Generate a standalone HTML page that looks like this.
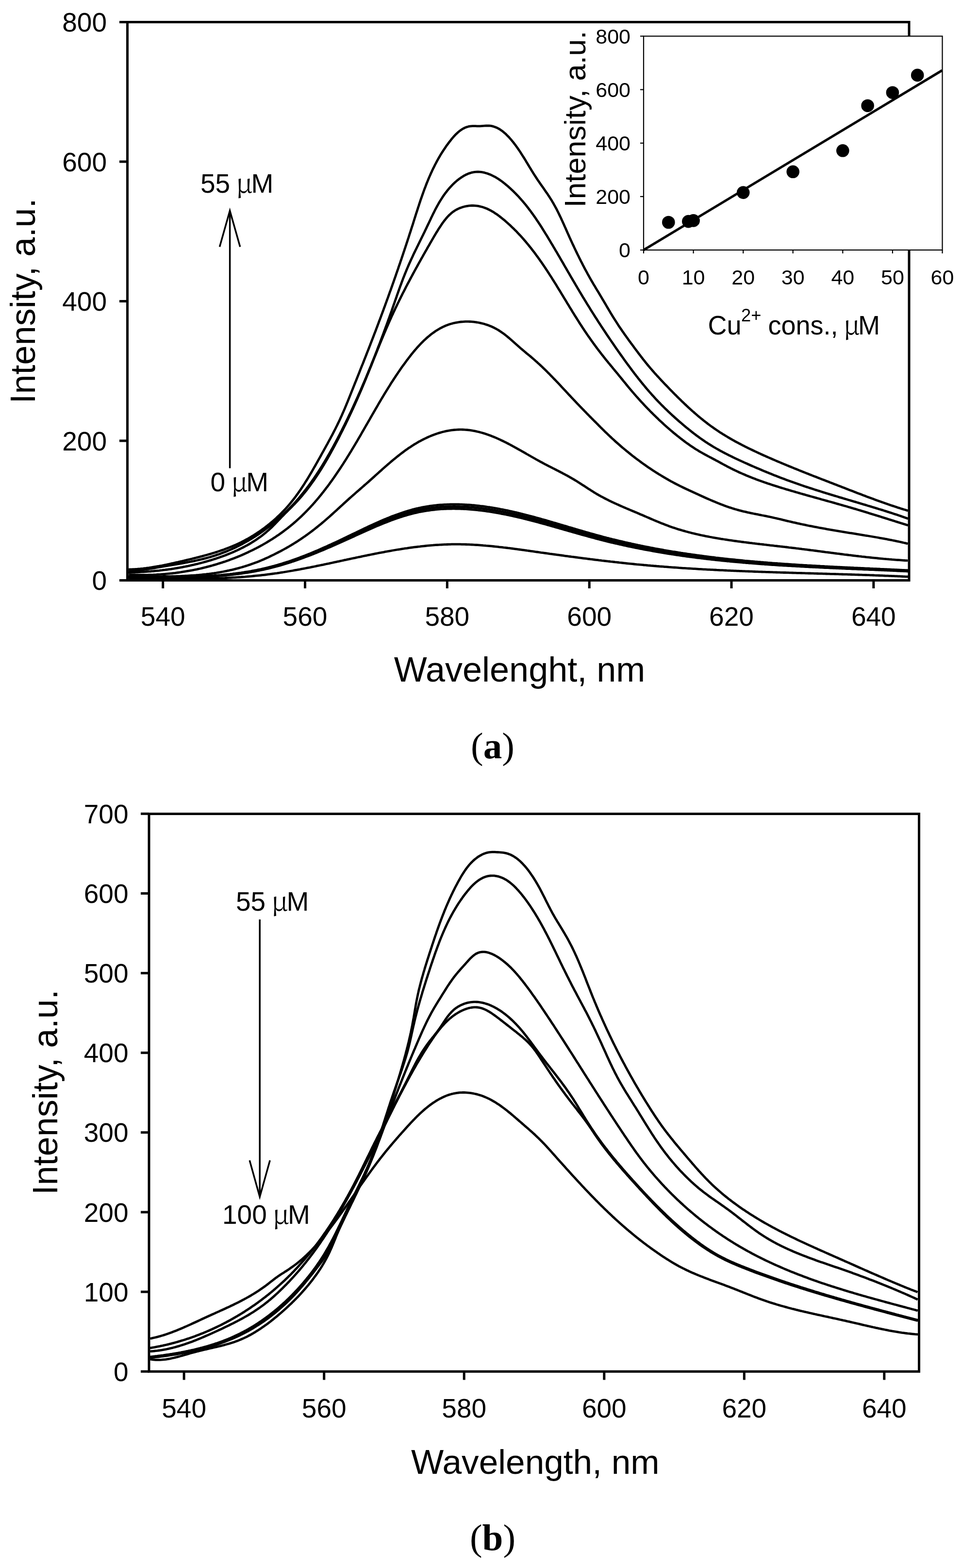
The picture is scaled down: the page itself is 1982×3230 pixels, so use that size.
<!DOCTYPE html>
<html><head><meta charset="utf-8"><title>Fluorescence spectra</title>
<style>html,body{margin:0;padding:0;background:#fff;}svg{display:block;}</style>
</head><body>
<svg width="1982" height="3230" viewBox="0 0 1982 3230">
<rect width="1982" height="3230" fill="#fff"/>
<g fill="none" stroke="#000" stroke-width="4.8" stroke-linejoin="round" stroke-linecap="butt">
<path d="M265.9 1192.0 L268.9 1192.0 L271.9 1192.0 L274.9 1192.0 L277.9 1192.0 L280.9 1192.0 L283.9 1192.1 L286.8 1192.1 L289.8 1192.1 L292.8 1192.1 L295.8 1192.1 L298.8 1192.2 L301.8 1192.2 L304.8 1192.2 L307.8 1192.2 L310.8 1192.3 L313.7 1192.3 L316.7 1192.3 L319.7 1192.3 L322.7 1192.4 L325.7 1192.4 L328.7 1192.4 L331.7 1192.4 L334.7 1192.4 L337.7 1192.5 L340.6 1192.5 L343.6 1192.5 L346.6 1192.5 L349.6 1192.5 L352.6 1192.5 L355.6 1192.5 L358.6 1192.6 L361.6 1192.6 L364.5 1192.6 L367.5 1192.6 L370.5 1192.6 L373.5 1192.6 L376.5 1192.6 L379.5 1192.5 L382.5 1192.5 L385.4 1192.5 L388.4 1192.5 L391.4 1192.5 L394.4 1192.4 L397.4 1192.4 L400.4 1192.4 L403.4 1192.4 L406.3 1192.3 L409.3 1192.3 L412.3 1192.2 L415.3 1192.2 L418.3 1192.1 L421.3 1192.1 L424.2 1192.0 L427.2 1191.9 L430.2 1191.8 L433.2 1191.8 L436.2 1191.7 L439.2 1191.6 L442.1 1191.5 L445.1 1191.4 L448.1 1191.3 L451.1 1191.2 L454.1 1191.1 L457.1 1190.9 L460.0 1190.8 L463.0 1190.7 L466.0 1190.5 L469.0 1190.4 L472.0 1190.2 L474.9 1190.1 L477.9 1189.9 L480.9 1189.7 L483.9 1189.6 L486.9 1189.4 L489.9 1189.2 L492.8 1189.0 L495.8 1188.8 L498.8 1188.5 L501.8 1188.3 L504.8 1188.1 L507.7 1187.8 L510.7 1187.6 L513.7 1187.3 L516.7 1187.1 L519.7 1186.8 L522.6 1186.5 L525.6 1186.2 L528.6 1185.9 L531.6 1185.6 L534.6 1185.3 L537.5 1185.0 L540.5 1184.6 L543.5 1184.3 L546.5 1184.0 L549.5 1183.6 L552.4 1183.2 L555.4 1182.8 L558.4 1182.4 L561.4 1182.0 L564.3 1181.6 L567.3 1181.2 L570.3 1180.8 L573.3 1180.3 L576.3 1179.9 L579.2 1179.4 L582.2 1179.0 L585.2 1178.5 L588.2 1178.0 L591.2 1177.5 L594.1 1177.0 L597.1 1176.5 L600.1 1176.0 L603.1 1175.5 L606.0 1174.9 L609.0 1174.4 L612.0 1173.9 L615.0 1173.3 L618.0 1172.8 L620.9 1172.2 L623.9 1171.7 L626.9 1171.1 L629.9 1170.5 L632.8 1169.9 L635.8 1169.3 L638.8 1168.8 L641.8 1168.2 L644.7 1167.6 L647.7 1167.0 L650.7 1166.4 L653.7 1165.7 L656.7 1165.1 L659.6 1164.5 L662.6 1163.9 L665.6 1163.3 L668.6 1162.6 L671.5 1162.0 L674.5 1161.4 L677.5 1160.8 L680.5 1160.1 L683.4 1159.5 L686.4 1158.8 L689.4 1158.2 L692.4 1157.6 L695.3 1156.9 L698.3 1156.3 L701.3 1155.6 L704.3 1155.0 L707.2 1154.4 L710.2 1153.7 L713.2 1153.1 L716.2 1152.4 L719.1 1151.8 L722.1 1151.2 L725.1 1150.5 L728.1 1149.9 L731.1 1149.3 L734.0 1148.6 L737.0 1148.0 L740.0 1147.4 L743.0 1146.8 L745.9 1146.1 L748.9 1145.5 L751.9 1144.9 L754.9 1144.3 L757.8 1143.7 L760.8 1143.1 L763.8 1142.5 L766.8 1141.9 L769.7 1141.3 L772.7 1140.7 L775.7 1140.1 L778.7 1139.5 L781.6 1138.9 L784.6 1138.4 L787.6 1137.8 L790.6 1137.3 L793.5 1136.7 L796.5 1136.2 L799.5 1135.6 L802.5 1135.1 L805.4 1134.6 L808.4 1134.0 L811.4 1133.5 L814.4 1133.0 L817.3 1132.5 L820.3 1132.0 L823.3 1131.6 L826.3 1131.1 L829.2 1130.6 L832.2 1130.2 L835.2 1129.7 L838.2 1129.3 L841.1 1128.8 L844.1 1128.4 L847.1 1128.0 L850.1 1127.6 L853.0 1127.2 L856.0 1126.8 L859.0 1126.5 L862.0 1126.1 L864.9 1125.8 L867.9 1125.4 L870.9 1125.1 L873.9 1124.8 L876.8 1124.5 L879.8 1124.2 L882.8 1123.9 L885.8 1123.6 L888.7 1123.4 L891.7 1123.2 L894.7 1122.9 L897.7 1122.7 L900.6 1122.5 L903.6 1122.3 L906.6 1122.1 L909.6 1122.0 L912.5 1121.8 L915.5 1121.7 L918.5 1121.6 L921.5 1121.5 L924.5 1121.4 L927.4 1121.3 L930.4 1121.2 L933.4 1121.2 L936.4 1121.2 L939.3 1121.2 L942.3 1121.2 L945.3 1121.2 L948.3 1121.2 L951.2 1121.3 L954.2 1121.3 L957.2 1121.4 L960.2 1121.5 L963.1 1121.6 L966.1 1121.7 L969.1 1121.9 L972.1 1122.0 L975.0 1122.1 L978.0 1122.3 L981.0 1122.5 L984.0 1122.7 L987.0 1122.9 L989.9 1123.1 L992.9 1123.3 L995.9 1123.6 L998.9 1123.8 L1001.8 1124.1 L1004.8 1124.3 L1007.8 1124.6 L1010.8 1124.9 L1013.7 1125.2 L1016.7 1125.5 L1019.7 1125.8 L1022.7 1126.1 L1025.7 1126.4 L1028.6 1126.8 L1031.6 1127.1 L1034.6 1127.4 L1037.6 1127.8 L1040.5 1128.1 L1043.5 1128.5 L1046.5 1128.9 L1049.5 1129.2 L1052.5 1129.6 L1055.4 1130.0 L1058.4 1130.4 L1061.4 1130.8 L1064.4 1131.2 L1067.4 1131.6 L1070.3 1132.0 L1073.3 1132.4 L1076.3 1132.8 L1079.3 1133.2 L1082.2 1133.6 L1085.2 1134.0 L1088.2 1134.5 L1091.2 1134.9 L1094.2 1135.3 L1097.1 1135.7 L1100.1 1136.1 L1103.1 1136.6 L1106.1 1137.0 L1109.1 1137.4 L1112.0 1137.8 L1115.0 1138.3 L1118.0 1138.7 L1121.0 1139.1 L1124.0 1139.5 L1126.9 1139.9 L1129.9 1140.3 L1132.9 1140.8 L1135.9 1141.2 L1138.9 1141.6 L1141.9 1142.0 L1144.8 1142.4 L1147.8 1142.8 L1150.8 1143.2 L1153.8 1143.6 L1156.8 1144.0 L1159.7 1144.4 L1162.7 1144.9 L1165.7 1145.3 L1168.7 1145.7 L1171.7 1146.1 L1174.7 1146.5 L1177.6 1146.9 L1180.6 1147.2 L1183.6 1147.6 L1186.6 1148.0 L1189.6 1148.4 L1192.5 1148.8 L1195.5 1149.2 L1198.5 1149.6 L1201.5 1150.0 L1204.5 1150.3 L1207.5 1150.7 L1210.4 1151.1 L1213.4 1151.5 L1216.4 1151.9 L1219.4 1152.2 L1222.4 1152.6 L1225.4 1153.0 L1228.4 1153.3 L1231.3 1153.7 L1234.3 1154.1 L1237.3 1154.4 L1240.3 1154.8 L1243.3 1155.1 L1246.3 1155.5 L1249.3 1155.8 L1252.2 1156.2 L1255.2 1156.5 L1258.2 1156.9 L1261.2 1157.2 L1264.2 1157.5 L1267.2 1157.9 L1270.2 1158.2 L1273.1 1158.5 L1276.1 1158.9 L1279.1 1159.2 L1282.1 1159.5 L1285.1 1159.8 L1288.1 1160.1 L1291.1 1160.5 L1294.1 1160.8 L1297.0 1161.1 L1300.0 1161.4 L1303.0 1161.7 L1306.0 1162.0 L1309.0 1162.3 L1312.0 1162.6 L1315.0 1162.8 L1318.0 1163.1 L1321.0 1163.4 L1323.9 1163.7 L1326.9 1164.0 L1329.9 1164.2 L1332.9 1164.5 L1335.9 1164.8 L1338.9 1165.0 L1341.9 1165.3 L1344.9 1165.5 L1347.9 1165.8 L1350.9 1166.0 L1353.8 1166.3 L1356.8 1166.5 L1359.8 1166.8 L1362.8 1167.0 L1365.8 1167.2 L1368.8 1167.5 L1371.8 1167.7 L1374.8 1167.9 L1377.8 1168.2 L1380.8 1168.4 L1383.8 1168.6 L1386.8 1168.8 L1389.8 1169.0 L1392.7 1169.2 L1395.7 1169.4 L1398.7 1169.7 L1401.7 1169.9 L1404.7 1170.1 L1407.7 1170.3 L1410.7 1170.4 L1413.7 1170.6 L1416.7 1170.8 L1419.7 1171.0 L1422.7 1171.2 L1425.7 1171.4 L1428.7 1171.6 L1431.7 1171.7 L1434.7 1171.9 L1437.7 1172.1 L1440.7 1172.3 L1443.7 1172.4 L1446.7 1172.6 L1449.7 1172.8 L1452.7 1172.9 L1455.7 1173.1 L1458.7 1173.3 L1461.7 1173.4 L1464.7 1173.6 L1467.7 1173.7 L1470.7 1173.9 L1473.7 1174.0 L1476.6 1174.2 L1479.6 1174.3 L1482.6 1174.5 L1485.6 1174.6 L1488.6 1174.7 L1491.6 1174.9 L1494.7 1175.0 L1497.7 1175.2 L1500.7 1175.3 L1503.7 1175.4 L1506.7 1175.6 L1509.7 1175.7 L1512.7 1175.8 L1515.7 1175.9 L1518.7 1176.1 L1521.7 1176.2 L1524.7 1176.3 L1527.7 1176.4 L1530.7 1176.6 L1533.7 1176.7 L1536.7 1176.8 L1539.7 1176.9 L1542.7 1177.0 L1545.7 1177.1 L1548.7 1177.2 L1551.7 1177.4 L1554.7 1177.5 L1557.7 1177.6 L1560.7 1177.7 L1563.7 1177.8 L1566.7 1177.9 L1569.7 1178.0 L1572.7 1178.1 L1575.8 1178.2 L1578.8 1178.3 L1581.8 1178.4 L1584.8 1178.5 L1587.8 1178.6 L1590.8 1178.7 L1593.8 1178.8 L1596.8 1178.9 L1599.8 1179.0 L1602.8 1179.1 L1605.8 1179.2 L1608.9 1179.3 L1611.9 1179.4 L1614.9 1179.5 L1617.9 1179.5 L1620.9 1179.6 L1623.9 1179.7 L1626.9 1179.8 L1629.9 1179.9 L1632.9 1180.0 L1636.0 1180.1 L1639.0 1180.2 L1642.0 1180.3 L1645.0 1180.3 L1648.0 1180.4 L1651.0 1180.5 L1654.0 1180.6 L1657.0 1180.7 L1660.1 1180.8 L1663.1 1180.9 L1666.1 1181.0 L1669.1 1181.0 L1672.1 1181.1 L1675.1 1181.2 L1678.2 1181.3 L1681.2 1181.4 L1684.2 1181.5 L1687.2 1181.6 L1690.2 1181.6 L1693.2 1181.7 L1696.3 1181.8 L1699.3 1181.9 L1702.3 1182.0 L1705.3 1182.1 L1708.3 1182.2 L1711.4 1182.3 L1714.4 1182.3 L1717.4 1182.4 L1720.4 1182.5 L1723.4 1182.6 L1726.5 1182.7 L1729.5 1182.8 L1732.5 1182.9 L1735.5 1183.0 L1738.5 1183.1 L1741.6 1183.2 L1744.6 1183.2 L1747.6 1183.3 L1750.6 1183.4 L1753.7 1183.5 L1756.7 1183.6 L1759.7 1183.7 L1762.7 1183.8 L1765.8 1183.9 L1768.8 1184.0 L1771.8 1184.1 L1774.8 1184.2 L1777.9 1184.3 L1780.9 1184.4 L1783.9 1184.5 L1786.9 1184.6 L1790.0 1184.7 L1793.0 1184.8 L1796.0 1184.9 L1799.0 1185.0 L1802.1 1185.2 L1805.1 1185.3 L1808.1 1185.4 L1811.2 1185.5 L1814.2 1185.6 L1817.2 1185.7 L1820.3 1185.8 L1823.3 1186.0 L1826.3 1186.1 L1829.3 1186.2 L1832.4 1186.3 L1835.4 1186.4 L1838.4 1186.6 L1841.5 1186.7 L1844.5 1186.8 L1847.5 1186.9 L1850.6 1187.1 L1853.6 1187.2 L1856.6 1187.3 L1859.7 1187.5 L1862.7 1187.6 L1865.8 1187.8 L1868.8 1187.9 L1871.0 1188.0"/>
<path d="M265.0 1190.3 L267.5 1190.3 L270.5 1190.3 L273.5 1190.3 L276.6 1190.3 L279.6 1190.3 L282.7 1190.3 L285.7 1190.3 L288.8 1190.3 L291.8 1190.3 L294.8 1190.3 L297.9 1190.4 L300.9 1190.4 L304.0 1190.4 L307.0 1190.4 L310.0 1190.4 L313.1 1190.4 L316.1 1190.4 L319.2 1190.4 L322.2 1190.4 L325.2 1190.4 L328.3 1190.4 L331.3 1190.4 L334.4 1190.4 L337.4 1190.4 L340.4 1190.4 L343.5 1190.3 L346.5 1190.3 L349.5 1190.3 L352.6 1190.3 L355.6 1190.3 L358.6 1190.2 L361.7 1190.2 L364.7 1190.1 L367.7 1190.1 L370.7 1190.1 L373.8 1190.0 L376.8 1189.9 L379.8 1189.9 L382.8 1189.8 L385.9 1189.7 L388.9 1189.7 L391.9 1189.6 L394.9 1189.5 L397.9 1189.4 L400.9 1189.3 L404.0 1189.2 L407.0 1189.1 L410.0 1188.9 L413.0 1188.8 L416.0 1188.7 L419.0 1188.5 L422.0 1188.4 L425.0 1188.2 L428.0 1188.0 L431.0 1187.9 L434.0 1187.7 L437.0 1187.5 L440.0 1187.3 L443.0 1187.1 L446.0 1186.8 L448.9 1186.6 L451.9 1186.4 L454.9 1186.1 L457.9 1185.9 L460.9 1185.6 L463.8 1185.3 L466.8 1185.0 L469.8 1184.7 L472.8 1184.4 L475.7 1184.1 L478.7 1183.8 L481.6 1183.4 L484.6 1183.1 L487.6 1182.7 L490.5 1182.3 L493.5 1181.9 L496.4 1181.5 L499.4 1181.1 L502.3 1180.7 L505.2 1180.2 L508.2 1179.8 L511.1 1179.3 L514.0 1178.8 L517.0 1178.3 L519.9 1177.8 L522.8 1177.3 L525.7 1176.8 L528.7 1176.2 L531.6 1175.7 L534.5 1175.1 L537.4 1174.5 L540.3 1173.9 L543.2 1173.3 L546.1 1172.6 L549.0 1172.0 L551.9 1171.3 L554.8 1170.6 L557.6 1169.9 L560.5 1169.2 L563.4 1168.5 L566.3 1167.7 L569.1 1166.9 L572.0 1166.2 L574.9 1165.4 L577.7 1164.6 L580.6 1163.7 L583.4 1162.9 L586.3 1162.0 L589.1 1161.2 L592.0 1160.3 L594.8 1159.4 L597.7 1158.5 L600.5 1157.6 L603.3 1156.6 L606.2 1155.7 L609.0 1154.7 L611.8 1153.7 L614.6 1152.7 L617.5 1151.7 L620.3 1150.7 L623.1 1149.7 L625.9 1148.7 L628.7 1147.6 L631.6 1146.6 L634.4 1145.5 L637.2 1144.4 L640.0 1143.4 L642.8 1142.3 L645.6 1141.2 L648.4 1140.0 L651.2 1138.9 L654.0 1137.8 L656.8 1136.6 L659.6 1135.5 L662.4 1134.3 L665.2 1133.2 L668.0 1132.0 L670.8 1130.8 L673.6 1129.6 L676.4 1128.4 L679.2 1127.2 L682.0 1126.0 L684.8 1124.8 L687.6 1123.6 L690.4 1122.4 L693.2 1121.1 L696.0 1119.9 L698.8 1118.6 L701.6 1117.4 L704.4 1116.1 L707.1 1114.9 L709.9 1113.6 L712.7 1112.3 L715.5 1111.1 L718.3 1109.8 L721.1 1108.5 L723.9 1107.2 L726.7 1106.0 L729.5 1104.7 L732.3 1103.4 L735.1 1102.1 L737.9 1100.8 L740.7 1099.6 L743.5 1098.3 L746.3 1097.0 L749.1 1095.8 L751.9 1094.5 L754.7 1093.2 L757.5 1092.0 L760.4 1090.7 L763.2 1089.5 L766.0 1088.3 L768.8 1087.0 L771.6 1085.8 L774.4 1084.6 L777.2 1083.4 L780.1 1082.2 L782.9 1081.0 L785.7 1079.9 L788.5 1078.7 L791.4 1077.6 L794.2 1076.5 L797.0 1075.4 L799.8 1074.3 L802.7 1073.2 L805.5 1072.1 L808.4 1071.1 L811.2 1070.0 L814.0 1069.0 L816.9 1068.0 L819.7 1067.0 L822.6 1066.1 L825.4 1065.1 L828.3 1064.2 L831.2 1063.3 L834.0 1062.4 L836.9 1061.6 L839.7 1060.8 L842.6 1060.0 L845.5 1059.2 L848.4 1058.4 L851.2 1057.7 L854.1 1057.0 L857.0 1056.3 L859.9 1055.7 L862.8 1055.0 L865.7 1054.5 L868.6 1053.9 L871.5 1053.3 L874.4 1052.8 L877.3 1052.4 L880.2 1051.9 L883.1 1051.5 L886.0 1051.1 L888.9 1050.7 L891.9 1050.3 L894.8 1050.0 L897.7 1049.7 L900.6 1049.4 L903.6 1049.2 L906.5 1048.9 L909.4 1048.7 L912.4 1048.6 L915.3 1048.4 L918.2 1048.3 L921.2 1048.2 L924.1 1048.1 L927.1 1048.0 L930.0 1048.0 L932.9 1047.9 L935.9 1047.9 L938.8 1048.0 L941.8 1048.0 L944.7 1048.1 L947.7 1048.2 L950.6 1048.3 L953.6 1048.4 L956.6 1048.5 L959.5 1048.7 L962.5 1048.9 L965.4 1049.1 L968.4 1049.3 L971.3 1049.5 L974.3 1049.8 L977.3 1050.1 L980.2 1050.3 L983.2 1050.7 L986.1 1051.0 L989.1 1051.3 L992.1 1051.7 L995.0 1052.0 L998.0 1052.4 L1000.9 1052.8 L1003.9 1053.3 L1006.9 1053.7 L1009.8 1054.2 L1012.8 1054.6 L1015.7 1055.1 L1018.7 1055.6 L1021.6 1056.1 L1024.6 1056.6 L1027.5 1057.1 L1030.5 1057.7 L1033.4 1058.3 L1036.4 1058.8 L1039.3 1059.4 L1042.3 1060.0 L1045.2 1060.6 L1048.2 1061.2 L1051.1 1061.8 L1054.1 1062.5 L1057.0 1063.1 L1060.0 1063.8 L1062.9 1064.5 L1065.8 1065.1 L1068.8 1065.8 L1071.7 1066.5 L1074.6 1067.2 L1077.6 1067.9 L1080.5 1068.7 L1083.4 1069.4 L1086.4 1070.1 L1089.3 1070.9 L1092.2 1071.6 L1095.2 1072.4 L1098.1 1073.2 L1101.0 1073.9 L1104.0 1074.7 L1106.9 1075.5 L1109.8 1076.3 L1112.7 1077.1 L1115.7 1077.9 L1118.6 1078.7 L1121.5 1079.5 L1124.5 1080.3 L1127.4 1081.1 L1130.3 1081.9 L1133.2 1082.7 L1136.2 1083.6 L1139.1 1084.4 L1142.0 1085.2 L1144.9 1086.1 L1147.9 1086.9 L1150.8 1087.7 L1153.7 1088.6 L1156.6 1089.4 L1159.5 1090.2 L1162.5 1091.1 L1165.4 1091.9 L1168.3 1092.8 L1171.2 1093.6 L1174.2 1094.4 L1177.1 1095.3 L1180.0 1096.1 L1182.9 1096.9 L1185.9 1097.8 L1188.8 1098.6 L1191.7 1099.4 L1194.6 1100.3 L1197.6 1101.1 L1200.5 1101.9 L1203.4 1102.7 L1206.3 1103.5 L1209.3 1104.3 L1212.2 1105.2 L1215.1 1106.0 L1218.0 1106.8 L1221.0 1107.5 L1223.9 1108.3 L1226.8 1109.1 L1229.7 1109.9 L1232.7 1110.7 L1235.6 1111.4 L1238.5 1112.2 L1241.5 1112.9 L1244.4 1113.7 L1247.3 1114.4 L1250.3 1115.1 L1253.2 1115.9 L1256.1 1116.6 L1259.1 1117.3 L1262.0 1118.0 L1264.9 1118.7 L1267.9 1119.4 L1270.8 1120.0 L1273.8 1120.7 L1276.7 1121.4 L1279.6 1122.0 L1282.6 1122.7 L1285.5 1123.4 L1288.5 1124.0 L1291.4 1124.6 L1294.4 1125.3 L1297.3 1125.9 L1300.2 1126.5 L1303.2 1127.1 L1306.1 1127.7 L1309.1 1128.3 L1312.0 1128.9 L1315.0 1129.5 L1317.9 1130.1 L1320.9 1130.7 L1323.8 1131.2 L1326.8 1131.8 L1329.7 1132.4 L1332.7 1132.9 L1335.6 1133.5 L1338.6 1134.0 L1341.5 1134.5 L1344.5 1135.1 L1347.4 1135.6 L1350.4 1136.1 L1353.3 1136.6 L1356.3 1137.1 L1359.3 1137.7 L1362.2 1138.2 L1365.2 1138.6 L1368.1 1139.1 L1371.1 1139.6 L1374.0 1140.1 L1377.0 1140.6 L1380.0 1141.0 L1382.9 1141.5 L1385.9 1141.9 L1388.9 1142.4 L1391.8 1142.8 L1394.8 1143.3 L1397.7 1143.7 L1400.7 1144.2 L1403.7 1144.6 L1406.6 1145.0 L1409.6 1145.4 L1412.6 1145.8 L1415.5 1146.3 L1418.5 1146.7 L1421.5 1147.1 L1424.4 1147.4 L1427.4 1147.8 L1430.4 1148.2 L1433.3 1148.6 L1436.3 1149.0 L1439.3 1149.4 L1442.3 1149.7 L1445.2 1150.1 L1448.2 1150.4 L1451.2 1150.8 L1454.1 1151.2 L1457.1 1151.5 L1460.1 1151.8 L1463.1 1152.2 L1466.0 1152.5 L1469.0 1152.9 L1472.0 1153.2 L1475.0 1153.5 L1478.0 1153.8 L1480.9 1154.1 L1483.9 1154.4 L1486.9 1154.8 L1489.9 1155.1 L1492.8 1155.4 L1495.8 1155.7 L1498.8 1156.0 L1501.8 1156.2 L1504.8 1156.5 L1507.8 1156.8 L1510.7 1157.1 L1513.7 1157.4 L1516.7 1157.6 L1519.7 1157.9 L1522.7 1158.2 L1525.7 1158.4 L1528.6 1158.7 L1531.6 1159.0 L1534.6 1159.2 L1537.6 1159.5 L1540.6 1159.7 L1543.6 1160.0 L1546.6 1160.2 L1549.6 1160.4 L1552.5 1160.7 L1555.5 1160.9 L1558.5 1161.1 L1561.5 1161.4 L1564.5 1161.6 L1567.5 1161.8 L1570.5 1162.0 L1573.5 1162.2 L1576.5 1162.5 L1579.5 1162.7 L1582.4 1162.9 L1585.4 1163.1 L1588.4 1163.3 L1591.4 1163.5 L1594.4 1163.7 L1597.4 1163.9 L1600.4 1164.1 L1603.4 1164.3 L1606.4 1164.5 L1609.4 1164.6 L1612.4 1164.8 L1615.4 1165.0 L1618.4 1165.2 L1621.4 1165.4 L1624.4 1165.6 L1627.4 1165.7 L1630.4 1165.9 L1633.4 1166.1 L1636.4 1166.2 L1639.4 1166.4 L1642.4 1166.6 L1645.4 1166.7 L1648.4 1166.9 L1651.4 1167.1 L1654.4 1167.2 L1657.4 1167.4 L1660.4 1167.5 L1663.4 1167.7 L1666.4 1167.8 L1669.4 1168.0 L1672.4 1168.1 L1675.4 1168.3 L1678.4 1168.4 L1681.4 1168.6 L1684.4 1168.7 L1687.4 1168.9 L1690.4 1169.0 L1693.4 1169.2 L1696.5 1169.3 L1699.5 1169.5 L1702.5 1169.6 L1705.5 1169.7 L1708.5 1169.9 L1711.5 1170.0 L1714.5 1170.1 L1717.5 1170.3 L1720.5 1170.4 L1723.5 1170.5 L1726.5 1170.7 L1729.5 1170.8 L1732.6 1170.9 L1735.6 1171.1 L1738.6 1171.2 L1741.6 1171.3 L1744.6 1171.5 L1747.6 1171.6 L1750.6 1171.7 L1753.6 1171.8 L1756.6 1172.0 L1759.7 1172.1 L1762.7 1172.2 L1765.7 1172.4 L1768.7 1172.5 L1771.7 1172.6 L1774.7 1172.7 L1777.7 1172.9 L1780.7 1173.0 L1783.8 1173.1 L1786.8 1173.2 L1789.8 1173.4 L1792.8 1173.5 L1795.8 1173.6 L1798.8 1173.7 L1801.9 1173.9 L1804.9 1174.0 L1807.9 1174.1 L1810.9 1174.3 L1813.9 1174.4 L1816.9 1174.5 L1820.0 1174.7 L1823.0 1174.8 L1826.0 1174.9 L1829.0 1175.0 L1832.0 1175.2 L1835.0 1175.3 L1838.1 1175.4 L1841.1 1175.6 L1844.1 1175.7 L1847.1 1175.9 L1850.1 1176.0 L1853.2 1176.1 L1856.2 1176.3 L1859.2 1176.4 L1862.2 1176.6 L1865.2 1176.7 L1868.3 1176.8 L1871.0 1177.0"/>
<path d="M265.0 1189.7 L267.5 1189.7 L270.5 1189.7 L273.5 1189.7 L276.6 1189.7 L279.6 1189.7 L282.7 1189.7 L285.7 1189.7 L288.7 1189.7 L291.8 1189.7 L294.8 1189.7 L297.8 1189.7 L300.9 1189.7 L303.9 1189.7 L307.0 1189.8 L310.0 1189.8 L313.0 1189.8 L316.1 1189.8 L319.1 1189.8 L322.1 1189.8 L325.2 1189.8 L328.2 1189.7 L331.3 1189.7 L334.3 1189.7 L337.3 1189.7 L340.4 1189.7 L343.4 1189.7 L346.4 1189.7 L349.5 1189.6 L352.5 1189.6 L355.5 1189.6 L358.5 1189.6 L361.6 1189.5 L364.6 1189.5 L367.6 1189.4 L370.7 1189.4 L373.7 1189.3 L376.7 1189.3 L379.7 1189.2 L382.7 1189.1 L385.8 1189.1 L388.8 1189.0 L391.8 1188.9 L394.8 1188.8 L397.8 1188.7 L400.8 1188.6 L403.9 1188.5 L406.9 1188.4 L409.9 1188.2 L412.9 1188.1 L415.9 1188.0 L418.9 1187.8 L421.9 1187.7 L424.9 1187.5 L427.9 1187.3 L430.9 1187.2 L433.9 1187.0 L436.9 1186.8 L439.9 1186.6 L442.9 1186.4 L445.8 1186.1 L448.8 1185.9 L451.8 1185.7 L454.8 1185.4 L457.8 1185.1 L460.7 1184.9 L463.7 1184.6 L466.7 1184.3 L469.6 1184.0 L472.6 1183.7 L475.6 1183.3 L478.5 1183.0 L481.5 1182.7 L484.5 1182.3 L487.4 1181.9 L490.4 1181.5 L493.3 1181.1 L496.2 1180.7 L499.2 1180.3 L502.1 1179.9 L505.1 1179.4 L508.0 1179.0 L510.9 1178.5 L513.9 1178.0 L516.8 1177.5 L519.7 1177.0 L522.6 1176.4 L525.5 1175.9 L528.4 1175.3 L531.4 1174.8 L534.3 1174.2 L537.2 1173.6 L540.1 1172.9 L542.9 1172.3 L545.8 1171.7 L548.7 1171.0 L551.6 1170.3 L554.5 1169.6 L557.4 1168.9 L560.2 1168.1 L563.1 1167.4 L566.0 1166.6 L568.8 1165.8 L571.7 1165.0 L574.5 1164.2 L577.4 1163.4 L580.2 1162.6 L583.1 1161.7 L585.9 1160.8 L588.8 1159.9 L591.6 1159.0 L594.4 1158.1 L597.3 1157.2 L600.1 1156.2 L602.9 1155.3 L605.8 1154.3 L608.6 1153.3 L611.4 1152.3 L614.2 1151.3 L617.0 1150.3 L619.8 1149.2 L622.6 1148.2 L625.4 1147.1 L628.2 1146.1 L631.1 1145.0 L633.9 1143.9 L636.7 1142.8 L639.4 1141.7 L642.2 1140.6 L645.0 1139.4 L647.8 1138.3 L650.6 1137.1 L653.4 1136.0 L656.2 1134.8 L659.0 1133.6 L661.8 1132.4 L664.6 1131.2 L667.4 1130.0 L670.1 1128.8 L672.9 1127.6 L675.7 1126.4 L678.5 1125.2 L681.3 1123.9 L684.0 1122.7 L686.8 1121.4 L689.6 1120.2 L692.4 1118.9 L695.2 1117.6 L698.0 1116.4 L700.7 1115.1 L703.5 1113.8 L706.3 1112.5 L709.1 1111.2 L711.9 1109.9 L714.6 1108.6 L717.4 1107.3 L720.2 1106.0 L723.0 1104.7 L725.8 1103.4 L728.6 1102.1 L731.3 1100.8 L734.1 1099.5 L736.9 1098.2 L739.7 1096.9 L742.5 1095.6 L745.3 1094.3 L748.1 1093.0 L750.9 1091.7 L753.6 1090.4 L756.4 1089.1 L759.2 1087.9 L762.0 1086.6 L764.8 1085.3 L767.6 1084.1 L770.4 1082.9 L773.2 1081.6 L776.0 1080.4 L778.8 1079.2 L781.7 1078.0 L784.5 1076.8 L787.3 1075.6 L790.1 1074.4 L792.9 1073.3 L795.7 1072.2 L798.5 1071.0 L801.4 1069.9 L804.2 1068.8 L807.0 1067.7 L809.8 1066.7 L812.7 1065.6 L815.5 1064.6 L818.3 1063.6 L821.2 1062.6 L824.0 1061.7 L826.9 1060.7 L829.7 1059.8 L832.6 1058.9 L835.4 1058.0 L838.3 1057.2 L841.1 1056.3 L844.0 1055.5 L846.8 1054.7 L849.7 1054.0 L852.6 1053.2 L855.5 1052.5 L858.3 1051.9 L861.2 1051.2 L864.1 1050.6 L867.0 1050.0 L869.9 1049.4 L872.8 1048.9 L875.7 1048.4 L878.6 1047.9 L881.5 1047.4 L884.4 1047.0 L887.3 1046.6 L890.2 1046.2 L893.1 1045.9 L896.0 1045.6 L898.9 1045.3 L901.9 1045.0 L904.8 1044.7 L907.7 1044.5 L910.6 1044.3 L913.6 1044.1 L916.5 1044.0 L919.4 1043.8 L922.4 1043.7 L925.3 1043.7 L928.3 1043.6 L931.2 1043.6 L934.1 1043.5 L937.1 1043.5 L940.0 1043.6 L943.0 1043.6 L945.9 1043.7 L948.9 1043.8 L951.8 1043.9 L954.8 1044.0 L957.7 1044.1 L960.7 1044.3 L963.6 1044.5 L966.6 1044.7 L969.5 1044.9 L972.5 1045.2 L975.4 1045.4 L978.4 1045.7 L981.4 1046.0 L984.3 1046.3 L987.3 1046.6 L990.2 1047.0 L993.2 1047.4 L996.1 1047.7 L999.1 1048.1 L1002.1 1048.5 L1005.0 1049.0 L1008.0 1049.4 L1010.9 1049.9 L1013.9 1050.3 L1016.8 1050.8 L1019.8 1051.3 L1022.7 1051.8 L1025.7 1052.4 L1028.6 1052.9 L1031.6 1053.5 L1034.5 1054.0 L1037.5 1054.6 L1040.4 1055.2 L1043.4 1055.8 L1046.3 1056.4 L1049.2 1057.0 L1052.2 1057.7 L1055.1 1058.3 L1058.1 1059.0 L1061.0 1059.6 L1063.9 1060.3 L1066.9 1061.0 L1069.8 1061.7 L1072.7 1062.4 L1075.7 1063.1 L1078.6 1063.8 L1081.5 1064.6 L1084.5 1065.3 L1087.4 1066.0 L1090.3 1066.8 L1093.2 1067.6 L1096.2 1068.3 L1099.1 1069.1 L1102.0 1069.9 L1104.9 1070.7 L1107.9 1071.5 L1110.8 1072.2 L1113.7 1073.1 L1116.6 1073.9 L1119.6 1074.7 L1122.5 1075.5 L1125.4 1076.3 L1128.3 1077.1 L1131.2 1078.0 L1134.2 1078.8 L1137.1 1079.6 L1140.0 1080.5 L1142.9 1081.3 L1145.8 1082.1 L1148.8 1083.0 L1151.7 1083.8 L1154.6 1084.7 L1157.5 1085.5 L1160.4 1086.4 L1163.4 1087.2 L1166.3 1088.1 L1169.2 1088.9 L1172.1 1089.8 L1175.0 1090.6 L1177.9 1091.5 L1180.9 1092.3 L1183.8 1093.2 L1186.7 1094.0 L1189.6 1094.9 L1192.5 1095.7 L1195.5 1096.5 L1198.4 1097.4 L1201.3 1098.2 L1204.2 1099.0 L1207.1 1099.8 L1210.1 1100.7 L1213.0 1101.5 L1215.9 1102.3 L1218.8 1103.1 L1221.8 1103.9 L1224.7 1104.7 L1227.6 1105.5 L1230.5 1106.3 L1233.5 1107.1 L1236.4 1107.8 L1239.3 1108.6 L1242.2 1109.4 L1245.2 1110.1 L1248.1 1110.9 L1251.0 1111.6 L1253.9 1112.3 L1256.9 1113.1 L1259.8 1113.8 L1262.7 1114.5 L1265.7 1115.2 L1268.6 1115.9 L1271.5 1116.6 L1274.5 1117.3 L1277.4 1118.0 L1280.3 1118.7 L1283.3 1119.3 L1286.2 1120.0 L1289.2 1120.6 L1292.1 1121.3 L1295.0 1121.9 L1298.0 1122.6 L1300.9 1123.2 L1303.8 1123.8 L1306.8 1124.5 L1309.7 1125.1 L1312.7 1125.7 L1315.6 1126.3 L1318.6 1126.9 L1321.5 1127.5 L1324.4 1128.1 L1327.4 1128.6 L1330.3 1129.2 L1333.3 1129.8 L1336.2 1130.4 L1339.2 1130.9 L1342.1 1131.5 L1345.1 1132.0 L1348.0 1132.5 L1351.0 1133.1 L1353.9 1133.6 L1356.9 1134.1 L1359.8 1134.7 L1362.8 1135.2 L1365.7 1135.7 L1368.7 1136.2 L1371.6 1136.7 L1374.6 1137.2 L1377.6 1137.7 L1380.5 1138.1 L1383.5 1138.6 L1386.4 1139.1 L1389.4 1139.6 L1392.3 1140.0 L1395.3 1140.5 L1398.3 1140.9 L1401.2 1141.4 L1404.2 1141.8 L1407.1 1142.3 L1410.1 1142.7 L1413.1 1143.1 L1416.0 1143.6 L1419.0 1144.0 L1421.9 1144.4 L1424.9 1144.8 L1427.9 1145.2 L1430.8 1145.6 L1433.8 1146.0 L1436.8 1146.4 L1439.7 1146.8 L1442.7 1147.2 L1445.7 1147.6 L1448.6 1147.9 L1451.6 1148.3 L1454.6 1148.7 L1457.6 1149.0 L1460.5 1149.4 L1463.5 1149.8 L1466.5 1150.1 L1469.4 1150.5 L1472.4 1150.8 L1475.4 1151.1 L1478.4 1151.5 L1481.3 1151.8 L1484.3 1152.1 L1487.3 1152.5 L1490.3 1152.8 L1493.2 1153.1 L1496.2 1153.4 L1499.2 1153.7 L1502.2 1154.0 L1505.1 1154.3 L1508.1 1154.6 L1511.1 1154.9 L1514.1 1155.2 L1517.0 1155.5 L1520.0 1155.8 L1523.0 1156.1 L1526.0 1156.4 L1529.0 1156.6 L1532.0 1156.9 L1534.9 1157.2 L1537.9 1157.4 L1540.9 1157.7 L1543.9 1158.0 L1546.9 1158.2 L1549.9 1158.5 L1552.8 1158.7 L1555.8 1159.0 L1558.8 1159.2 L1561.8 1159.5 L1564.8 1159.7 L1567.8 1159.9 L1570.8 1160.2 L1573.7 1160.4 L1576.7 1160.6 L1579.7 1160.8 L1582.7 1161.1 L1585.7 1161.3 L1588.7 1161.5 L1591.7 1161.7 L1594.7 1161.9 L1597.7 1162.1 L1600.7 1162.4 L1603.6 1162.6 L1606.6 1162.8 L1609.6 1163.0 L1612.6 1163.2 L1615.6 1163.4 L1618.6 1163.6 L1621.6 1163.7 L1624.6 1163.9 L1627.6 1164.1 L1630.6 1164.3 L1633.6 1164.5 L1636.6 1164.7 L1639.6 1164.9 L1642.6 1165.0 L1645.6 1165.2 L1648.6 1165.4 L1651.6 1165.6 L1654.6 1165.7 L1657.6 1165.9 L1660.6 1166.1 L1663.6 1166.2 L1666.6 1166.4 L1669.6 1166.6 L1672.6 1166.7 L1675.6 1166.9 L1678.6 1167.0 L1681.6 1167.2 L1684.6 1167.4 L1687.6 1167.5 L1690.6 1167.7 L1693.6 1167.8 L1696.6 1168.0 L1699.6 1168.1 L1702.6 1168.3 L1705.6 1168.4 L1708.6 1168.6 L1711.6 1168.7 L1714.6 1168.9 L1717.6 1169.0 L1720.6 1169.1 L1723.6 1169.3 L1726.6 1169.4 L1729.6 1169.6 L1732.7 1169.7 L1735.7 1169.8 L1738.7 1170.0 L1741.7 1170.1 L1744.7 1170.2 L1747.7 1170.4 L1750.7 1170.5 L1753.7 1170.7 L1756.7 1170.8 L1759.7 1170.9 L1762.7 1171.1 L1765.8 1171.2 L1768.8 1171.3 L1771.8 1171.4 L1774.8 1171.6 L1777.8 1171.7 L1780.8 1171.8 L1783.8 1172.0 L1786.8 1172.1 L1789.8 1172.2 L1792.9 1172.4 L1795.9 1172.5 L1798.9 1172.6 L1801.9 1172.8 L1804.9 1172.9 L1807.9 1173.0 L1810.9 1173.1 L1814.0 1173.3 L1817.0 1173.4 L1820.0 1173.5 L1823.0 1173.7 L1826.0 1173.8 L1829.0 1173.9 L1832.1 1174.1 L1835.1 1174.2 L1838.1 1174.3 L1841.1 1174.5 L1844.1 1174.6 L1847.1 1174.7 L1850.2 1174.9 L1853.2 1175.0 L1856.2 1175.2 L1859.2 1175.3 L1862.2 1175.4 L1865.3 1175.6 L1868.3 1175.7 L1871.0 1175.9"/>
<path d="M265.0 1189.3 L267.5 1189.3 L270.5 1189.2 L273.6 1189.2 L276.6 1189.2 L279.6 1189.2 L282.7 1189.2 L285.7 1189.2 L288.7 1189.2 L291.8 1189.2 L294.8 1189.2 L297.9 1189.2 L300.9 1189.2 L303.9 1189.2 L307.0 1189.2 L310.0 1189.2 L313.1 1189.2 L316.1 1189.2 L319.2 1189.2 L322.2 1189.1 L325.2 1189.1 L328.3 1189.1 L331.3 1189.1 L334.3 1189.1 L337.4 1189.1 L340.4 1189.1 L343.5 1189.0 L346.5 1189.0 L349.5 1189.0 L352.6 1189.0 L355.6 1188.9 L358.6 1188.9 L361.7 1188.8 L364.7 1188.8 L367.7 1188.7 L370.8 1188.7 L373.8 1188.6 L376.8 1188.6 L379.8 1188.5 L382.9 1188.4 L385.9 1188.3 L388.9 1188.3 L391.9 1188.2 L395.0 1188.1 L398.0 1188.0 L401.0 1187.9 L404.0 1187.7 L407.0 1187.6 L410.0 1187.5 L413.0 1187.3 L416.1 1187.2 L419.1 1187.0 L422.1 1186.9 L425.1 1186.7 L428.1 1186.5 L431.1 1186.4 L434.1 1186.2 L437.1 1186.0 L440.1 1185.8 L443.1 1185.5 L446.0 1185.3 L449.0 1185.1 L452.0 1184.8 L455.0 1184.6 L458.0 1184.3 L461.0 1184.0 L463.9 1183.7 L466.9 1183.4 L469.9 1183.1 L472.9 1182.8 L475.8 1182.4 L478.8 1182.1 L481.7 1181.7 L484.7 1181.4 L487.7 1181.0 L490.6 1180.6 L493.6 1180.2 L496.5 1179.8 L499.4 1179.3 L502.4 1178.9 L505.3 1178.4 L508.3 1178.0 L511.2 1177.5 L514.1 1177.0 L517.0 1176.5 L520.0 1175.9 L522.9 1175.4 L525.8 1174.8 L528.7 1174.3 L531.6 1173.7 L534.5 1173.1 L537.4 1172.5 L540.3 1171.8 L543.2 1171.2 L546.1 1170.5 L549.0 1169.8 L551.9 1169.1 L554.7 1168.4 L557.6 1167.7 L560.5 1166.9 L563.4 1166.2 L566.2 1165.4 L569.1 1164.6 L571.9 1163.8 L574.8 1162.9 L577.6 1162.1 L580.5 1161.2 L583.3 1160.3 L586.2 1159.4 L589.0 1158.5 L591.8 1157.6 L594.7 1156.7 L597.5 1155.7 L600.3 1154.8 L603.1 1153.8 L605.9 1152.8 L608.8 1151.8 L611.6 1150.8 L614.4 1149.7 L617.2 1148.7 L620.0 1147.6 L622.8 1146.6 L625.6 1145.5 L628.4 1144.4 L631.2 1143.3 L634.0 1142.2 L636.8 1141.1 L639.6 1139.9 L642.4 1138.8 L645.1 1137.6 L647.9 1136.5 L650.7 1135.3 L653.5 1134.1 L656.3 1132.9 L659.1 1131.7 L661.8 1130.5 L664.6 1129.3 L667.4 1128.0 L670.2 1126.8 L672.9 1125.6 L675.7 1124.3 L678.5 1123.0 L681.3 1121.8 L684.0 1120.5 L686.8 1119.2 L689.6 1117.9 L692.4 1116.7 L695.1 1115.4 L697.9 1114.1 L700.7 1112.8 L703.4 1111.4 L706.2 1110.1 L709.0 1108.8 L711.8 1107.5 L714.5 1106.1 L717.3 1104.8 L720.1 1103.5 L722.8 1102.1 L725.6 1100.8 L728.4 1099.5 L731.2 1098.1 L733.9 1096.8 L736.7 1095.4 L739.5 1094.1 L742.3 1092.8 L745.1 1091.4 L747.8 1090.1 L750.6 1088.8 L753.4 1087.5 L756.2 1086.1 L759.0 1084.8 L761.8 1083.5 L764.6 1082.2 L767.4 1081.0 L770.1 1079.7 L772.9 1078.4 L775.7 1077.1 L778.5 1075.9 L781.3 1074.7 L784.1 1073.4 L786.9 1072.2 L789.7 1071.0 L792.6 1069.8 L795.4 1068.7 L798.2 1067.5 L801.0 1066.4 L803.8 1065.2 L806.6 1064.1 L809.4 1063.0 L812.3 1062.0 L815.1 1060.9 L817.9 1059.9 L820.8 1058.9 L823.6 1057.9 L826.4 1056.9 L829.3 1055.9 L832.1 1055.0 L835.0 1054.1 L837.8 1053.2 L840.7 1052.3 L843.5 1051.5 L846.4 1050.7 L849.2 1049.9 L852.1 1049.1 L855.0 1048.4 L857.9 1047.7 L860.7 1047.0 L863.6 1046.4 L866.5 1045.8 L869.4 1045.2 L872.3 1044.6 L875.2 1044.1 L878.1 1043.6 L881.0 1043.1 L883.9 1042.7 L886.8 1042.2 L889.7 1041.8 L892.6 1041.5 L895.5 1041.1 L898.4 1040.8 L901.3 1040.5 L904.3 1040.2 L907.2 1040.0 L910.1 1039.8 L913.1 1039.6 L916.0 1039.4 L918.9 1039.3 L921.9 1039.2 L924.8 1039.1 L927.7 1039.0 L930.7 1038.9 L933.6 1038.9 L936.6 1038.9 L939.5 1038.9 L942.5 1039.0 L945.4 1039.0 L948.4 1039.1 L951.3 1039.2 L954.3 1039.3 L957.2 1039.5 L960.2 1039.6 L963.1 1039.8 L966.1 1040.0 L969.0 1040.2 L972.0 1040.5 L974.9 1040.7 L977.9 1041.0 L980.9 1041.3 L983.8 1041.6 L986.8 1041.9 L989.7 1042.3 L992.7 1042.6 L995.7 1043.0 L998.6 1043.4 L1001.6 1043.8 L1004.5 1044.3 L1007.5 1044.7 L1010.4 1045.2 L1013.4 1045.6 L1016.4 1046.1 L1019.3 1046.6 L1022.3 1047.1 L1025.2 1047.7 L1028.2 1048.2 L1031.1 1048.8 L1034.1 1049.3 L1037.0 1049.9 L1040.0 1050.5 L1042.9 1051.1 L1045.8 1051.7 L1048.8 1052.4 L1051.7 1053.0 L1054.7 1053.7 L1057.6 1054.3 L1060.6 1055.0 L1063.5 1055.7 L1066.4 1056.4 L1069.4 1057.1 L1072.3 1057.8 L1075.2 1058.5 L1078.2 1059.3 L1081.1 1060.0 L1084.0 1060.8 L1087.0 1061.5 L1089.9 1062.3 L1092.8 1063.0 L1095.7 1063.8 L1098.7 1064.6 L1101.6 1065.4 L1104.5 1066.2 L1107.5 1067.0 L1110.4 1067.8 L1113.3 1068.6 L1116.2 1069.5 L1119.1 1070.3 L1122.1 1071.1 L1125.0 1071.9 L1127.9 1072.8 L1130.8 1073.6 L1133.8 1074.5 L1136.7 1075.3 L1139.6 1076.2 L1142.5 1077.0 L1145.4 1077.9 L1148.4 1078.8 L1151.3 1079.6 L1154.2 1080.5 L1157.1 1081.3 L1160.0 1082.2 L1163.0 1083.1 L1165.9 1083.9 L1168.8 1084.8 L1171.7 1085.7 L1174.6 1086.5 L1177.6 1087.4 L1180.5 1088.3 L1183.4 1089.1 L1186.3 1090.0 L1189.2 1090.8 L1192.2 1091.7 L1195.1 1092.6 L1198.0 1093.4 L1200.9 1094.3 L1203.8 1095.1 L1206.8 1096.0 L1209.7 1096.8 L1212.6 1097.6 L1215.5 1098.5 L1218.4 1099.3 L1221.4 1100.1 L1224.3 1100.9 L1227.2 1101.7 L1230.1 1102.5 L1233.1 1103.3 L1236.0 1104.1 L1238.9 1104.9 L1241.9 1105.7 L1244.8 1106.5 L1247.7 1107.2 L1250.6 1108.0 L1253.6 1108.7 L1256.5 1109.5 L1259.4 1110.2 L1262.4 1111.0 L1265.3 1111.7 L1268.2 1112.4 L1271.2 1113.1 L1274.1 1113.8 L1277.0 1114.5 L1280.0 1115.2 L1282.9 1115.9 L1285.8 1116.6 L1288.8 1117.3 L1291.7 1117.9 L1294.7 1118.6 L1297.6 1119.2 L1300.5 1119.9 L1303.5 1120.5 L1306.4 1121.2 L1309.4 1121.8 L1312.3 1122.4 L1315.2 1123.1 L1318.2 1123.7 L1321.1 1124.3 L1324.1 1124.9 L1327.0 1125.5 L1330.0 1126.1 L1332.9 1126.7 L1335.9 1127.2 L1338.8 1127.8 L1341.8 1128.4 L1344.7 1128.9 L1347.7 1129.5 L1350.6 1130.1 L1353.6 1130.6 L1356.5 1131.1 L1359.5 1131.7 L1362.4 1132.2 L1365.4 1132.7 L1368.3 1133.3 L1371.3 1133.8 L1374.2 1134.3 L1377.2 1134.8 L1380.2 1135.3 L1383.1 1135.8 L1386.1 1136.3 L1389.0 1136.7 L1392.0 1137.2 L1394.9 1137.7 L1397.9 1138.2 L1400.9 1138.6 L1403.8 1139.1 L1406.8 1139.5 L1409.8 1140.0 L1412.7 1140.4 L1415.7 1140.9 L1418.6 1141.3 L1421.6 1141.7 L1424.6 1142.2 L1427.5 1142.6 L1430.5 1143.0 L1433.5 1143.4 L1436.4 1143.8 L1439.4 1144.2 L1442.4 1144.6 L1445.3 1145.0 L1448.3 1145.4 L1451.3 1145.8 L1454.3 1146.2 L1457.2 1146.6 L1460.2 1147.0 L1463.2 1147.3 L1466.1 1147.7 L1469.1 1148.0 L1472.1 1148.4 L1475.1 1148.8 L1478.0 1149.1 L1481.0 1149.5 L1484.0 1149.8 L1487.0 1150.1 L1489.9 1150.5 L1492.9 1150.8 L1495.9 1151.1 L1498.9 1151.5 L1501.8 1151.8 L1504.8 1152.1 L1507.8 1152.4 L1510.8 1152.7 L1513.8 1153.0 L1516.7 1153.3 L1519.7 1153.6 L1522.7 1153.9 L1525.7 1154.2 L1528.7 1154.5 L1531.7 1154.8 L1534.6 1155.1 L1537.6 1155.3 L1540.6 1155.6 L1543.6 1155.9 L1546.6 1156.2 L1549.6 1156.4 L1552.5 1156.7 L1555.5 1157.0 L1558.5 1157.2 L1561.5 1157.5 L1564.5 1157.7 L1567.5 1158.0 L1570.5 1158.2 L1573.5 1158.5 L1576.5 1158.7 L1579.4 1158.9 L1582.4 1159.2 L1585.4 1159.4 L1588.4 1159.6 L1591.4 1159.9 L1594.4 1160.1 L1597.4 1160.3 L1600.4 1160.5 L1603.4 1160.8 L1606.4 1161.0 L1609.4 1161.2 L1612.4 1161.4 L1615.4 1161.6 L1618.4 1161.8 L1621.4 1162.0 L1624.4 1162.2 L1627.3 1162.4 L1630.3 1162.6 L1633.3 1162.8 L1636.3 1163.0 L1639.3 1163.2 L1642.3 1163.4 L1645.3 1163.6 L1648.3 1163.8 L1651.3 1163.9 L1654.3 1164.1 L1657.3 1164.3 L1660.3 1164.5 L1663.3 1164.7 L1666.3 1164.8 L1669.4 1165.0 L1672.4 1165.2 L1675.4 1165.4 L1678.4 1165.5 L1681.4 1165.7 L1684.4 1165.9 L1687.4 1166.0 L1690.4 1166.2 L1693.4 1166.3 L1696.4 1166.5 L1699.4 1166.7 L1702.4 1166.8 L1705.4 1167.0 L1708.4 1167.1 L1711.4 1167.3 L1714.4 1167.4 L1717.4 1167.6 L1720.5 1167.8 L1723.5 1167.9 L1726.5 1168.1 L1729.5 1168.2 L1732.5 1168.3 L1735.5 1168.5 L1738.5 1168.6 L1741.5 1168.8 L1744.5 1168.9 L1747.6 1169.1 L1750.6 1169.2 L1753.6 1169.4 L1756.6 1169.5 L1759.6 1169.7 L1762.6 1169.8 L1765.6 1169.9 L1768.6 1170.1 L1771.7 1170.2 L1774.7 1170.4 L1777.7 1170.5 L1780.7 1170.6 L1783.7 1170.8 L1786.7 1170.9 L1789.8 1171.0 L1792.8 1171.2 L1795.8 1171.3 L1798.8 1171.5 L1801.8 1171.6 L1804.8 1171.7 L1807.9 1171.9 L1810.9 1172.0 L1813.9 1172.2 L1816.9 1172.3 L1819.9 1172.4 L1823.0 1172.6 L1826.0 1172.7 L1829.0 1172.9 L1832.0 1173.0 L1835.0 1173.1 L1838.1 1173.3 L1841.1 1173.4 L1844.1 1173.6 L1847.1 1173.7 L1850.1 1173.8 L1853.2 1174.0 L1856.2 1174.1 L1859.2 1174.3 L1862.2 1174.4 L1865.3 1174.6 L1868.3 1174.7 L1871.0 1174.9"/>
<path d="M265.1 1188.1 L268.0 1188.0 L271.0 1188.0 L273.9 1188.0 L276.9 1187.9 L279.9 1187.9 L282.8 1187.9 L285.8 1187.9 L288.8 1187.8 L291.8 1187.8 L294.8 1187.8 L297.8 1187.8 L300.7 1187.8 L303.7 1187.8 L306.7 1187.8 L309.7 1187.7 L312.8 1187.7 L315.8 1187.7 L318.8 1187.7 L321.8 1187.7 L324.8 1187.7 L327.8 1187.6 L330.8 1187.6 L333.9 1187.6 L336.9 1187.5 L339.9 1187.5 L342.9 1187.5 L345.9 1187.4 L349.0 1187.3 L352.0 1187.3 L355.0 1187.2 L358.1 1187.1 L361.1 1187.1 L364.1 1187.0 L367.1 1186.9 L370.2 1186.8 L373.2 1186.6 L376.2 1186.5 L379.2 1186.4 L382.3 1186.2 L385.3 1186.1 L388.3 1185.9 L391.3 1185.7 L394.4 1185.5 L397.4 1185.3 L400.4 1185.1 L403.4 1184.9 L406.4 1184.6 L409.4 1184.4 L412.4 1184.1 L415.4 1183.8 L418.5 1183.5 L421.5 1183.2 L424.5 1182.9 L427.5 1182.5 L430.4 1182.2 L433.4 1181.8 L436.4 1181.4 L439.4 1181.0 L442.4 1180.5 L445.4 1180.1 L448.3 1179.6 L451.3 1179.1 L454.3 1178.6 L457.2 1178.0 L460.2 1177.5 L463.1 1176.9 L466.1 1176.3 L469.0 1175.7 L471.9 1175.1 L474.9 1174.4 L477.8 1173.8 L480.7 1173.1 L483.6 1172.4 L486.5 1171.6 L489.4 1170.9 L492.3 1170.1 L495.2 1169.3 L498.1 1168.5 L501.0 1167.6 L503.8 1166.8 L506.7 1165.9 L509.5 1165.0 L512.4 1164.0 L515.2 1163.1 L518.1 1162.1 L520.9 1161.1 L523.7 1160.1 L526.5 1159.0 L529.3 1158.0 L532.1 1156.9 L534.9 1155.8 L537.7 1154.6 L540.4 1153.4 L543.2 1152.3 L545.9 1151.0 L548.7 1149.8 L551.4 1148.6 L554.1 1147.3 L556.8 1146.0 L559.5 1144.7 L562.2 1143.4 L564.9 1142.1 L567.6 1140.7 L570.2 1139.4 L572.9 1138.0 L575.5 1136.7 L578.2 1135.3 L580.8 1133.9 L583.4 1132.5 L586.0 1131.0 L588.6 1129.6 L591.2 1128.1 L593.8 1126.7 L596.3 1125.2 L598.9 1123.7 L601.4 1122.1 L604.0 1120.6 L606.5 1119.0 L609.0 1117.4 L611.5 1115.9 L614.1 1114.2 L616.5 1112.6 L619.0 1111.0 L621.5 1109.3 L624.0 1107.6 L626.4 1105.9 L628.9 1104.2 L631.3 1102.4 L633.8 1100.7 L636.2 1098.9 L638.6 1097.1 L641.0 1095.3 L643.4 1093.5 L645.8 1091.6 L648.2 1089.8 L650.6 1087.9 L653.0 1086.0 L655.3 1084.1 L657.7 1082.2 L660.0 1080.3 L662.4 1078.4 L664.7 1076.4 L667.0 1074.5 L669.3 1072.5 L671.6 1070.5 L673.9 1068.5 L676.2 1066.5 L678.5 1064.5 L680.8 1062.4 L683.1 1060.4 L685.3 1058.4 L687.6 1056.3 L689.8 1054.3 L692.1 1052.2 L694.3 1050.2 L696.6 1048.1 L698.8 1046.1 L701.0 1044.0 L703.2 1042.0 L705.5 1039.9 L707.7 1037.9 L709.9 1035.9 L712.1 1033.9 L714.3 1031.9 L716.5 1029.9 L718.7 1027.9 L720.9 1025.9 L723.1 1024.0 L725.3 1022.0 L727.5 1020.1 L729.7 1018.2 L731.9 1016.2 L734.1 1014.3 L736.3 1012.4 L738.5 1010.5 L740.7 1008.6 L742.9 1006.6 L745.1 1004.7 L747.3 1002.8 L749.5 1000.9 L751.7 998.9 L754.0 997.0 L756.2 995.0 L758.4 993.1 L760.6 991.1 L762.8 989.1 L765.1 987.1 L767.3 985.1 L769.5 983.1 L771.8 981.1 L774.0 979.0 L776.3 977.0 L778.5 975.0 L780.8 972.9 L783.1 970.9 L785.4 968.9 L787.6 966.8 L789.9 964.8 L792.2 962.8 L794.5 960.7 L796.8 958.7 L799.2 956.7 L801.5 954.7 L803.8 952.7 L806.2 950.7 L808.6 948.7 L810.9 946.7 L813.3 944.8 L815.7 942.8 L818.1 940.9 L820.5 939.0 L822.9 937.1 L825.4 935.2 L827.8 933.3 L830.3 931.5 L832.7 929.6 L835.2 927.8 L837.7 926.1 L840.2 924.3 L842.7 922.6 L845.3 920.9 L847.8 919.2 L850.4 917.5 L853.0 915.9 L855.5 914.3 L858.2 912.8 L860.8 911.2 L863.4 909.7 L866.1 908.3 L868.7 906.8 L871.4 905.5 L874.1 904.1 L876.8 902.8 L879.6 901.5 L882.3 900.3 L885.0 899.1 L887.8 897.9 L890.6 896.8 L893.4 895.7 L896.1 894.7 L898.9 893.7 L901.8 892.8 L904.6 891.9 L907.4 891.1 L910.2 890.3 L913.1 889.5 L915.9 888.9 L918.8 888.2 L921.7 887.6 L924.5 887.1 L927.4 886.6 L930.3 886.2 L933.2 885.8 L936.1 885.5 L938.9 885.3 L941.8 885.1 L944.7 885.0 L947.6 884.9 L950.5 884.9 L953.4 885.0 L956.3 885.1 L959.2 885.3 L962.1 885.5 L965.1 885.8 L968.0 886.2 L970.9 886.6 L973.8 887.1 L976.6 887.6 L979.5 888.2 L982.4 888.8 L985.3 889.5 L988.2 890.2 L991.1 891.0 L993.9 891.8 L996.8 892.6 L999.7 893.5 L1002.5 894.5 L1005.4 895.5 L1008.2 896.5 L1011.0 897.6 L1013.9 898.7 L1016.7 899.8 L1019.5 900.9 L1022.3 902.1 L1025.1 903.4 L1027.9 904.6 L1030.6 905.9 L1033.4 907.2 L1036.2 908.5 L1038.9 909.9 L1041.7 911.2 L1044.4 912.6 L1047.1 914.0 L1049.9 915.5 L1052.6 916.9 L1055.3 918.4 L1058.0 919.8 L1060.7 921.3 L1063.4 922.8 L1066.1 924.3 L1068.8 925.8 L1071.5 927.3 L1074.2 928.9 L1076.8 930.4 L1079.5 931.9 L1082.2 933.4 L1084.8 935.0 L1087.5 936.5 L1090.1 938.0 L1092.8 939.5 L1095.4 941.0 L1098.0 942.5 L1100.7 944.0 L1103.3 945.5 L1105.9 947.0 L1108.5 948.4 L1111.2 949.9 L1113.8 951.3 L1116.4 952.7 L1119.0 954.1 L1121.6 955.5 L1124.2 956.9 L1126.8 958.2 L1129.4 959.6 L1132.0 960.9 L1134.6 962.2 L1137.2 963.5 L1139.8 964.9 L1142.4 966.2 L1145.0 967.5 L1147.6 968.8 L1150.2 970.2 L1152.8 971.5 L1155.4 972.8 L1158.0 974.2 L1160.5 975.6 L1163.1 976.9 L1165.7 978.3 L1168.3 979.7 L1170.9 981.2 L1173.5 982.6 L1176.1 984.1 L1178.7 985.6 L1181.3 987.1 L1183.9 988.6 L1186.5 990.2 L1189.1 991.8 L1191.6 993.4 L1194.2 995.1 L1196.8 996.7 L1199.4 998.4 L1202.1 1000.1 L1204.7 1001.8 L1207.3 1003.5 L1209.9 1005.2 L1212.5 1006.9 L1215.1 1008.6 L1217.7 1010.3 L1220.4 1011.9 L1223.0 1013.6 L1225.6 1015.2 L1228.2 1016.8 L1230.9 1018.3 L1233.5 1019.8 L1236.2 1021.3 L1238.8 1022.8 L1241.5 1024.2 L1244.1 1025.6 L1246.8 1027.0 L1249.4 1028.4 L1252.1 1029.7 L1254.8 1031.1 L1257.5 1032.4 L1260.1 1033.7 L1262.8 1034.9 L1265.5 1036.2 L1268.2 1037.4 L1270.9 1038.6 L1273.6 1039.8 L1276.3 1041.0 L1279.0 1042.2 L1281.7 1043.4 L1284.4 1044.6 L1287.1 1045.8 L1289.8 1046.9 L1292.5 1048.1 L1295.3 1049.2 L1298.0 1050.4 L1300.7 1051.5 L1303.5 1052.7 L1306.2 1053.8 L1308.9 1055.0 L1311.7 1056.1 L1314.4 1057.3 L1317.2 1058.5 L1319.9 1059.7 L1322.7 1060.8 L1325.5 1062.0 L1328.2 1063.2 L1331.0 1064.4 L1333.8 1065.6 L1336.6 1066.8 L1339.3 1068.0 L1342.1 1069.2 L1344.9 1070.4 L1347.7 1071.6 L1350.5 1072.8 L1353.3 1073.9 L1356.1 1075.1 L1358.9 1076.2 L1361.7 1077.4 L1364.5 1078.5 L1367.4 1079.6 L1370.2 1080.7 L1373.0 1081.8 L1375.8 1082.8 L1378.7 1083.9 L1381.5 1084.9 L1384.4 1085.9 L1387.2 1086.9 L1390.0 1087.8 L1392.9 1088.8 L1395.7 1089.7 L1398.6 1090.6 L1401.5 1091.4 L1404.3 1092.3 L1407.2 1093.1 L1410.1 1093.9 L1412.9 1094.7 L1415.8 1095.5 L1418.7 1096.3 L1421.6 1097.0 L1424.5 1097.8 L1427.4 1098.5 L1430.2 1099.2 L1433.1 1099.9 L1436.0 1100.5 L1438.9 1101.2 L1441.8 1101.8 L1444.8 1102.5 L1447.7 1103.1 L1450.6 1103.7 L1453.5 1104.3 L1456.4 1104.8 L1459.3 1105.4 L1462.3 1106.0 L1465.2 1106.5 L1468.1 1107.1 L1471.0 1107.6 L1474.0 1108.1 L1476.9 1108.6 L1479.8 1109.1 L1482.8 1109.6 L1485.7 1110.1 L1488.7 1110.5 L1491.6 1111.0 L1494.6 1111.5 L1497.5 1111.9 L1500.5 1112.4 L1503.4 1112.8 L1506.4 1113.2 L1509.3 1113.7 L1512.3 1114.1 L1515.3 1114.5 L1518.2 1114.9 L1521.2 1115.3 L1524.2 1115.7 L1527.1 1116.1 L1530.1 1116.5 L1533.1 1116.9 L1536.0 1117.2 L1539.0 1117.6 L1542.0 1118.0 L1545.0 1118.4 L1548.0 1118.7 L1550.9 1119.1 L1553.9 1119.4 L1556.9 1119.8 L1559.9 1120.2 L1562.9 1120.5 L1565.9 1120.9 L1568.9 1121.2 L1571.8 1121.5 L1574.8 1121.9 L1577.8 1122.2 L1580.8 1122.6 L1583.8 1122.9 L1586.8 1123.3 L1589.8 1123.6 L1592.8 1123.9 L1595.8 1124.3 L1598.8 1124.6 L1601.8 1125.0 L1604.8 1125.3 L1607.8 1125.7 L1610.8 1126.0 L1613.8 1126.3 L1616.8 1126.7 L1619.8 1127.0 L1622.8 1127.4 L1625.8 1127.8 L1628.8 1128.1 L1631.8 1128.5 L1634.9 1128.8 L1637.9 1129.2 L1640.9 1129.6 L1643.9 1129.9 L1646.9 1130.3 L1649.9 1130.7 L1652.9 1131.1 L1655.9 1131.4 L1658.9 1131.8 L1661.9 1132.2 L1664.9 1132.6 L1667.9 1133.0 L1670.9 1133.4 L1674.0 1133.7 L1677.0 1134.1 L1680.0 1134.5 L1683.0 1134.9 L1686.0 1135.3 L1689.0 1135.7 L1692.0 1136.1 L1695.0 1136.5 L1698.0 1136.9 L1701.0 1137.3 L1704.0 1137.6 L1707.0 1138.0 L1710.0 1138.4 L1713.0 1138.8 L1716.0 1139.2 L1719.0 1139.6 L1722.0 1140.0 L1725.0 1140.4 L1728.0 1140.7 L1731.0 1141.1 L1734.0 1141.5 L1737.0 1141.9 L1740.0 1142.3 L1743.0 1142.6 L1746.0 1143.0 L1749.0 1143.4 L1752.0 1143.7 L1755.0 1144.1 L1758.0 1144.5 L1761.0 1144.8 L1763.9 1145.2 L1766.9 1145.5 L1769.9 1145.9 L1772.9 1146.2 L1775.9 1146.6 L1778.9 1146.9 L1781.8 1147.2 L1784.8 1147.6 L1787.8 1147.9 L1790.8 1148.2 L1793.7 1148.5 L1796.7 1148.8 L1799.7 1149.1 L1802.6 1149.4 L1805.6 1149.7 L1808.6 1150.0 L1811.5 1150.3 L1814.5 1150.6 L1817.4 1150.9 L1820.4 1151.2 L1823.4 1151.4 L1826.3 1151.7 L1829.3 1151.9 L1832.2 1152.2 L1835.1 1152.4 L1838.1 1152.7 L1841.0 1152.9 L1844.0 1153.1 L1846.9 1153.3 L1849.8 1153.5 L1852.8 1153.7 L1855.7 1153.9 L1858.6 1154.1 L1861.5 1154.3 L1864.5 1154.5 L1867.4 1154.6 L1870.3 1154.8"/>
<path d="M265.3 1183.5 L268.3 1183.6 L271.2 1183.8 L274.2 1183.9 L277.1 1184.0 L280.1 1184.1 L283.0 1184.2 L286.0 1184.3 L289.0 1184.3 L291.9 1184.3 L294.9 1184.4 L297.9 1184.3 L300.9 1184.3 L303.8 1184.3 L306.8 1184.2 L309.8 1184.2 L312.8 1184.1 L315.8 1184.0 L318.8 1183.8 L321.8 1183.7 L324.8 1183.5 L327.8 1183.4 L330.8 1183.2 L333.8 1182.9 L336.8 1182.7 L339.7 1182.5 L342.7 1182.2 L345.7 1181.9 L348.7 1181.6 L351.7 1181.3 L354.7 1181.0 L357.7 1180.6 L360.7 1180.3 L363.7 1179.9 L366.7 1179.5 L369.7 1179.1 L372.7 1178.7 L375.7 1178.2 L378.7 1177.7 L381.6 1177.2 L384.6 1176.7 L387.6 1176.2 L390.6 1175.7 L393.6 1175.1 L396.5 1174.6 L399.5 1174.0 L402.5 1173.4 L405.4 1172.8 L408.4 1172.1 L411.3 1171.5 L414.3 1170.8 L417.2 1170.1 L420.2 1169.4 L423.1 1168.7 L426.1 1167.9 L429.0 1167.1 L431.9 1166.4 L434.8 1165.6 L437.8 1164.8 L440.7 1163.9 L443.6 1163.1 L446.5 1162.2 L449.4 1161.3 L452.3 1160.4 L455.2 1159.5 L458.0 1158.6 L460.9 1157.6 L463.8 1156.7 L466.6 1155.7 L469.5 1154.7 L472.3 1153.7 L475.2 1152.6 L478.0 1151.6 L480.8 1150.5 L483.6 1149.4 L486.4 1148.3 L489.2 1147.2 L492.0 1146.0 L494.8 1144.9 L497.6 1143.7 L500.3 1142.5 L503.1 1141.3 L505.8 1140.0 L508.6 1138.8 L511.3 1137.5 L514.0 1136.2 L516.8 1134.9 L519.5 1133.6 L522.1 1132.3 L524.8 1130.9 L527.5 1129.6 L530.2 1128.2 L532.8 1126.8 L535.4 1125.4 L538.1 1123.9 L540.7 1122.5 L543.3 1121.0 L545.9 1119.5 L548.5 1118.0 L551.1 1116.4 L553.6 1114.9 L556.2 1113.3 L558.7 1111.8 L561.2 1110.2 L563.7 1108.5 L566.2 1106.9 L568.7 1105.3 L571.2 1103.6 L573.7 1101.9 L576.1 1100.2 L578.5 1098.5 L581.0 1096.7 L583.4 1095.0 L585.8 1093.2 L588.1 1091.4 L590.5 1089.6 L592.9 1087.8 L595.2 1085.9 L597.5 1084.1 L599.8 1082.2 L602.1 1080.3 L604.4 1078.4 L606.7 1076.4 L608.9 1074.5 L611.1 1072.5 L613.3 1070.5 L615.5 1068.5 L617.7 1066.5 L619.9 1064.4 L622.0 1062.4 L624.2 1060.3 L626.3 1058.2 L628.4 1056.1 L630.5 1054.0 L632.6 1051.9 L634.7 1049.7 L636.7 1047.6 L638.8 1045.4 L640.8 1043.2 L642.8 1041.0 L644.8 1038.8 L646.8 1036.5 L648.8 1034.3 L650.7 1032.0 L652.7 1029.7 L654.6 1027.5 L656.5 1025.2 L658.5 1022.8 L660.4 1020.5 L662.2 1018.2 L664.1 1015.8 L666.0 1013.5 L667.8 1011.1 L669.7 1008.7 L671.5 1006.3 L673.3 1003.9 L675.2 1001.5 L677.0 999.1 L678.8 996.7 L680.5 994.2 L682.3 991.8 L684.1 989.3 L685.8 986.9 L687.6 984.4 L689.3 981.9 L691.0 979.4 L692.7 976.9 L694.4 974.4 L696.1 971.9 L697.8 969.4 L699.5 966.9 L701.2 964.4 L702.9 961.8 L704.5 959.3 L706.2 956.7 L707.8 954.2 L709.4 951.6 L711.1 949.1 L712.7 946.5 L714.3 943.9 L715.9 941.3 L717.5 938.8 L719.1 936.2 L720.7 933.6 L722.3 931.0 L723.9 928.4 L725.4 925.8 L727.0 923.2 L728.6 920.6 L730.1 918.0 L731.7 915.4 L733.2 912.8 L734.8 910.2 L736.3 907.6 L737.8 905.0 L739.3 902.4 L740.9 899.8 L742.4 897.2 L743.9 894.6 L745.4 891.9 L746.9 889.3 L748.4 886.7 L749.9 884.1 L751.4 881.5 L752.9 878.9 L754.4 876.3 L755.9 873.7 L757.4 871.1 L758.9 868.5 L760.4 866.0 L761.9 863.4 L763.3 860.8 L764.8 858.2 L766.3 855.6 L767.8 853.1 L769.3 850.5 L770.7 847.9 L772.2 845.4 L773.7 842.8 L775.2 840.2 L776.7 837.7 L778.2 835.1 L779.6 832.6 L781.1 830.0 L782.6 827.5 L784.1 825.0 L785.6 822.4 L787.1 819.9 L788.7 817.4 L790.2 814.8 L791.7 812.3 L793.2 809.8 L794.8 807.2 L796.3 804.7 L797.9 802.2 L799.4 799.7 L801.0 797.2 L802.6 794.7 L804.1 792.2 L805.7 789.6 L807.3 787.1 L809.0 784.6 L810.6 782.1 L812.2 779.6 L813.9 777.1 L815.5 774.6 L817.2 772.1 L818.9 769.7 L820.5 767.2 L822.3 764.7 L824.0 762.2 L825.7 759.7 L827.4 757.2 L829.2 754.7 L831.0 752.3 L832.8 749.8 L834.6 747.3 L836.4 744.8 L838.2 742.3 L840.1 739.9 L842.0 737.4 L843.9 735.0 L845.8 732.5 L847.7 730.1 L849.6 727.7 L851.6 725.3 L853.6 722.9 L855.6 720.5 L857.6 718.2 L859.6 715.9 L861.7 713.6 L863.8 711.3 L865.9 709.1 L868.0 706.9 L870.2 704.7 L872.3 702.6 L874.5 700.5 L876.8 698.4 L879.0 696.4 L881.3 694.4 L883.6 692.5 L885.9 690.6 L888.2 688.7 L890.6 686.9 L893.0 685.2 L895.4 683.5 L897.9 681.8 L900.3 680.3 L902.9 678.7 L905.4 677.2 L907.9 675.8 L910.5 674.5 L913.2 673.2 L915.8 672.0 L918.5 670.8 L921.2 669.8 L923.9 668.8 L926.7 667.8 L929.5 667.0 L932.4 666.2 L935.2 665.5 L938.1 664.8 L941.0 664.3 L943.9 663.8 L946.9 663.4 L949.8 663.0 L952.8 662.8 L955.8 662.6 L958.8 662.4 L961.8 662.4 L964.8 662.4 L967.8 662.5 L970.8 662.7 L973.8 662.9 L976.8 663.2 L979.8 663.6 L982.7 664.0 L985.7 664.5 L988.7 665.1 L991.6 665.8 L994.6 666.5 L997.5 667.3 L1000.4 668.2 L1003.2 669.1 L1006.1 670.1 L1008.9 671.2 L1011.7 672.3 L1014.4 673.5 L1017.2 674.8 L1019.8 676.2 L1022.5 677.6 L1025.1 679.0 L1027.7 680.6 L1030.2 682.2 L1032.7 683.9 L1035.1 685.6 L1037.6 687.3 L1040.0 689.1 L1042.3 691.0 L1044.7 692.9 L1047.0 694.8 L1049.3 696.7 L1051.6 698.7 L1053.9 700.7 L1056.2 702.7 L1058.4 704.7 L1060.7 706.7 L1062.9 708.7 L1065.2 710.7 L1067.4 712.7 L1069.7 714.7 L1071.9 716.7 L1074.2 718.7 L1076.5 720.6 L1078.8 722.5 L1081.1 724.5 L1083.3 726.4 L1085.6 728.3 L1087.9 730.1 L1090.2 732.0 L1092.5 733.9 L1094.8 735.9 L1097.1 737.8 L1099.3 739.7 L1101.6 741.7 L1103.8 743.7 L1106.0 745.6 L1108.2 747.7 L1110.5 749.7 L1112.7 751.7 L1114.8 753.8 L1117.0 755.8 L1119.2 757.9 L1121.4 760.0 L1123.5 762.1 L1125.7 764.2 L1127.8 766.4 L1129.9 768.5 L1132.1 770.6 L1134.2 772.8 L1136.3 775.0 L1138.4 777.1 L1140.5 779.3 L1142.6 781.5 L1144.7 783.7 L1146.8 785.9 L1148.9 788.0 L1150.9 790.2 L1153.0 792.4 L1155.1 794.7 L1157.1 796.9 L1159.2 799.1 L1161.3 801.3 L1163.3 803.5 L1165.4 805.7 L1167.4 807.9 L1169.5 810.1 L1171.5 812.3 L1173.6 814.5 L1175.6 816.6 L1177.6 818.8 L1179.7 821.0 L1181.7 823.2 L1183.8 825.3 L1185.8 827.5 L1187.8 829.6 L1189.9 831.8 L1191.9 833.9 L1194.0 836.1 L1196.0 838.2 L1198.1 840.3 L1200.1 842.4 L1202.2 844.5 L1204.2 846.6 L1206.3 848.7 L1208.3 850.9 L1210.4 853.0 L1212.5 855.1 L1214.5 857.2 L1216.6 859.3 L1218.7 861.4 L1220.8 863.5 L1222.9 865.6 L1225.0 867.7 L1227.1 869.8 L1229.2 871.9 L1231.3 874.0 L1233.4 876.2 L1235.5 878.3 L1237.6 880.4 L1239.8 882.5 L1241.9 884.6 L1244.1 886.8 L1246.2 888.9 L1248.4 891.0 L1250.6 893.1 L1252.8 895.2 L1255.0 897.3 L1257.2 899.4 L1259.4 901.4 L1261.6 903.5 L1263.9 905.5 L1266.1 907.6 L1268.3 909.6 L1270.6 911.6 L1272.9 913.6 L1275.2 915.6 L1277.4 917.6 L1279.7 919.6 L1282.0 921.6 L1284.3 923.5 L1286.7 925.5 L1289.0 927.4 L1291.3 929.3 L1293.7 931.2 L1296.0 933.1 L1298.4 935.0 L1300.7 936.9 L1303.1 938.8 L1305.5 940.6 L1307.9 942.5 L1310.3 944.3 L1312.7 946.1 L1315.1 947.9 L1317.5 949.7 L1320.0 951.5 L1322.4 953.3 L1324.9 955.1 L1327.3 956.8 L1329.8 958.5 L1332.2 960.3 L1334.7 962.0 L1337.2 963.7 L1339.7 965.3 L1342.2 967.0 L1344.7 968.7 L1347.2 970.3 L1349.7 971.9 L1352.2 973.5 L1354.8 975.1 L1357.3 976.7 L1359.9 978.3 L1362.4 979.8 L1365.0 981.4 L1367.6 982.9 L1370.1 984.4 L1372.7 985.9 L1375.3 987.4 L1377.9 988.9 L1380.5 990.3 L1383.1 991.8 L1385.7 993.2 L1388.3 994.6 L1391.0 996.0 L1393.6 997.3 L1396.2 998.7 L1398.9 1000.0 L1401.5 1001.4 L1404.2 1002.7 L1406.9 1004.0 L1409.5 1005.2 L1412.2 1006.5 L1414.9 1007.8 L1417.6 1009.0 L1420.3 1010.3 L1423.0 1011.5 L1425.7 1012.7 L1428.4 1014.0 L1431.1 1015.2 L1433.8 1016.5 L1436.6 1017.7 L1439.3 1019.0 L1442.0 1020.2 L1444.8 1021.5 L1447.5 1022.7 L1450.3 1024.0 L1453.0 1025.2 L1455.8 1026.5 L1458.6 1027.7 L1461.3 1028.9 L1464.1 1030.1 L1466.9 1031.3 L1469.7 1032.5 L1472.5 1033.6 L1475.3 1034.8 L1478.1 1035.9 L1480.9 1037.1 L1483.7 1038.2 L1486.5 1039.3 L1489.3 1040.3 L1492.2 1041.4 L1495.0 1042.4 L1497.8 1043.4 L1500.7 1044.4 L1503.5 1045.4 L1506.3 1046.3 L1509.2 1047.2 L1512.0 1048.1 L1514.9 1049.0 L1517.8 1049.8 L1520.6 1050.6 L1523.5 1051.4 L1526.4 1052.1 L1529.2 1052.9 L1532.1 1053.6 L1535.0 1054.2 L1537.9 1054.9 L1540.8 1055.6 L1543.7 1056.2 L1546.5 1056.8 L1549.4 1057.4 L1552.3 1058.0 L1555.2 1058.6 L1558.2 1059.2 L1561.1 1059.7 L1564.0 1060.3 L1566.9 1060.9 L1569.8 1061.5 L1572.7 1062.0 L1575.6 1062.6 L1578.6 1063.2 L1581.5 1063.8 L1584.4 1064.4 L1587.4 1065.0 L1590.3 1065.7 L1593.2 1066.3 L1596.2 1067.0 L1599.1 1067.6 L1602.0 1068.3 L1605.0 1069.0 L1607.9 1069.7 L1610.9 1070.4 L1613.8 1071.2 L1616.8 1071.9 L1619.7 1072.6 L1622.7 1073.3 L1625.7 1074.0 L1628.6 1074.7 L1631.6 1075.4 L1634.5 1076.1 L1637.5 1076.7 L1640.5 1077.4 L1643.4 1078.1 L1646.4 1078.7 L1649.3 1079.4 L1652.3 1080.0 L1655.3 1080.6 L1658.3 1081.2 L1661.2 1081.8 L1664.2 1082.5 L1667.2 1083.1 L1670.1 1083.6 L1673.1 1084.2 L1676.1 1084.8 L1679.1 1085.4 L1682.0 1085.9 L1685.0 1086.5 L1688.0 1087.1 L1691.0 1087.6 L1693.9 1088.1 L1696.9 1088.7 L1699.9 1089.2 L1702.9 1089.8 L1705.8 1090.3 L1708.8 1090.8 L1711.8 1091.3 L1714.8 1091.8 L1717.7 1092.3 L1720.7 1092.8 L1723.7 1093.3 L1726.6 1093.8 L1729.6 1094.3 L1732.6 1094.8 L1735.6 1095.3 L1738.5 1095.8 L1741.5 1096.3 L1744.5 1096.8 L1747.4 1097.3 L1750.4 1097.8 L1753.4 1098.2 L1756.3 1098.7 L1759.3 1099.2 L1762.3 1099.7 L1765.2 1100.2 L1768.2 1100.6 L1771.1 1101.1 L1774.1 1101.6 L1777.1 1102.1 L1780.0 1102.6 L1783.0 1103.1 L1785.9 1103.5 L1788.9 1104.0 L1791.8 1104.5 L1794.8 1105.0 L1797.7 1105.5 L1800.6 1106.0 L1803.6 1106.5 L1806.5 1107.0 L1809.5 1107.5 L1812.4 1108.1 L1815.3 1108.6 L1818.3 1109.1 L1821.2 1109.6 L1824.1 1110.2 L1827.0 1110.7 L1829.9 1111.3 L1832.9 1111.9 L1835.8 1112.4 L1838.7 1113.0 L1841.6 1113.6 L1844.5 1114.2 L1847.4 1114.8 L1850.3 1115.4 L1853.2 1116.0 L1856.1 1116.7 L1859.0 1117.3 L1861.9 1118.0 L1864.8 1118.6 L1867.6 1119.3 L1870.5 1120.0"/>
<path d="M265.0 1179.1 L268.0 1179.0 L271.0 1179.0 L274.0 1178.9 L277.0 1178.8 L280.0 1178.7 L283.0 1178.6 L286.0 1178.5 L289.0 1178.3 L292.0 1178.2 L295.0 1178.0 L298.0 1177.8 L301.0 1177.6 L304.0 1177.4 L307.0 1177.2 L310.0 1177.0 L313.0 1176.7 L316.0 1176.5 L319.0 1176.2 L322.0 1175.9 L325.0 1175.6 L328.0 1175.3 L330.9 1174.9 L333.9 1174.6 L336.9 1174.2 L339.9 1173.9 L342.9 1173.5 L345.9 1173.1 L348.8 1172.7 L351.8 1172.3 L354.8 1171.8 L357.8 1171.4 L360.7 1170.9 L363.7 1170.4 L366.7 1169.9 L369.6 1169.4 L372.6 1168.8 L375.6 1168.3 L378.5 1167.7 L381.5 1167.2 L384.4 1166.6 L387.4 1166.0 L390.3 1165.3 L393.3 1164.7 L396.2 1164.0 L399.1 1163.4 L402.1 1162.7 L405.0 1162.0 L407.9 1161.3 L410.8 1160.5 L413.7 1159.8 L416.7 1159.0 L419.6 1158.2 L422.5 1157.4 L425.4 1156.6 L428.3 1155.8 L431.2 1154.9 L434.0 1154.1 L436.9 1153.2 L439.8 1152.3 L442.7 1151.4 L445.5 1150.4 L448.4 1149.5 L451.3 1148.5 L454.1 1147.5 L457.0 1146.5 L459.8 1145.5 L462.6 1144.5 L465.4 1143.4 L468.2 1142.3 L471.0 1141.2 L473.8 1140.1 L476.6 1138.9 L479.4 1137.7 L482.1 1136.6 L484.9 1135.3 L487.6 1134.1 L490.3 1132.8 L493.1 1131.5 L495.8 1130.2 L498.4 1128.9 L501.1 1127.5 L503.8 1126.1 L506.4 1124.7 L509.0 1123.3 L511.6 1121.8 L514.2 1120.3 L516.8 1118.8 L519.3 1117.2 L521.9 1115.7 L524.4 1114.1 L526.9 1112.4 L529.4 1110.7 L531.8 1109.0 L534.3 1107.3 L536.7 1105.6 L539.1 1103.8 L541.5 1102.0 L543.8 1100.1 L546.2 1098.2 L548.5 1096.3 L550.8 1094.3 L553.0 1092.4 L555.3 1090.3 L557.5 1088.3 L559.7 1086.2 L561.9 1084.1 L564.0 1081.9 L566.1 1079.8 L568.2 1077.6 L570.4 1075.4 L572.5 1073.2 L574.5 1071.0 L576.6 1068.8 L578.7 1066.6 L580.8 1064.4 L583.0 1062.2 L585.1 1060.1 L587.2 1057.9 L589.3 1055.8 L591.5 1053.7 L593.6 1051.5 L595.7 1049.4 L597.9 1047.3 L600.0 1045.2 L602.1 1043.1 L604.2 1040.9 L606.3 1038.8 L608.3 1036.6 L610.4 1034.5 L612.4 1032.3 L614.4 1030.1 L616.4 1027.9 L618.4 1025.6 L620.3 1023.4 L622.3 1021.1 L624.2 1018.8 L626.1 1016.5 L628.0 1014.2 L629.8 1011.9 L631.7 1009.6 L633.5 1007.2 L635.3 1004.8 L637.1 1002.5 L638.9 1000.1 L640.6 997.7 L642.4 995.2 L644.1 992.8 L645.9 990.4 L647.6 987.9 L649.2 985.5 L650.9 983.0 L652.6 980.5 L654.2 978.0 L655.9 975.5 L657.5 973.0 L659.1 970.5 L660.7 967.9 L662.3 965.4 L663.9 962.8 L665.4 960.3 L667.0 957.7 L668.5 955.1 L670.1 952.5 L671.6 949.9 L673.1 947.3 L674.6 944.7 L676.1 942.1 L677.6 939.5 L679.1 936.9 L680.5 934.2 L682.0 931.6 L683.4 928.9 L684.9 926.3 L686.3 923.6 L687.8 921.0 L689.2 918.3 L690.6 915.7 L692.0 913.0 L693.4 910.3 L694.8 907.6 L696.2 905.0 L697.6 902.3 L699.0 899.6 L700.3 896.9 L701.7 894.2 L703.1 891.5 L704.4 888.8 L705.8 886.1 L707.1 883.4 L708.5 880.7 L709.8 878.0 L711.2 875.3 L712.5 872.6 L713.8 869.8 L715.1 867.1 L716.4 864.4 L717.7 861.7 L719.0 859.0 L720.3 856.2 L721.6 853.5 L722.9 850.8 L724.2 848.0 L725.4 845.3 L726.7 842.6 L728.0 839.8 L729.2 837.1 L730.5 834.3 L731.7 831.6 L732.9 828.9 L734.2 826.1 L735.4 823.4 L736.6 820.6 L737.8 817.9 L739.0 815.1 L740.2 812.3 L741.4 809.6 L742.6 806.8 L743.8 804.1 L745.0 801.3 L746.1 798.5 L747.3 795.8 L748.4 793.0 L749.6 790.3 L750.7 787.5 L751.9 784.7 L753.0 782.0 L754.2 779.2 L755.3 776.4 L756.4 773.7 L757.6 770.9 L758.7 768.1 L759.8 765.4 L760.9 762.6 L762.0 759.8 L763.2 757.0 L764.3 754.3 L765.4 751.5 L766.5 748.7 L767.6 746.0 L768.7 743.2 L769.8 740.4 L770.9 737.6 L772.0 734.9 L773.2 732.1 L774.3 729.3 L775.4 726.6 L776.5 723.8 L777.6 721.0 L778.7 718.2 L779.9 715.5 L781.0 712.7 L782.1 709.9 L783.2 707.2 L784.4 704.4 L785.5 701.6 L786.6 698.9 L787.8 696.1 L788.9 693.3 L790.1 690.6 L791.2 687.8 L792.4 685.1 L793.6 682.3 L794.7 679.5 L795.9 676.8 L797.1 674.0 L798.3 671.3 L799.5 668.5 L800.7 665.8 L801.9 663.0 L803.1 660.3 L804.4 657.5 L805.6 654.8 L806.8 652.0 L808.1 649.3 L809.4 646.6 L810.6 643.8 L811.9 641.1 L813.2 638.4 L814.5 635.6 L815.8 632.9 L817.1 630.2 L818.4 627.4 L819.7 624.7 L821.1 622.0 L822.4 619.3 L823.7 616.6 L825.1 613.9 L826.4 611.1 L827.8 608.4 L829.1 605.7 L830.5 603.0 L831.9 600.3 L833.3 597.6 L834.7 594.9 L836.0 592.2 L837.4 589.5 L838.8 586.9 L840.2 584.2 L841.7 581.5 L843.1 578.8 L844.5 576.1 L845.9 573.5 L847.3 570.8 L848.8 568.1 L850.2 565.5 L851.6 562.8 L853.1 560.2 L854.5 557.5 L856.0 554.9 L857.4 552.2 L858.9 549.6 L860.3 547.0 L861.8 544.3 L863.2 541.7 L864.7 539.1 L866.2 536.5 L867.6 533.8 L869.1 531.2 L870.6 528.6 L872.0 526.0 L873.5 523.4 L875.0 520.8 L876.4 518.2 L877.9 515.7 L879.4 513.1 L880.8 510.5 L882.3 507.9 L883.8 505.4 L885.3 502.8 L886.7 500.2 L888.2 497.7 L889.7 495.1 L891.2 492.6 L892.6 490.1 L894.1 487.5 L895.6 485.0 L897.1 482.5 L898.6 479.9 L900.2 477.4 L901.7 474.9 L903.3 472.3 L904.9 469.8 L906.6 467.3 L908.3 464.7 L910.0 462.2 L911.7 459.7 L913.6 457.1 L915.4 454.6 L917.4 452.2 L919.3 449.8 L921.4 447.4 L923.5 445.2 L925.6 443.0 L927.9 440.9 L930.2 438.8 L932.6 436.9 L935.0 435.2 L937.6 433.5 L940.2 432.0 L942.9 430.6 L945.6 429.3 L948.4 428.2 L951.3 427.2 L954.2 426.3 L957.1 425.5 L960.0 424.8 L963.0 424.3 L965.9 423.9 L968.9 423.7 L971.9 423.5 L974.8 423.5 L977.8 423.6 L980.7 423.9 L983.6 424.2 L986.4 424.7 L989.3 425.3 L992.1 426.0 L994.9 426.8 L997.6 427.7 L1000.3 428.7 L1003.0 429.8 L1005.7 431.0 L1008.3 432.3 L1010.9 433.7 L1013.5 435.1 L1016.1 436.6 L1018.6 438.2 L1021.1 439.9 L1023.6 441.6 L1026.1 443.3 L1028.5 445.1 L1030.9 447.0 L1033.3 448.9 L1035.7 450.8 L1038.0 452.7 L1040.4 454.7 L1042.7 456.7 L1045.0 458.7 L1047.2 460.7 L1049.5 462.7 L1051.7 464.8 L1053.9 466.9 L1056.0 468.9 L1058.2 471.0 L1060.3 473.2 L1062.5 475.3 L1064.6 477.4 L1066.6 479.6 L1068.7 481.8 L1070.8 484.0 L1072.8 486.2 L1074.8 488.4 L1076.8 490.6 L1078.8 492.9 L1080.7 495.1 L1082.7 497.4 L1084.6 499.7 L1086.5 502.0 L1088.4 504.3 L1090.3 506.6 L1092.2 509.0 L1094.1 511.3 L1095.9 513.7 L1097.7 516.0 L1099.6 518.4 L1101.4 520.8 L1103.2 523.2 L1104.9 525.6 L1106.7 528.0 L1108.5 530.4 L1110.2 532.9 L1112.0 535.3 L1113.7 537.8 L1115.4 540.2 L1117.1 542.7 L1118.8 545.2 L1120.5 547.7 L1122.2 550.1 L1123.9 552.6 L1125.5 555.1 L1127.2 557.6 L1128.8 560.2 L1130.5 562.7 L1132.1 565.2 L1133.7 567.7 L1135.4 570.3 L1137.0 572.8 L1138.6 575.4 L1140.2 577.9 L1141.8 580.5 L1143.4 583.0 L1145.0 585.6 L1146.6 588.1 L1148.1 590.7 L1149.7 593.3 L1151.3 595.9 L1152.9 598.4 L1154.5 601.0 L1156.0 603.6 L1157.6 606.2 L1159.2 608.7 L1160.7 611.3 L1162.3 613.9 L1163.9 616.5 L1165.4 619.0 L1167.0 621.6 L1168.5 624.2 L1170.1 626.8 L1171.7 629.3 L1173.2 631.9 L1174.8 634.5 L1176.4 637.1 L1178.0 639.6 L1179.5 642.2 L1181.1 644.7 L1182.7 647.3 L1184.3 649.9 L1185.9 652.4 L1187.5 654.9 L1189.1 657.5 L1190.7 660.0 L1192.3 662.6 L1193.9 665.1 L1195.5 667.6 L1197.2 670.1 L1198.8 672.6 L1200.4 675.1 L1202.1 677.6 L1203.7 680.1 L1205.4 682.6 L1207.1 685.1 L1208.8 687.6 L1210.4 690.0 L1212.1 692.5 L1213.9 694.9 L1215.6 697.4 L1217.3 699.8 L1219.0 702.2 L1220.8 704.6 L1222.5 707.1 L1224.3 709.5 L1226.0 711.9 L1227.8 714.3 L1229.6 716.7 L1231.4 719.1 L1233.2 721.4 L1235.0 723.8 L1236.9 726.2 L1238.7 728.6 L1240.5 730.9 L1242.4 733.3 L1244.3 735.7 L1246.1 738.0 L1248.0 740.4 L1249.9 742.7 L1251.8 745.1 L1253.7 747.5 L1255.7 749.8 L1257.6 752.1 L1259.6 754.5 L1261.5 756.8 L1263.4 759.2 L1265.4 761.5 L1267.3 763.9 L1269.3 766.2 L1271.2 768.5 L1273.1 770.8 L1275.0 773.2 L1276.9 775.5 L1278.8 777.8 L1280.7 780.1 L1282.6 782.4 L1284.4 784.7 L1286.3 787.0 L1288.2 789.3 L1290.0 791.6 L1291.9 793.9 L1293.8 796.2 L1295.7 798.5 L1297.6 800.7 L1299.5 803.0 L1301.4 805.3 L1303.3 807.5 L1305.3 809.8 L1307.2 812.0 L1309.2 814.3 L1311.1 816.5 L1313.1 818.7 L1315.1 820.9 L1317.1 823.1 L1319.1 825.4 L1321.1 827.6 L1323.1 829.7 L1325.2 831.9 L1327.2 834.1 L1329.3 836.3 L1331.3 838.5 L1333.4 840.6 L1335.5 842.8 L1337.6 844.9 L1339.7 847.1 L1341.8 849.2 L1343.9 851.3 L1346.0 853.4 L1348.2 855.5 L1350.3 857.6 L1352.5 859.7 L1354.7 861.8 L1356.8 863.9 L1359.0 866.0 L1361.2 868.0 L1363.5 870.1 L1365.7 872.1 L1367.9 874.2 L1370.2 876.2 L1372.4 878.2 L1374.7 880.2 L1377.0 882.2 L1379.3 884.2 L1381.6 886.2 L1383.9 888.2 L1386.2 890.1 L1388.5 892.1 L1390.9 894.0 L1393.2 895.9 L1395.6 897.9 L1398.0 899.7 L1400.4 901.6 L1402.7 903.5 L1405.2 905.3 L1407.6 907.2 L1410.0 909.0 L1412.4 910.8 L1414.9 912.6 L1417.3 914.3 L1419.8 916.0 L1422.2 917.8 L1424.7 919.4 L1427.2 921.1 L1429.7 922.8 L1432.2 924.4 L1434.7 926.0 L1437.3 927.5 L1439.8 929.1 L1442.3 930.6 L1444.9 932.0 L1447.4 933.5 L1450.0 934.9 L1452.6 936.3 L1455.1 937.7 L1457.7 939.1 L1460.3 940.5 L1462.9 941.9 L1465.5 943.2 L1468.1 944.6 L1470.8 946.0 L1473.4 947.4 L1476.0 948.8 L1478.7 950.2 L1481.3 951.7 L1484.0 953.1 L1486.7 954.6 L1489.3 956.0 L1492.0 957.5 L1494.7 958.9 L1497.4 960.3 L1500.1 961.8 L1502.8 963.2 L1505.5 964.6 L1508.2 965.9 L1510.9 967.3 L1513.7 968.6 L1516.4 969.9 L1519.1 971.2 L1521.9 972.5 L1524.6 973.7 L1527.4 974.9 L1530.1 976.1 L1532.9 977.3 L1535.7 978.5 L1538.4 979.7 L1541.2 980.8 L1544.0 982.0 L1546.8 983.1 L1549.6 984.2 L1552.4 985.3 L1555.2 986.3 L1558.0 987.4 L1560.8 988.4 L1563.6 989.5 L1566.4 990.5 L1569.2 991.5 L1572.0 992.5 L1574.8 993.5 L1577.7 994.5 L1580.5 995.4 L1583.3 996.4 L1586.2 997.3 L1589.0 998.3 L1591.9 999.2 L1594.7 1000.1 L1597.6 1001.0 L1600.4 1001.9 L1603.3 1002.8 L1606.1 1003.7 L1609.0 1004.6 L1611.8 1005.5 L1614.7 1006.3 L1617.6 1007.2 L1620.4 1008.1 L1623.3 1008.9 L1626.2 1009.8 L1629.0 1010.6 L1631.9 1011.5 L1634.8 1012.3 L1637.7 1013.1 L1640.5 1014.0 L1643.4 1014.8 L1646.3 1015.6 L1649.2 1016.5 L1652.0 1017.3 L1654.9 1018.1 L1657.8 1018.9 L1660.7 1019.8 L1663.6 1020.6 L1666.5 1021.4 L1669.4 1022.2 L1672.3 1023.0 L1675.1 1023.8 L1678.0 1024.6 L1680.9 1025.4 L1683.8 1026.2 L1686.7 1027.0 L1689.6 1027.8 L1692.5 1028.7 L1695.4 1029.5 L1698.3 1030.3 L1701.2 1031.1 L1704.1 1031.9 L1707.0 1032.7 L1709.9 1033.5 L1712.8 1034.3 L1715.7 1035.1 L1718.6 1035.9 L1721.5 1036.7 L1724.3 1037.6 L1727.2 1038.4 L1730.1 1039.2 L1733.0 1040.0 L1735.9 1040.9 L1738.8 1041.7 L1741.7 1042.5 L1744.6 1043.3 L1747.5 1044.2 L1750.4 1045.0 L1753.3 1045.9 L1756.2 1046.7 L1759.1 1047.6 L1762.0 1048.4 L1764.9 1049.3 L1767.8 1050.2 L1770.6 1051.0 L1773.5 1051.9 L1776.4 1052.8 L1779.3 1053.6 L1782.2 1054.5 L1785.1 1055.4 L1788.0 1056.3 L1790.8 1057.2 L1793.7 1058.1 L1796.6 1059.0 L1799.5 1059.9 L1802.4 1060.7 L1805.2 1061.6 L1808.1 1062.5 L1811.0 1063.4 L1813.9 1064.3 L1816.7 1065.2 L1819.6 1066.1 L1822.5 1067.0 L1825.3 1067.9 L1828.2 1068.8 L1831.0 1069.7 L1833.9 1070.6 L1836.8 1071.5 L1839.6 1072.4 L1842.5 1073.3 L1845.3 1074.2 L1848.2 1075.1 L1851.0 1076.0 L1853.9 1076.9 L1856.7 1077.7 L1859.5 1078.6 L1862.4 1079.5 L1865.2 1080.4 L1868.0 1081.3 L1870.9 1082.1"/>
<path d="M265.2 1175.7 L268.2 1175.6 L271.1 1175.6 L274.0 1175.5 L277.0 1175.3 L279.9 1175.1 L282.8 1174.9 L285.8 1174.6 L288.7 1174.3 L291.7 1174.0 L294.7 1173.7 L297.6 1173.3 L300.6 1172.9 L303.6 1172.4 L306.6 1172.0 L309.5 1171.5 L312.5 1171.0 L315.5 1170.6 L318.5 1170.1 L321.5 1169.5 L324.5 1169.0 L327.5 1168.5 L330.5 1168.0 L333.4 1167.5 L336.4 1166.9 L339.4 1166.4 L342.4 1165.9 L345.4 1165.4 L348.4 1164.9 L351.4 1164.4 L354.4 1163.9 L357.4 1163.4 L360.4 1162.9 L363.4 1162.4 L366.4 1161.9 L369.3 1161.3 L372.3 1160.8 L375.3 1160.3 L378.3 1159.8 L381.3 1159.2 L384.2 1158.7 L387.2 1158.1 L390.2 1157.5 L393.1 1157.0 L396.1 1156.4 L399.0 1155.8 L402.0 1155.1 L404.9 1154.5 L407.8 1153.8 L410.8 1153.2 L413.7 1152.5 L416.6 1151.8 L419.5 1151.1 L422.4 1150.3 L425.3 1149.6 L428.2 1148.8 L431.1 1148.0 L434.0 1147.2 L436.8 1146.3 L439.7 1145.4 L442.6 1144.5 L445.4 1143.6 L448.2 1142.6 L451.1 1141.7 L453.9 1140.7 L456.7 1139.6 L459.5 1138.6 L462.3 1137.5 L465.1 1136.4 L467.8 1135.3 L470.6 1134.1 L473.3 1132.9 L476.1 1131.7 L478.8 1130.5 L481.5 1129.3 L484.2 1128.0 L487.0 1126.7 L489.6 1125.4 L492.3 1124.0 L495.0 1122.7 L497.7 1121.3 L500.3 1119.9 L502.9 1118.5 L505.6 1117.0 L508.2 1115.5 L510.8 1114.1 L513.4 1112.5 L516.0 1111.0 L518.5 1109.5 L521.1 1107.9 L523.6 1106.3 L526.2 1104.7 L528.7 1103.0 L531.2 1101.4 L533.7 1099.7 L536.2 1098.0 L538.6 1096.3 L541.1 1094.5 L543.5 1092.8 L546.0 1091.0 L548.4 1089.2 L550.8 1087.4 L553.2 1085.6 L555.6 1083.7 L557.9 1081.9 L560.3 1080.0 L562.6 1078.1 L564.9 1076.2 L567.3 1074.3 L569.5 1072.3 L571.8 1070.3 L574.1 1068.4 L576.3 1066.4 L578.6 1064.3 L580.8 1062.3 L583.0 1060.3 L585.2 1058.2 L587.4 1056.1 L589.5 1054.0 L591.7 1051.9 L593.8 1049.8 L595.9 1047.7 L598.0 1045.5 L600.1 1043.3 L602.2 1041.2 L604.2 1039.0 L606.2 1036.8 L608.3 1034.5 L610.3 1032.3 L612.2 1030.0 L614.2 1027.8 L616.2 1025.5 L618.1 1023.2 L620.0 1020.9 L621.9 1018.6 L623.8 1016.3 L625.7 1013.9 L627.5 1011.6 L629.4 1009.2 L631.2 1006.9 L633.0 1004.5 L634.8 1002.1 L636.6 999.7 L638.4 997.3 L640.1 994.9 L641.9 992.4 L643.6 990.0 L645.3 987.5 L647.0 985.1 L648.7 982.6 L650.4 980.1 L652.1 977.6 L653.7 975.1 L655.4 972.6 L657.0 970.1 L658.6 967.6 L660.2 965.0 L661.8 962.5 L663.4 959.9 L665.0 957.4 L666.5 954.8 L668.1 952.3 L669.6 949.7 L671.2 947.1 L672.7 944.5 L674.2 941.9 L675.7 939.3 L677.2 936.7 L678.7 934.1 L680.2 931.5 L681.7 928.9 L683.1 926.2 L684.6 923.6 L686.1 921.0 L687.5 918.3 L688.9 915.7 L690.4 913.0 L691.8 910.4 L693.2 907.7 L694.6 905.0 L696.0 902.4 L697.4 899.7 L698.8 897.0 L700.2 894.4 L701.5 891.7 L702.9 889.0 L704.3 886.3 L705.6 883.6 L707.0 880.9 L708.3 878.2 L709.7 875.6 L711.0 872.9 L712.3 870.2 L713.7 867.4 L715.0 864.7 L716.3 862.0 L717.6 859.3 L718.9 856.6 L720.2 853.9 L721.5 851.2 L722.8 848.4 L724.1 845.7 L725.3 843.0 L726.6 840.3 L727.9 837.5 L729.1 834.8 L730.4 832.0 L731.6 829.3 L732.9 826.6 L734.1 823.8 L735.3 821.1 L736.6 818.3 L737.8 815.6 L739.0 812.8 L740.2 810.1 L741.5 807.3 L742.7 804.6 L743.9 801.8 L745.1 799.0 L746.3 796.3 L747.4 793.5 L748.6 790.7 L749.8 788.0 L751.0 785.2 L752.2 782.4 L753.3 779.6 L754.5 776.9 L755.6 774.1 L756.8 771.3 L758.0 768.5 L759.1 765.7 L760.2 763.0 L761.4 760.2 L762.5 757.4 L763.7 754.6 L764.8 751.8 L765.9 749.0 L767.0 746.2 L768.2 743.4 L769.3 740.7 L770.4 737.9 L771.5 735.1 L772.6 732.3 L773.7 729.5 L774.8 726.7 L775.9 723.9 L777.0 721.1 L778.0 718.3 L779.1 715.5 L780.2 712.7 L781.3 709.9 L782.4 707.1 L783.4 704.3 L784.5 701.5 L785.5 698.7 L786.6 695.8 L787.7 693.0 L788.7 690.2 L789.8 687.4 L790.8 684.6 L791.8 681.8 L792.9 679.0 L793.9 676.2 L794.9 673.4 L796.0 670.6 L797.0 667.8 L798.0 665.0 L799.0 662.2 L800.0 659.3 L801.1 656.5 L802.1 653.7 L803.1 650.9 L804.1 648.1 L805.1 645.3 L806.1 642.5 L807.1 639.7 L808.0 636.9 L809.0 634.1 L810.0 631.3 L811.0 628.4 L812.0 625.6 L813.0 622.8 L813.9 620.0 L814.9 617.2 L815.9 614.4 L816.9 611.6 L817.8 608.8 L818.8 606.0 L819.8 603.2 L820.8 600.4 L821.8 597.6 L822.8 594.8 L823.8 592.0 L824.8 589.2 L825.9 586.4 L826.9 583.6 L827.9 580.8 L829.0 578.0 L830.0 575.2 L831.1 572.4 L832.2 569.6 L833.3 566.8 L834.4 564.0 L835.5 561.3 L836.7 558.5 L837.8 555.7 L839.0 552.9 L840.2 550.1 L841.4 547.3 L842.6 544.5 L843.8 541.8 L845.1 539.0 L846.3 536.2 L847.6 533.4 L848.9 530.7 L850.2 527.9 L851.5 525.1 L852.8 522.3 L854.1 519.6 L855.5 516.8 L856.8 514.0 L858.2 511.3 L859.5 508.5 L860.9 505.8 L862.2 503.0 L863.6 500.2 L864.9 497.5 L866.3 494.7 L867.6 492.0 L869.0 489.2 L870.3 486.5 L871.7 483.8 L873.0 481.0 L874.4 478.3 L875.7 475.5 L877.0 472.8 L878.3 470.1 L879.6 467.3 L880.9 464.6 L882.2 461.9 L883.5 459.2 L884.8 456.5 L886.1 453.7 L887.4 451.0 L888.6 448.3 L889.9 445.7 L891.2 443.0 L892.5 440.3 L893.9 437.6 L895.2 435.0 L896.5 432.3 L897.9 429.7 L899.3 427.1 L900.7 424.5 L902.2 421.9 L903.6 419.3 L905.1 416.7 L906.6 414.2 L908.2 411.7 L909.8 409.2 L911.4 406.7 L913.1 404.2 L914.8 401.7 L916.5 399.3 L918.3 396.9 L920.2 394.5 L922.1 392.1 L924.0 389.7 L926.0 387.4 L928.1 385.1 L930.2 382.8 L932.3 380.6 L934.5 378.4 L936.8 376.3 L939.1 374.2 L941.4 372.2 L943.8 370.3 L946.2 368.4 L948.7 366.7 L951.2 365.0 L953.7 363.4 L956.2 361.9 L958.8 360.5 L961.4 359.3 L964.1 358.1 L966.7 357.1 L969.4 356.2 L972.1 355.4 L974.9 354.8 L977.6 354.4 L980.4 354.1 L983.2 353.9 L985.9 354.0 L988.7 354.1 L991.5 354.4 L994.3 354.9 L997.1 355.4 L999.9 356.2 L1002.7 357.0 L1005.5 357.9 L1008.3 359.0 L1011.1 360.1 L1013.8 361.4 L1016.6 362.8 L1019.3 364.2 L1022.0 365.7 L1024.6 367.3 L1027.3 369.0 L1029.9 370.8 L1032.5 372.6 L1035.0 374.4 L1037.5 376.4 L1040.0 378.3 L1042.4 380.3 L1044.8 382.3 L1047.2 384.4 L1049.5 386.5 L1051.8 388.6 L1054.1 390.7 L1056.3 392.8 L1058.6 395.0 L1060.7 397.1 L1062.9 399.3 L1065.0 401.5 L1067.1 403.7 L1069.2 405.9 L1071.2 408.2 L1073.2 410.4 L1075.2 412.7 L1077.2 414.9 L1079.1 417.2 L1081.0 419.5 L1082.9 421.8 L1084.8 424.1 L1086.6 426.5 L1088.4 428.8 L1090.2 431.2 L1092.0 433.5 L1093.8 435.9 L1095.5 438.3 L1097.3 440.7 L1099.0 443.1 L1100.7 445.5 L1102.4 447.9 L1104.1 450.4 L1105.7 452.8 L1107.4 455.3 L1109.0 457.7 L1110.6 460.2 L1112.3 462.7 L1113.9 465.1 L1115.5 467.6 L1117.0 470.1 L1118.6 472.6 L1120.2 475.2 L1121.8 477.7 L1123.3 480.2 L1124.9 482.7 L1126.5 485.3 L1128.0 487.8 L1129.6 490.4 L1131.1 493.0 L1132.7 495.5 L1134.2 498.1 L1135.7 500.7 L1137.3 503.2 L1138.8 505.8 L1140.3 508.4 L1141.9 511.0 L1143.4 513.6 L1144.9 516.2 L1146.5 518.8 L1148.0 521.4 L1149.5 524.0 L1151.0 526.6 L1152.6 529.2 L1154.1 531.9 L1155.6 534.5 L1157.1 537.1 L1158.7 539.7 L1160.2 542.3 L1161.7 545.0 L1163.2 547.6 L1164.7 550.2 L1166.3 552.8 L1167.8 555.5 L1169.3 558.1 L1170.8 560.7 L1172.4 563.3 L1173.9 566.0 L1175.4 568.6 L1176.9 571.2 L1178.5 573.8 L1180.0 576.5 L1181.5 579.1 L1183.1 581.7 L1184.6 584.3 L1186.1 586.9 L1187.7 589.5 L1189.2 592.1 L1190.7 594.7 L1192.3 597.3 L1193.8 599.9 L1195.4 602.5 L1196.9 605.1 L1198.5 607.7 L1200.0 610.3 L1201.6 612.9 L1203.2 615.4 L1204.7 618.0 L1206.3 620.6 L1207.9 623.1 L1209.4 625.7 L1211.0 628.2 L1212.6 630.8 L1214.2 633.3 L1215.8 635.9 L1217.3 638.4 L1218.9 641.0 L1220.5 643.5 L1222.1 646.0 L1223.7 648.6 L1225.3 651.1 L1226.9 653.6 L1228.6 656.1 L1230.2 658.6 L1231.8 661.2 L1233.4 663.7 L1235.0 666.2 L1236.7 668.7 L1238.3 671.2 L1239.9 673.7 L1241.6 676.2 L1243.2 678.7 L1244.9 681.2 L1246.5 683.6 L1248.2 686.1 L1249.8 688.6 L1251.5 691.1 L1253.2 693.6 L1254.9 696.1 L1256.5 698.5 L1258.2 701.0 L1259.9 703.5 L1261.6 705.9 L1263.3 708.4 L1265.0 710.9 L1266.7 713.3 L1268.4 715.8 L1270.1 718.3 L1271.8 720.7 L1273.5 723.2 L1275.3 725.6 L1277.0 728.1 L1278.7 730.5 L1280.5 733.0 L1282.2 735.4 L1284.0 737.9 L1285.7 740.3 L1287.5 742.8 L1289.2 745.2 L1291.0 747.6 L1292.8 750.1 L1294.6 752.5 L1296.4 754.9 L1298.2 757.4 L1300.0 759.8 L1301.8 762.2 L1303.6 764.6 L1305.4 767.0 L1307.2 769.4 L1309.1 771.8 L1310.9 774.2 L1312.8 776.5 L1314.6 778.9 L1316.5 781.3 L1318.4 783.6 L1320.3 786.0 L1322.1 788.3 L1324.0 790.6 L1326.0 793.0 L1327.9 795.3 L1329.8 797.6 L1331.7 799.9 L1333.7 802.2 L1335.6 804.4 L1337.6 806.7 L1339.6 809.0 L1341.6 811.2 L1343.5 813.5 L1345.6 815.7 L1347.6 817.9 L1349.6 820.1 L1351.6 822.3 L1353.7 824.5 L1355.7 826.6 L1357.8 828.8 L1359.9 830.9 L1362.0 833.1 L1364.1 835.2 L1366.2 837.3 L1368.3 839.4 L1370.4 841.5 L1372.6 843.6 L1374.7 845.6 L1376.9 847.7 L1379.1 849.8 L1381.2 851.8 L1383.4 853.8 L1385.6 855.9 L1387.9 857.9 L1390.1 859.9 L1392.3 861.9 L1394.6 863.9 L1396.8 865.9 L1399.1 867.9 L1401.4 869.8 L1403.7 871.8 L1406.0 873.8 L1408.3 875.7 L1410.6 877.7 L1412.9 879.6 L1415.2 881.5 L1417.6 883.4 L1420.0 885.3 L1422.3 887.2 L1424.7 889.1 L1427.1 891.0 L1429.5 892.8 L1431.9 894.6 L1434.3 896.5 L1436.7 898.3 L1439.2 900.0 L1441.6 901.8 L1444.1 903.6 L1446.5 905.3 L1449.0 907.0 L1451.5 908.7 L1454.0 910.4 L1456.5 912.0 L1459.0 913.7 L1461.5 915.3 L1464.1 916.9 L1466.6 918.4 L1469.1 920.0 L1471.7 921.5 L1474.3 923.0 L1476.8 924.5 L1479.4 925.9 L1482.0 927.4 L1484.6 928.8 L1487.2 930.2 L1489.8 931.6 L1492.5 933.0 L1495.1 934.4 L1497.7 935.7 L1500.4 937.1 L1503.0 938.4 L1505.7 939.7 L1508.4 941.0 L1511.1 942.3 L1513.7 943.6 L1516.4 944.9 L1519.1 946.1 L1521.8 947.4 L1524.5 948.6 L1527.2 949.9 L1530.0 951.1 L1532.7 952.4 L1535.4 953.6 L1538.2 954.8 L1540.9 956.0 L1543.6 957.2 L1546.4 958.5 L1549.1 959.7 L1551.9 960.9 L1554.7 962.1 L1557.4 963.3 L1560.2 964.5 L1563.0 965.6 L1565.8 966.8 L1568.6 968.0 L1571.4 969.2 L1574.2 970.4 L1577.0 971.5 L1579.8 972.7 L1582.6 973.8 L1585.4 975.0 L1588.2 976.1 L1591.0 977.2 L1593.8 978.4 L1596.6 979.5 L1599.5 980.6 L1602.3 981.7 L1605.1 982.8 L1607.9 983.9 L1610.8 985.0 L1613.6 986.0 L1616.4 987.1 L1619.3 988.2 L1622.1 989.2 L1624.9 990.3 L1627.8 991.3 L1630.6 992.3 L1633.5 993.3 L1636.3 994.3 L1639.1 995.3 L1642.0 996.3 L1644.8 997.3 L1647.7 998.3 L1650.5 999.3 L1653.4 1000.2 L1656.2 1001.2 L1659.1 1002.2 L1661.9 1003.1 L1664.8 1004.1 L1667.6 1005.0 L1670.5 1005.9 L1673.3 1006.8 L1676.2 1007.8 L1679.1 1008.7 L1681.9 1009.6 L1684.8 1010.5 L1687.6 1011.4 L1690.5 1012.3 L1693.4 1013.2 L1696.2 1014.1 L1699.1 1015.0 L1701.9 1015.9 L1704.8 1016.7 L1707.7 1017.6 L1710.5 1018.5 L1713.4 1019.4 L1716.3 1020.2 L1719.1 1021.1 L1722.0 1022.0 L1724.9 1022.8 L1727.7 1023.7 L1730.6 1024.6 L1733.5 1025.4 L1736.3 1026.3 L1739.2 1027.1 L1742.1 1028.0 L1744.9 1028.8 L1747.8 1029.7 L1750.7 1030.5 L1753.6 1031.4 L1756.4 1032.2 L1759.3 1033.1 L1762.2 1033.9 L1765.0 1034.8 L1767.9 1035.6 L1770.8 1036.5 L1773.7 1037.4 L1776.5 1038.2 L1779.4 1039.1 L1782.3 1039.9 L1785.1 1040.8 L1788.0 1041.7 L1790.9 1042.5 L1793.8 1043.4 L1796.6 1044.3 L1799.5 1045.1 L1802.4 1046.0 L1805.2 1046.9 L1808.1 1047.8 L1811.0 1048.7 L1813.9 1049.5 L1816.7 1050.4 L1819.6 1051.3 L1822.5 1052.2 L1825.3 1053.1 L1828.2 1054.1 L1831.1 1055.0 L1833.9 1055.9 L1836.8 1056.8 L1839.7 1057.7 L1842.5 1058.7 L1845.4 1059.6 L1848.3 1060.6 L1851.1 1061.5 L1854.0 1062.5 L1856.9 1063.4 L1859.7 1064.4 L1862.6 1065.4 L1865.4 1066.4 L1868.3 1067.4 L1871.0 1068.4"/>
<path d="M265.2 1173.0 L268.2 1172.9 L271.1 1172.8 L274.0 1172.7 L277.0 1172.6 L279.9 1172.4 L282.9 1172.2 L285.8 1171.9 L288.8 1171.7 L291.8 1171.4 L294.7 1171.1 L297.7 1170.7 L300.7 1170.4 L303.6 1170.0 L306.6 1169.6 L309.6 1169.1 L312.5 1168.7 L315.5 1168.2 L318.5 1167.7 L321.5 1167.2 L324.4 1166.7 L327.4 1166.2 L330.4 1165.6 L333.4 1165.1 L336.3 1164.5 L339.3 1163.9 L342.3 1163.3 L345.3 1162.7 L348.2 1162.0 L351.2 1161.4 L354.2 1160.7 L357.2 1160.1 L360.1 1159.4 L363.1 1158.7 L366.1 1158.1 L369.0 1157.4 L372.0 1156.7 L374.9 1156.0 L377.9 1155.3 L380.8 1154.6 L383.8 1153.9 L386.7 1153.2 L389.7 1152.5 L392.6 1151.8 L395.6 1151.1 L398.5 1150.3 L401.4 1149.6 L404.3 1148.9 L407.2 1148.1 L410.2 1147.4 L413.1 1146.6 L416.0 1145.9 L418.9 1145.1 L421.8 1144.3 L424.7 1143.5 L427.5 1142.7 L430.4 1141.9 L433.3 1141.1 L436.1 1140.2 L439.0 1139.3 L441.9 1138.5 L444.7 1137.6 L447.5 1136.7 L450.4 1135.7 L453.2 1134.8 L456.0 1133.8 L458.8 1132.9 L461.6 1131.9 L464.4 1130.8 L467.2 1129.8 L470.0 1128.7 L472.7 1127.6 L475.5 1126.5 L478.3 1125.4 L481.0 1124.3 L483.7 1123.1 L486.5 1121.9 L489.2 1120.6 L491.9 1119.4 L494.6 1118.1 L497.3 1116.8 L499.9 1115.4 L502.6 1114.1 L505.2 1112.7 L507.9 1111.2 L510.5 1109.8 L513.1 1108.3 L515.7 1106.8 L518.3 1105.2 L520.9 1103.7 L523.5 1102.1 L526.0 1100.4 L528.6 1098.8 L531.1 1097.1 L533.6 1095.4 L536.1 1093.7 L538.6 1092.0 L541.0 1090.2 L543.5 1088.4 L545.9 1086.6 L548.3 1084.7 L550.7 1082.9 L553.1 1081.0 L555.5 1079.1 L557.8 1077.1 L560.1 1075.2 L562.4 1073.2 L564.7 1071.2 L567.0 1069.2 L569.2 1067.2 L571.4 1065.1 L573.6 1063.0 L575.8 1060.9 L578.0 1058.8 L580.1 1056.7 L582.2 1054.5 L584.3 1052.3 L586.4 1050.2 L588.4 1048.0 L590.4 1045.7 L592.4 1043.5 L594.4 1041.2 L596.3 1039.0 L598.2 1036.7 L600.1 1034.4 L602.0 1032.0 L603.8 1029.7 L605.7 1027.4 L607.5 1025.0 L609.3 1022.6 L611.0 1020.2 L612.8 1017.8 L614.5 1015.4 L616.2 1013.0 L617.9 1010.5 L619.6 1008.1 L621.2 1005.6 L622.9 1003.1 L624.5 1000.7 L626.1 998.2 L627.7 995.7 L629.3 993.1 L630.9 990.6 L632.5 988.1 L634.1 985.5 L635.6 983.0 L637.1 980.4 L638.7 977.8 L640.2 975.3 L641.7 972.7 L643.2 970.1 L644.7 967.5 L646.2 964.9 L647.7 962.3 L649.2 959.7 L650.7 957.0 L652.2 954.4 L653.7 951.8 L655.1 949.1 L656.6 946.5 L658.1 943.8 L659.6 941.2 L661.1 938.5 L662.5 935.9 L664.0 933.2 L665.5 930.6 L667.0 927.9 L668.5 925.2 L669.9 922.6 L671.4 919.9 L672.9 917.2 L674.4 914.6 L675.8 911.9 L677.3 909.2 L678.7 906.5 L680.2 903.8 L681.6 901.1 L683.1 898.4 L684.5 895.8 L685.9 893.1 L687.3 890.4 L688.7 887.7 L690.1 885.0 L691.5 882.2 L692.8 879.5 L694.2 876.8 L695.5 874.1 L696.8 871.4 L698.1 868.7 L699.4 866.0 L700.7 863.2 L701.9 860.5 L703.2 857.8 L704.4 855.1 L705.6 852.3 L706.8 849.6 L708.0 846.9 L709.2 844.1 L710.4 841.4 L711.5 838.7 L712.7 835.9 L713.8 833.2 L714.9 830.4 L716.1 827.7 L717.2 824.9 L718.3 822.2 L719.4 819.4 L720.5 816.7 L721.6 813.9 L722.7 811.2 L723.8 808.4 L724.9 805.6 L726.0 802.9 L727.1 800.1 L728.2 797.3 L729.3 794.6 L730.4 791.8 L731.5 789.0 L732.6 786.3 L733.8 783.5 L734.9 780.7 L736.0 777.9 L737.1 775.1 L738.2 772.4 L739.3 769.6 L740.4 766.8 L741.5 764.0 L742.6 761.2 L743.7 758.4 L744.8 755.7 L745.9 752.9 L747.1 750.1 L748.2 747.3 L749.3 744.5 L750.4 741.7 L751.5 738.9 L752.6 736.1 L753.7 733.3 L754.8 730.5 L755.9 727.7 L757.0 724.9 L758.1 722.1 L759.2 719.3 L760.3 716.5 L761.4 713.7 L762.5 710.9 L763.5 708.1 L764.6 705.3 L765.7 702.5 L766.8 699.6 L767.9 696.8 L769.0 694.0 L770.1 691.2 L771.1 688.4 L772.2 685.6 L773.3 682.8 L774.4 680.0 L775.4 677.1 L776.5 674.3 L777.6 671.5 L778.6 668.7 L779.7 665.9 L780.7 663.0 L781.8 660.2 L782.9 657.4 L783.9 654.6 L785.0 651.8 L786.0 648.9 L787.1 646.1 L788.1 643.3 L789.2 640.5 L790.2 637.7 L791.2 634.8 L792.3 632.0 L793.3 629.2 L794.3 626.4 L795.4 623.5 L796.4 620.7 L797.4 617.9 L798.5 615.0 L799.5 612.2 L800.5 609.4 L801.5 606.6 L802.5 603.7 L803.5 600.9 L804.6 598.1 L805.6 595.2 L806.6 592.4 L807.6 589.6 L808.6 586.7 L809.6 583.9 L810.6 581.1 L811.6 578.2 L812.6 575.4 L813.6 572.5 L814.6 569.7 L815.6 566.9 L816.5 564.0 L817.5 561.2 L818.5 558.4 L819.5 555.5 L820.5 552.7 L821.4 549.8 L822.4 547.0 L823.4 544.1 L824.4 541.3 L825.3 538.4 L826.3 535.6 L827.3 532.8 L828.2 529.9 L829.2 527.1 L830.1 524.2 L831.1 521.4 L832.0 518.5 L833.0 515.7 L833.9 512.8 L834.9 510.0 L835.8 507.1 L836.8 504.3 L837.7 501.4 L838.7 498.5 L839.6 495.7 L840.5 492.8 L841.5 490.0 L842.4 487.1 L843.3 484.3 L844.2 481.4 L845.2 478.5 L846.1 475.7 L847.0 472.8 L847.9 470.0 L848.8 467.1 L849.8 464.2 L850.7 461.4 L851.6 458.5 L852.5 455.6 L853.4 452.8 L854.3 449.9 L855.2 447.0 L856.1 444.2 L857.0 441.3 L857.9 438.5 L858.9 435.6 L859.8 432.7 L860.7 429.9 L861.6 427.0 L862.6 424.2 L863.5 421.3 L864.4 418.5 L865.4 415.6 L866.3 412.8 L867.3 409.9 L868.3 407.1 L869.3 404.3 L870.3 401.4 L871.3 398.6 L872.3 395.8 L873.3 393.0 L874.3 390.2 L875.4 387.4 L876.5 384.6 L877.5 381.8 L878.6 379.0 L879.7 376.2 L880.9 373.4 L882.0 370.7 L883.1 367.9 L884.3 365.1 L885.5 362.4 L886.7 359.7 L887.9 356.9 L889.2 354.2 L890.4 351.5 L891.7 348.8 L893.0 346.1 L894.4 343.4 L895.7 340.7 L897.1 338.0 L898.5 335.4 L899.9 332.7 L901.3 330.1 L902.8 327.4 L904.3 324.8 L905.8 322.2 L907.3 319.6 L908.9 317.0 L910.5 314.4 L912.2 311.9 L913.8 309.3 L915.5 306.8 L917.2 304.3 L919.0 301.7 L920.7 299.2 L922.6 296.7 L924.4 294.3 L926.3 291.8 L928.2 289.4 L930.1 286.9 L932.1 284.5 L934.1 282.2 L936.2 279.9 L938.3 277.6 L940.5 275.5 L942.7 273.4 L944.9 271.5 L947.2 269.6 L949.6 267.9 L952.0 266.3 L954.5 264.8 L957.0 263.5 L959.6 262.4 L962.3 261.5 L965.0 260.7 L967.8 260.1 L970.7 259.8 L973.6 259.6 L976.6 259.6 L979.7 259.7 L982.8 259.8 L985.9 259.8 L989.0 259.8 L992.1 259.6 L995.2 259.4 L998.4 259.2 L1001.4 259.0 L1004.5 258.9 L1007.4 259.0 L1010.4 259.2 L1013.2 259.7 L1016.0 260.4 L1018.7 261.2 L1021.4 262.2 L1024.0 263.3 L1026.6 264.6 L1029.1 266.1 L1031.6 267.7 L1034.0 269.4 L1036.3 271.2 L1038.6 273.1 L1040.9 275.0 L1043.1 277.1 L1045.2 279.3 L1047.4 281.4 L1049.5 283.7 L1051.5 286.0 L1053.5 288.3 L1055.5 290.7 L1057.4 293.0 L1059.3 295.5 L1061.2 297.9 L1063.0 300.4 L1064.8 302.9 L1066.6 305.4 L1068.3 307.9 L1070.1 310.5 L1071.8 313.0 L1073.4 315.6 L1075.1 318.2 L1076.7 320.8 L1078.4 323.4 L1080.0 325.9 L1081.6 328.5 L1083.2 331.1 L1084.7 333.7 L1086.3 336.3 L1087.8 338.9 L1089.4 341.4 L1090.9 344.0 L1092.5 346.5 L1094.0 349.0 L1095.5 351.5 L1097.1 354.0 L1098.6 356.5 L1100.2 359.0 L1101.8 361.5 L1103.4 363.9 L1105.0 366.4 L1106.6 368.8 L1108.2 371.3 L1109.9 373.7 L1111.6 376.2 L1113.3 378.6 L1115.0 381.0 L1116.7 383.5 L1118.5 385.9 L1120.2 388.4 L1121.9 390.8 L1123.6 393.3 L1125.3 395.8 L1127.0 398.2 L1128.7 400.7 L1130.3 403.2 L1132.0 405.7 L1133.6 408.2 L1135.2 410.8 L1136.8 413.3 L1138.3 415.9 L1139.9 418.5 L1141.3 421.1 L1142.8 423.7 L1144.2 426.3 L1145.7 429.0 L1147.1 431.6 L1148.4 434.3 L1149.8 437.0 L1151.1 439.7 L1152.4 442.4 L1153.7 445.1 L1155.0 447.8 L1156.3 450.5 L1157.5 453.3 L1158.8 456.0 L1160.0 458.7 L1161.3 461.5 L1162.5 464.2 L1163.7 467.0 L1165.0 469.7 L1166.2 472.5 L1167.4 475.3 L1168.6 478.0 L1169.8 480.8 L1171.1 483.5 L1172.3 486.3 L1173.5 489.0 L1174.8 491.7 L1176.0 494.5 L1177.3 497.2 L1178.5 499.9 L1179.8 502.7 L1181.1 505.4 L1182.4 508.1 L1183.6 510.8 L1184.9 513.5 L1186.2 516.2 L1187.5 518.9 L1188.8 521.6 L1190.1 524.3 L1191.5 527.0 L1192.8 529.7 L1194.1 532.4 L1195.5 535.1 L1196.8 537.8 L1198.2 540.4 L1199.6 543.1 L1200.9 545.8 L1202.3 548.4 L1203.7 551.1 L1205.1 553.8 L1206.5 556.4 L1208.0 559.1 L1209.4 561.7 L1210.8 564.4 L1212.3 567.0 L1213.8 569.7 L1215.2 572.3 L1216.7 574.9 L1218.2 577.5 L1219.8 580.2 L1221.3 582.8 L1222.8 585.4 L1224.4 588.0 L1226.0 590.6 L1227.5 593.2 L1229.1 595.9 L1230.7 598.5 L1232.3 601.1 L1233.8 603.6 L1235.4 606.2 L1236.9 608.8 L1238.5 611.4 L1240.0 614.0 L1241.5 616.6 L1243.1 619.1 L1244.6 621.7 L1246.1 624.3 L1247.6 626.8 L1249.1 629.4 L1250.6 631.9 L1252.1 634.5 L1253.6 637.0 L1255.1 639.6 L1256.6 642.1 L1258.1 644.7 L1259.7 647.2 L1261.2 649.7 L1262.7 652.2 L1264.3 654.8 L1265.9 657.3 L1267.5 659.8 L1269.1 662.3 L1270.7 664.8 L1272.3 667.3 L1273.9 669.8 L1275.6 672.3 L1277.3 674.8 L1278.9 677.2 L1280.6 679.7 L1282.3 682.2 L1284.1 684.6 L1285.8 687.1 L1287.5 689.6 L1289.3 692.0 L1291.0 694.5 L1292.8 696.9 L1294.5 699.3 L1296.3 701.8 L1298.1 704.2 L1299.8 706.6 L1301.6 709.0 L1303.4 711.4 L1305.2 713.8 L1306.9 716.2 L1308.7 718.6 L1310.5 721.0 L1312.3 723.4 L1314.1 725.8 L1315.9 728.2 L1317.7 730.5 L1319.5 732.9 L1321.3 735.3 L1323.1 737.6 L1324.9 740.0 L1326.8 742.3 L1328.6 744.6 L1330.5 747.0 L1332.4 749.3 L1334.3 751.6 L1336.2 753.9 L1338.2 756.2 L1340.1 758.5 L1342.1 760.8 L1344.1 763.1 L1346.1 765.4 L1348.1 767.7 L1350.1 770.0 L1352.2 772.2 L1354.2 774.5 L1356.3 776.7 L1358.4 779.0 L1360.4 781.2 L1362.5 783.5 L1364.6 785.7 L1366.7 787.9 L1368.8 790.1 L1370.9 792.3 L1373.1 794.5 L1375.2 796.7 L1377.3 798.9 L1379.4 801.1 L1381.5 803.3 L1383.7 805.4 L1385.8 807.6 L1387.9 809.8 L1390.0 811.9 L1392.2 814.0 L1394.3 816.2 L1396.4 818.3 L1398.6 820.4 L1400.7 822.5 L1402.9 824.6 L1405.0 826.7 L1407.2 828.8 L1409.3 830.8 L1411.5 832.9 L1413.7 834.9 L1415.9 837.0 L1418.0 839.0 L1420.2 841.0 L1422.4 843.0 L1424.6 845.0 L1426.8 847.0 L1429.1 848.9 L1431.3 850.9 L1433.5 852.8 L1435.8 854.8 L1438.0 856.7 L1440.3 858.6 L1442.6 860.5 L1444.9 862.4 L1447.2 864.2 L1449.5 866.1 L1451.8 867.9 L1454.1 869.7 L1456.5 871.5 L1458.8 873.3 L1461.2 875.1 L1463.6 876.9 L1466.0 878.6 L1468.4 880.3 L1470.8 882.0 L1473.3 883.7 L1475.7 885.4 L1478.2 887.1 L1480.7 888.7 L1483.2 890.4 L1485.7 892.0 L1488.2 893.6 L1490.7 895.2 L1493.3 896.7 L1495.9 898.3 L1498.4 899.8 L1501.0 901.4 L1503.6 902.9 L1506.2 904.4 L1508.8 905.9 L1511.5 907.3 L1514.1 908.8 L1516.8 910.3 L1519.4 911.7 L1522.1 913.1 L1524.8 914.5 L1527.4 915.9 L1530.1 917.3 L1532.8 918.7 L1535.5 920.1 L1538.2 921.4 L1541.0 922.8 L1543.7 924.1 L1546.4 925.4 L1549.2 926.7 L1551.9 928.0 L1554.6 929.3 L1557.4 930.6 L1560.1 931.9 L1562.9 933.2 L1565.6 934.4 L1568.4 935.7 L1571.2 937.0 L1573.9 938.2 L1576.7 939.4 L1579.5 940.7 L1582.2 941.9 L1585.0 943.1 L1587.8 944.3 L1590.5 945.5 L1593.3 946.7 L1596.1 947.9 L1598.8 949.1 L1601.6 950.3 L1604.4 951.4 L1607.2 952.6 L1609.9 953.8 L1612.7 954.9 L1615.5 956.1 L1618.2 957.2 L1621.0 958.4 L1623.8 959.5 L1626.6 960.7 L1629.3 961.8 L1632.1 962.9 L1634.9 964.1 L1637.6 965.2 L1640.4 966.3 L1643.2 967.4 L1646.0 968.6 L1648.7 969.7 L1651.5 970.8 L1654.3 971.9 L1657.1 973.0 L1659.8 974.1 L1662.6 975.2 L1665.4 976.3 L1668.2 977.4 L1671.0 978.5 L1673.7 979.6 L1676.5 980.7 L1679.3 981.7 L1682.1 982.8 L1684.9 983.9 L1687.7 985.0 L1690.4 986.1 L1693.2 987.2 L1696.0 988.2 L1698.8 989.3 L1701.6 990.4 L1704.4 991.5 L1707.2 992.6 L1709.9 993.7 L1712.7 994.7 L1715.5 995.8 L1718.3 996.9 L1721.1 998.0 L1723.9 999.1 L1726.7 1000.2 L1729.5 1001.2 L1732.3 1002.3 L1735.1 1003.4 L1737.9 1004.5 L1740.7 1005.6 L1743.5 1006.7 L1746.3 1007.8 L1749.1 1008.9 L1751.9 1009.9 L1754.7 1011.0 L1757.5 1012.1 L1760.3 1013.2 L1763.1 1014.3 L1765.9 1015.4 L1768.7 1016.4 L1771.6 1017.5 L1774.4 1018.6 L1777.2 1019.7 L1780.0 1020.7 L1782.8 1021.8 L1785.6 1022.9 L1788.5 1023.9 L1791.3 1025.0 L1794.1 1026.0 L1796.9 1027.1 L1799.7 1028.1 L1802.6 1029.2 L1805.4 1030.2 L1808.2 1031.2 L1811.1 1032.3 L1813.9 1033.3 L1816.7 1034.3 L1819.6 1035.3 L1822.4 1036.3 L1825.2 1037.3 L1828.1 1038.3 L1830.9 1039.2 L1833.7 1040.2 L1836.6 1041.2 L1839.4 1042.1 L1842.3 1043.1 L1845.1 1044.0 L1848.0 1044.9 L1850.8 1045.9 L1853.7 1046.8 L1856.5 1047.7 L1859.4 1048.6 L1862.3 1049.5 L1865.1 1050.3 L1868.0 1051.2 L1870.8 1052.1"/>
</g>
<g stroke="#000" fill="none">
<path d="M262.5 45.5 H1873 V1195.5 H262.5 Z" stroke-width="5" stroke-linejoin="miter"/>
<line x1="246" y1="1195.5" x2="262.5" y2="1195.5" stroke-width="5"/>
<line x1="246" y1="908.0" x2="262.5" y2="908.0" stroke-width="5"/>
<line x1="246" y1="620.5" x2="262.5" y2="620.5" stroke-width="5"/>
<line x1="246" y1="333.0" x2="262.5" y2="333.0" stroke-width="5"/>
<line x1="246" y1="45.5" x2="262.5" y2="45.5" stroke-width="5"/>
<line x1="335.7" y1="1195.5" x2="335.7" y2="1212" stroke-width="5"/>
<line x1="628.5" y1="1195.5" x2="628.5" y2="1212" stroke-width="5"/>
<line x1="921.3" y1="1195.5" x2="921.3" y2="1212" stroke-width="5"/>
<line x1="1214.2" y1="1195.5" x2="1214.2" y2="1212" stroke-width="5"/>
<line x1="1507.0" y1="1195.5" x2="1507.0" y2="1212" stroke-width="5"/>
<line x1="1799.8" y1="1195.5" x2="1799.8" y2="1212" stroke-width="5"/>
</g>
<g font-family="'Liberation Sans', Arial, sans-serif" font-size="55" fill="#000" text-anchor="end">
<text x="220" y="1215.0">0</text>
<text x="220" y="927.5">200</text>
<text x="220" y="640.0">400</text>
<text x="220" y="352.5">600</text>
<text x="220" y="65.0">800</text>
</g>
<g font-family="'Liberation Sans', Arial, sans-serif" font-size="55" fill="#000" text-anchor="middle">
<text x="335.7" y="1288.5">540</text>
<text x="628.5" y="1288.5">560</text>
<text x="921.3" y="1288.5">580</text>
<text x="1214.2" y="1288.5">600</text>
<text x="1507.0" y="1288.5">620</text>
<text x="1799.8" y="1288.5">640</text>
</g>
<text x="1070.5" y="1404" font-family="'Liberation Sans', Arial, sans-serif" font-size="72" text-anchor="middle">Wavelenght, nm</text>
<text transform="translate(72 620) rotate(-90)" font-family="'Liberation Sans', Arial, sans-serif" font-size="72" text-anchor="middle">Intensity, a.u.</text>
<g stroke="#000" fill="none" stroke-width="3.5">
<line x1="473.6" y1="435" x2="473.6" y2="964.5"/>
<polyline points="452.5,508.5 473.6,434 494.7,508.5" stroke-linejoin="miter" stroke-miterlimit="10"/>
</g>
<text x="413" y="397" font-family="'Liberation Sans', Arial, sans-serif" font-size="55">55 <tspan dx="-3.5" font-family="'Noto Serif CJK SC', 'Liberation Serif', serif">μ</tspan><tspan dx="-3">M</tspan></text>
<text x="433.5" y="1012" font-family="'Liberation Sans', Arial, sans-serif" font-size="55">0 <tspan dx="-3.5" font-family="'Noto Serif CJK SC', 'Liberation Serif', serif">μ</tspan><tspan dx="-3">M</tspan></text>
<rect x="1326" y="74.5" width="615.5" height="440.5" fill="#fff" stroke="#000" stroke-width="2.2"/>
<g stroke="#000" stroke-width="2.2">
<line x1="1319" y1="515.0" x2="1326" y2="515.0"/>
<line x1="1319" y1="404.9" x2="1326" y2="404.9"/>
<line x1="1319" y1="294.8" x2="1326" y2="294.8"/>
<line x1="1319" y1="184.6" x2="1326" y2="184.6"/>
<line x1="1319" y1="74.5" x2="1326" y2="74.5"/>
<line x1="1326.0" y1="515" x2="1326.0" y2="522"/>
<line x1="1428.6" y1="515" x2="1428.6" y2="522"/>
<line x1="1531.2" y1="515" x2="1531.2" y2="522"/>
<line x1="1633.7" y1="515" x2="1633.7" y2="522"/>
<line x1="1736.3" y1="515" x2="1736.3" y2="522"/>
<line x1="1838.9" y1="515" x2="1838.9" y2="522"/>
<line x1="1941.5" y1="515" x2="1941.5" y2="522"/>
</g>
<line x1="1326" y1="515" x2="1941" y2="145" stroke="#000" stroke-width="5"/>
<circle cx="1377.3" cy="458.0" r="13.3" fill="#000"/>
<circle cx="1418.3" cy="456.1" r="13.3" fill="#000"/>
<circle cx="1428.6" cy="454.4" r="13.3" fill="#000"/>
<circle cx="1531.2" cy="396.6" r="13.3" fill="#000"/>
<circle cx="1633.7" cy="353.8" r="13.3" fill="#000"/>
<circle cx="1736.3" cy="310.3" r="13.3" fill="#000"/>
<circle cx="1787.6" cy="217.7" r="13.3" fill="#000"/>
<circle cx="1838.9" cy="190.7" r="13.3" fill="#000"/>
<circle cx="1890.2" cy="154.9" r="13.3" fill="#000"/>
<g font-family="'Liberation Sans', Arial, sans-serif" font-size="43" fill="#000" text-anchor="end">
<text x="1299" y="530.0">0</text>
<text x="1299" y="419.9">200</text>
<text x="1299" y="309.8">400</text>
<text x="1299" y="199.6">600</text>
<text x="1299" y="89.5">800</text>
</g>
<g font-family="'Liberation Sans', Arial, sans-serif" font-size="43" fill="#000" text-anchor="middle">
<text x="1326.0" y="585.5">0</text>
<text x="1428.6" y="585.5">10</text>
<text x="1531.2" y="585.5">20</text>
<text x="1633.7" y="585.5">30</text>
<text x="1736.3" y="585.5">40</text>
<text x="1838.9" y="585.5">50</text>
<text x="1941.5" y="585.5">60</text>
</g>
<text transform="translate(1205.5 245.5) rotate(-90)" font-family="'Liberation Sans', Arial, sans-serif" font-size="62" text-anchor="middle">Intensity, a.u.</text>
<text transform="translate(1458.5 689.3) scale(0.982 1)" font-family="'Liberation Sans', Arial, sans-serif" font-size="55">Cu<tspan font-size="37" dy="-27" dx="-0.5">2+</tspan><tspan dy="27" dx="-1"> cons., </tspan><tspan dx="-4" font-family="'Noto Serif CJK SC', 'Liberation Serif', serif">μ</tspan><tspan dx="-3.5">M</tspan></text>
<text x="1015" y="1562" font-family="'Liberation Serif', 'Times New Roman', serif" font-size="77" text-anchor="middle">(<tspan font-weight="bold">a</tspan>)</text>
<g fill="none" stroke="#000" stroke-width="4.8" stroke-linejoin="round">
<path d="M309.4 2757.3 L312.2 2756.8 L315.0 2756.2 L317.9 2755.5 L320.7 2754.9 L323.6 2754.2 L326.4 2753.4 L329.3 2752.7 L332.1 2751.8 L334.9 2751.0 L337.8 2750.1 L340.6 2749.2 L343.4 2748.3 L346.3 2747.3 L349.1 2746.3 L351.9 2745.3 L354.7 2744.2 L357.6 2743.1 L360.4 2742.0 L363.2 2740.9 L366.0 2739.8 L368.8 2738.6 L371.6 2737.5 L374.4 2736.3 L377.2 2735.1 L380.0 2733.8 L382.8 2732.6 L385.6 2731.4 L388.4 2730.1 L391.2 2728.9 L394.0 2727.6 L396.8 2726.3 L399.6 2725.0 L402.4 2723.7 L405.1 2722.5 L407.9 2721.2 L410.7 2719.9 L413.4 2718.6 L416.2 2717.3 L419.0 2716.0 L421.7 2714.8 L424.5 2713.5 L427.2 2712.3 L430.0 2711.0 L432.7 2709.8 L435.4 2708.5 L438.2 2707.3 L440.9 2706.1 L443.6 2704.8 L446.3 2703.6 L449.1 2702.4 L451.8 2701.2 L454.5 2699.9 L457.2 2698.7 L459.9 2697.5 L462.6 2696.3 L465.2 2695.0 L467.9 2693.8 L470.6 2692.6 L473.3 2691.3 L475.9 2690.0 L478.6 2688.8 L481.3 2687.5 L483.9 2686.2 L486.6 2684.9 L489.2 2683.6 L491.8 2682.3 L494.5 2680.9 L497.1 2679.6 L499.7 2678.2 L502.3 2676.8 L504.9 2675.4 L507.5 2674.0 L510.1 2672.5 L512.7 2671.1 L515.3 2669.6 L517.9 2668.1 L520.4 2666.5 L523.0 2665.0 L525.6 2663.4 L528.1 2661.8 L530.6 2660.2 L533.2 2658.5 L535.7 2656.8 L538.2 2655.1 L540.8 2653.3 L543.3 2651.5 L545.8 2649.7 L548.3 2647.9 L550.8 2646.0 L553.2 2644.1 L555.7 2642.2 L558.2 2640.2 L560.7 2638.3 L563.1 2636.4 L565.6 2634.5 L568.0 2632.6 L570.5 2630.9 L572.9 2629.1 L575.4 2627.5 L577.8 2625.8 L580.2 2624.3 L582.7 2622.7 L585.1 2621.2 L587.5 2619.6 L589.9 2618.1 L592.4 2616.5 L594.8 2614.9 L597.2 2613.2 L599.6 2611.5 L602.1 2609.8 L604.4 2608.1 L606.8 2606.4 L609.2 2604.6 L611.5 2602.8 L613.9 2600.9 L616.2 2599.0 L618.5 2597.1 L620.7 2595.2 L623.0 2593.3 L625.2 2591.3 L627.4 2589.3 L629.6 2587.2 L631.8 2585.2 L634.0 2583.1 L636.1 2581.0 L638.3 2578.9 L640.4 2576.7 L642.5 2574.6 L644.5 2572.4 L646.6 2570.2 L648.7 2568.0 L650.7 2565.7 L652.7 2563.5 L654.7 2561.2 L656.7 2558.9 L658.7 2556.6 L660.7 2554.3 L662.6 2552.0 L664.6 2549.7 L666.5 2547.3 L668.4 2544.9 L670.3 2542.6 L672.2 2540.2 L674.1 2537.8 L676.0 2535.4 L677.8 2533.0 L679.7 2530.6 L681.5 2528.2 L683.3 2525.8 L685.2 2523.4 L687.0 2520.9 L688.8 2518.5 L690.6 2516.1 L692.4 2513.6 L694.2 2511.2 L696.0 2508.8 L697.7 2506.3 L699.5 2503.9 L701.3 2501.4 L703.0 2499.0 L704.8 2496.5 L706.5 2494.1 L708.2 2491.6 L710.0 2489.2 L711.7 2486.7 L713.4 2484.3 L715.1 2481.8 L716.9 2479.4 L718.6 2476.9 L720.3 2474.5 L722.0 2472.0 L723.7 2469.5 L725.4 2467.1 L727.1 2464.6 L728.9 2462.2 L730.6 2459.7 L732.3 2457.3 L734.0 2454.8 L735.7 2452.4 L737.4 2449.9 L739.1 2447.4 L740.8 2445.0 L742.5 2442.5 L744.2 2440.1 L746.0 2437.6 L747.7 2435.2 L749.4 2432.8 L751.1 2430.3 L752.9 2427.9 L754.6 2425.4 L756.3 2423.0 L758.1 2420.6 L759.8 2418.1 L761.6 2415.7 L763.3 2413.3 L765.1 2410.9 L766.9 2408.4 L768.6 2406.0 L770.4 2403.6 L772.2 2401.2 L774.0 2398.8 L775.8 2396.4 L777.6 2394.0 L779.5 2391.6 L781.3 2389.2 L783.1 2386.8 L785.0 2384.5 L786.9 2382.1 L788.7 2379.7 L790.6 2377.4 L792.5 2375.0 L794.4 2372.6 L796.3 2370.3 L798.2 2367.9 L800.2 2365.6 L802.1 2363.3 L804.1 2360.9 L806.0 2358.6 L808.0 2356.3 L809.9 2354.0 L811.9 2351.7 L813.9 2349.4 L815.9 2347.1 L817.8 2344.8 L819.8 2342.6 L821.8 2340.3 L823.8 2338.0 L825.8 2335.8 L827.8 2333.5 L829.8 2331.3 L831.8 2329.1 L833.8 2326.9 L835.8 2324.6 L837.8 2322.4 L839.8 2320.2 L841.8 2318.0 L843.8 2315.9 L845.8 2313.7 L847.8 2311.5 L849.9 2309.4 L851.9 2307.2 L854.0 2305.1 L856.0 2303.0 L858.1 2300.9 L860.2 2298.8 L862.4 2296.7 L864.6 2294.6 L866.8 2292.5 L869.0 2290.5 L871.3 2288.4 L873.6 2286.4 L875.9 2284.4 L878.2 2282.5 L880.6 2280.6 L883.0 2278.7 L885.4 2276.8 L887.9 2275.0 L890.3 2273.3 L892.8 2271.5 L895.3 2269.9 L897.9 2268.2 L900.5 2266.7 L903.0 2265.2 L905.7 2263.7 L908.3 2262.3 L911.0 2261.0 L913.7 2259.7 L916.4 2258.5 L919.1 2257.4 L921.9 2256.3 L924.6 2255.4 L927.4 2254.5 L930.3 2253.7 L933.1 2253.0 L936.0 2252.3 L938.9 2251.8 L941.8 2251.3 L944.7 2251.0 L947.6 2250.7 L950.6 2250.6 L953.6 2250.5 L956.5 2250.5 L959.5 2250.6 L962.5 2250.8 L965.5 2251.1 L968.5 2251.4 L971.5 2251.8 L974.5 2252.4 L977.5 2253.0 L980.4 2253.6 L983.4 2254.4 L986.3 2255.2 L989.2 2256.1 L992.1 2257.1 L995.0 2258.1 L997.8 2259.2 L1000.6 2260.4 L1003.4 2261.6 L1006.1 2262.9 L1008.8 2264.2 L1011.5 2265.6 L1014.2 2267.1 L1016.8 2268.6 L1019.5 2270.1 L1022.0 2271.7 L1024.6 2273.4 L1027.2 2275.1 L1029.7 2276.8 L1032.2 2278.5 L1034.6 2280.3 L1037.1 2282.1 L1039.5 2283.9 L1042.0 2285.8 L1044.4 2287.7 L1046.7 2289.6 L1049.1 2291.5 L1051.5 2293.4 L1053.8 2295.4 L1056.1 2297.3 L1058.4 2299.3 L1060.7 2301.2 L1063.0 2303.2 L1065.2 2305.1 L1067.5 2307.1 L1069.7 2309.1 L1072.0 2311.0 L1074.2 2312.9 L1076.4 2314.9 L1078.6 2316.8 L1080.8 2318.7 L1083.0 2320.6 L1085.2 2322.5 L1087.4 2324.4 L1089.6 2326.3 L1091.7 2328.2 L1093.9 2330.1 L1096.1 2332.0 L1098.2 2334.0 L1100.3 2335.9 L1102.5 2337.9 L1104.6 2339.9 L1106.7 2341.9 L1108.8 2343.9 L1110.9 2346.0 L1113.0 2348.1 L1115.1 2350.2 L1117.2 2352.3 L1119.3 2354.5 L1121.4 2356.7 L1123.5 2358.9 L1125.6 2361.2 L1127.6 2363.4 L1129.7 2365.7 L1131.8 2368.0 L1133.8 2370.2 L1135.9 2372.5 L1137.9 2374.8 L1140.0 2377.1 L1142.0 2379.4 L1144.1 2381.7 L1146.1 2384.0 L1148.1 2386.3 L1150.2 2388.6 L1152.2 2390.8 L1154.2 2393.1 L1156.3 2395.4 L1158.3 2397.6 L1160.3 2399.9 L1162.4 2402.2 L1164.4 2404.4 L1166.4 2406.7 L1168.4 2408.9 L1170.5 2411.1 L1172.5 2413.4 L1174.5 2415.6 L1176.5 2417.8 L1178.5 2420.1 L1180.6 2422.3 L1182.6 2424.5 L1184.6 2426.7 L1186.6 2428.9 L1188.7 2431.1 L1190.7 2433.3 L1192.7 2435.5 L1194.8 2437.7 L1196.8 2439.9 L1198.8 2442.1 L1200.9 2444.3 L1202.9 2446.4 L1204.9 2448.6 L1207.0 2450.8 L1209.0 2452.9 L1211.1 2455.1 L1213.1 2457.2 L1215.2 2459.4 L1217.2 2461.5 L1219.3 2463.7 L1221.4 2465.8 L1223.5 2467.9 L1225.5 2470.0 L1227.6 2472.2 L1229.7 2474.3 L1231.8 2476.4 L1233.9 2478.5 L1236.0 2480.6 L1238.1 2482.7 L1240.2 2484.8 L1242.3 2486.8 L1244.4 2488.9 L1246.6 2491.0 L1248.7 2493.1 L1250.8 2495.1 L1253.0 2497.2 L1255.2 2499.2 L1257.3 2501.3 L1259.5 2503.3 L1261.7 2505.4 L1263.8 2507.4 L1266.0 2509.4 L1268.2 2511.5 L1270.4 2513.5 L1272.7 2515.5 L1274.9 2517.5 L1277.1 2519.5 L1279.4 2521.5 L1281.6 2523.5 L1283.9 2525.5 L1286.1 2527.4 L1288.4 2529.4 L1290.7 2531.4 L1293.0 2533.3 L1295.3 2535.3 L1297.6 2537.2 L1300.0 2539.2 L1302.3 2541.1 L1304.6 2543.0 L1307.0 2545.0 L1309.3 2546.9 L1311.7 2548.8 L1314.1 2550.7 L1316.5 2552.6 L1318.9 2554.5 L1321.3 2556.3 L1323.7 2558.2 L1326.1 2560.1 L1328.5 2561.9 L1331.0 2563.7 L1333.4 2565.6 L1335.9 2567.4 L1338.3 2569.2 L1340.8 2571.0 L1343.3 2572.8 L1345.8 2574.6 L1348.3 2576.3 L1350.8 2578.1 L1353.3 2579.8 L1355.8 2581.6 L1358.3 2583.3 L1360.8 2585.0 L1363.4 2586.7 L1365.9 2588.4 L1368.5 2590.1 L1371.0 2591.8 L1373.6 2593.4 L1376.2 2595.0 L1378.7 2596.6 L1381.3 2598.2 L1383.9 2599.8 L1386.5 2601.4 L1389.1 2602.9 L1391.7 2604.4 L1394.4 2605.9 L1397.0 2607.3 L1399.6 2608.8 L1402.2 2610.2 L1404.9 2611.5 L1407.5 2612.9 L1410.2 2614.2 L1412.8 2615.5 L1415.5 2616.8 L1418.2 2618.0 L1420.9 2619.3 L1423.5 2620.5 L1426.2 2621.7 L1428.9 2622.8 L1431.6 2624.0 L1434.3 2625.1 L1437.0 2626.3 L1439.7 2627.4 L1442.5 2628.5 L1445.2 2629.6 L1447.9 2630.6 L1450.7 2631.7 L1453.4 2632.7 L1456.1 2633.8 L1458.9 2634.8 L1461.6 2635.9 L1464.4 2636.9 L1467.1 2637.9 L1469.9 2638.9 L1472.7 2640.0 L1475.4 2641.0 L1478.2 2642.0 L1481.0 2643.0 L1483.8 2644.0 L1486.6 2645.0 L1489.4 2646.1 L1492.2 2647.1 L1495.0 2648.2 L1497.8 2649.2 L1500.6 2650.3 L1503.4 2651.3 L1506.2 2652.4 L1509.0 2653.5 L1511.8 2654.6 L1514.6 2655.7 L1517.5 2656.8 L1520.3 2657.9 L1523.1 2659.1 L1526.0 2660.2 L1528.8 2661.3 L1531.6 2662.5 L1534.5 2663.6 L1537.3 2664.7 L1540.2 2665.9 L1543.0 2667.0 L1545.9 2668.1 L1548.7 2669.2 L1551.6 2670.4 L1554.4 2671.5 L1557.3 2672.6 L1560.1 2673.6 L1563.0 2674.7 L1565.9 2675.8 L1568.7 2676.8 L1571.6 2677.8 L1574.5 2678.8 L1577.3 2679.8 L1580.2 2680.8 L1583.1 2681.7 L1586.0 2682.7 L1588.8 2683.6 L1591.7 2684.5 L1594.6 2685.4 L1597.5 2686.3 L1600.4 2687.2 L1603.2 2688.0 L1606.1 2688.9 L1609.0 2689.7 L1611.9 2690.5 L1614.8 2691.3 L1617.7 2692.1 L1620.6 2692.9 L1623.5 2693.7 L1626.3 2694.5 L1629.2 2695.2 L1632.1 2696.0 L1635.0 2696.7 L1637.9 2697.4 L1640.8 2698.2 L1643.7 2698.9 L1646.6 2699.6 L1649.5 2700.3 L1652.5 2701.0 L1655.4 2701.7 L1658.3 2702.3 L1661.2 2703.0 L1664.1 2703.7 L1667.0 2704.4 L1669.9 2705.0 L1672.8 2705.7 L1675.7 2706.3 L1678.7 2707.0 L1681.6 2707.6 L1684.5 2708.3 L1687.4 2708.9 L1690.3 2709.5 L1693.3 2710.2 L1696.2 2710.8 L1699.1 2711.5 L1702.0 2712.1 L1705.0 2712.7 L1707.9 2713.4 L1710.8 2714.0 L1713.7 2714.6 L1716.7 2715.3 L1719.6 2715.9 L1722.5 2716.5 L1725.5 2717.2 L1728.4 2717.8 L1731.3 2718.5 L1734.3 2719.1 L1737.2 2719.8 L1740.2 2720.4 L1743.1 2721.1 L1746.0 2721.8 L1749.0 2722.4 L1751.9 2723.1 L1754.9 2723.8 L1757.8 2724.5 L1760.7 2725.2 L1763.7 2725.8 L1766.6 2726.5 L1769.6 2727.2 L1772.5 2727.9 L1775.5 2728.6 L1778.4 2729.3 L1781.4 2730.0 L1784.3 2730.6 L1787.3 2731.3 L1790.2 2732.0 L1793.2 2732.7 L1796.1 2733.3 L1799.1 2734.0 L1802.0 2734.6 L1805.0 2735.3 L1808.0 2735.9 L1810.9 2736.6 L1813.9 2737.2 L1816.8 2737.8 L1819.8 2738.4 L1822.8 2739.0 L1825.7 2739.6 L1828.7 2740.2 L1831.6 2740.8 L1834.6 2741.3 L1837.6 2741.9 L1840.5 2742.4 L1843.5 2742.9 L1846.5 2743.4 L1849.4 2743.9 L1852.4 2744.4 L1855.4 2744.8 L1858.3 2745.3 L1861.3 2745.7 L1864.3 2746.1 L1867.2 2746.5 L1870.2 2746.9 L1873.2 2747.2 L1876.1 2747.5 L1879.1 2747.8 L1882.1 2748.1 L1885.0 2748.4 L1888.0 2748.6 L1891.0 2748.9"/>
<path d="M309.2 2783.6 L312.1 2783.5 L315.1 2783.3 L318.0 2783.0 L320.9 2782.7 L323.9 2782.4 L326.8 2782.0 L329.8 2781.6 L332.7 2781.2 L335.6 2780.7 L338.6 2780.1 L341.5 2779.6 L344.4 2779.0 L347.3 2778.4 L350.3 2777.7 L353.2 2777.0 L356.1 2776.3 L359.0 2775.5 L361.9 2774.8 L364.8 2773.9 L367.7 2773.1 L370.6 2772.2 L373.5 2771.3 L376.4 2770.4 L379.3 2769.5 L382.1 2768.5 L385.0 2767.5 L387.9 2766.5 L390.7 2765.5 L393.6 2764.4 L396.5 2763.4 L399.3 2762.3 L402.2 2761.2 L405.0 2760.1 L407.8 2758.9 L410.7 2757.8 L413.5 2756.6 L416.3 2755.4 L419.1 2754.2 L421.9 2753.0 L424.7 2751.8 L427.5 2750.6 L430.3 2749.4 L433.1 2748.1 L435.9 2746.9 L438.6 2745.6 L441.4 2744.4 L444.1 2743.1 L446.9 2741.9 L449.6 2740.6 L452.4 2739.3 L455.1 2738.1 L457.8 2736.8 L460.5 2735.5 L463.2 2734.2 L465.9 2732.9 L468.6 2731.6 L471.3 2730.3 L473.9 2729.0 L476.6 2727.7 L479.3 2726.4 L481.9 2725.1 L484.5 2723.7 L487.2 2722.4 L489.8 2721.0 L492.4 2719.6 L495.0 2718.2 L497.6 2716.8 L500.2 2715.4 L502.7 2714.0 L505.3 2712.5 L507.8 2711.1 L510.4 2709.6 L512.9 2708.1 L515.4 2706.6 L517.9 2705.0 L520.4 2703.5 L522.9 2701.9 L525.4 2700.3 L527.9 2698.6 L530.3 2697.0 L532.8 2695.3 L535.2 2693.6 L537.6 2691.9 L540.0 2690.1 L542.4 2688.4 L544.8 2686.6 L547.2 2684.7 L549.5 2682.9 L551.9 2681.0 L554.2 2679.0 L556.6 2677.1 L558.9 2675.1 L561.2 2673.1 L563.5 2671.1 L565.7 2669.1 L568.0 2667.0 L570.2 2665.0 L572.5 2662.9 L574.7 2660.8 L576.9 2658.7 L579.1 2656.6 L581.3 2654.5 L583.4 2652.3 L585.6 2650.2 L587.7 2648.0 L589.9 2645.9 L592.0 2643.7 L594.1 2641.5 L596.2 2639.3 L598.2 2637.1 L600.3 2634.9 L602.4 2632.7 L604.4 2630.5 L606.4 2628.2 L608.4 2626.0 L610.4 2623.7 L612.4 2621.5 L614.4 2619.2 L616.4 2616.9 L618.3 2614.6 L620.3 2612.3 L622.2 2610.0 L624.1 2607.7 L626.0 2605.3 L627.9 2603.0 L629.8 2600.7 L631.7 2598.3 L633.5 2595.9 L635.4 2593.6 L637.2 2591.2 L639.1 2588.8 L640.9 2586.4 L642.7 2584.0 L644.5 2581.6 L646.3 2579.2 L648.0 2576.8 L649.8 2574.4 L651.5 2572.0 L653.3 2569.5 L655.0 2567.1 L656.7 2564.6 L658.5 2562.2 L660.2 2559.7 L661.8 2557.2 L663.5 2554.7 L665.2 2552.3 L666.9 2549.8 L668.5 2547.3 L670.2 2544.8 L671.8 2542.3 L673.5 2539.8 L675.1 2537.3 L676.7 2534.7 L678.3 2532.2 L679.9 2529.7 L681.5 2527.1 L683.1 2524.6 L684.6 2522.0 L686.2 2519.5 L687.8 2516.9 L689.3 2514.4 L690.9 2511.8 L692.4 2509.2 L694.0 2506.7 L695.5 2504.1 L697.0 2501.5 L698.5 2498.9 L700.0 2496.3 L701.5 2493.8 L703.0 2491.2 L704.5 2488.6 L706.0 2486.0 L707.5 2483.4 L709.0 2480.7 L710.4 2478.1 L711.9 2475.5 L713.4 2472.9 L714.8 2470.3 L716.3 2467.7 L717.7 2465.0 L719.2 2462.4 L720.6 2459.8 L722.1 2457.1 L723.5 2454.5 L724.9 2451.9 L726.3 2449.2 L727.8 2446.6 L729.2 2443.9 L730.6 2441.3 L732.0 2438.6 L733.4 2436.0 L734.8 2433.3 L736.2 2430.7 L737.6 2428.0 L739.0 2425.3 L740.4 2422.7 L741.8 2420.0 L743.1 2417.4 L744.5 2414.7 L745.9 2412.0 L747.3 2409.3 L748.6 2406.7 L750.0 2404.0 L751.4 2401.3 L752.7 2398.7 L754.1 2396.0 L755.4 2393.3 L756.8 2390.6 L758.1 2387.9 L759.5 2385.3 L760.8 2382.6 L762.2 2379.9 L763.5 2377.2 L764.9 2374.5 L766.2 2371.8 L767.5 2369.1 L768.9 2366.4 L770.2 2363.8 L771.5 2361.1 L772.9 2358.4 L774.2 2355.7 L775.5 2353.0 L776.9 2350.3 L778.2 2347.6 L779.5 2344.9 L780.8 2342.2 L782.2 2339.5 L783.5 2336.8 L784.8 2334.2 L786.1 2331.5 L787.4 2328.8 L788.8 2326.1 L790.1 2323.4 L791.4 2320.7 L792.7 2318.0 L794.1 2315.3 L795.4 2312.6 L796.7 2309.9 L798.0 2307.2 L799.4 2304.5 L800.7 2301.8 L802.0 2299.2 L803.3 2296.5 L804.7 2293.8 L806.0 2291.1 L807.4 2288.4 L808.7 2285.7 L810.0 2283.0 L811.4 2280.4 L812.7 2277.7 L814.1 2275.0 L815.4 2272.3 L816.8 2269.6 L818.2 2267.0 L819.5 2264.3 L820.9 2261.6 L822.3 2258.9 L823.6 2256.3 L825.0 2253.6 L826.4 2250.9 L827.8 2248.3 L829.2 2245.6 L830.6 2242.9 L832.0 2240.3 L833.4 2237.6 L834.8 2235.0 L836.2 2232.3 L837.6 2229.6 L839.1 2227.0 L840.5 2224.3 L841.9 2221.7 L843.4 2219.1 L844.8 2216.4 L846.3 2213.8 L847.8 2211.1 L849.2 2208.5 L850.7 2205.9 L852.2 2203.2 L853.7 2200.6 L855.2 2198.0 L856.7 2195.4 L858.2 2192.7 L859.7 2190.1 L861.3 2187.5 L862.8 2184.9 L864.4 2182.3 L865.9 2179.7 L867.5 2177.1 L869.1 2174.5 L870.6 2171.9 L872.2 2169.3 L873.8 2166.7 L875.4 2164.1 L877.1 2161.6 L878.7 2159.0 L880.3 2156.4 L882.0 2153.8 L883.6 2151.3 L885.3 2148.7 L887.0 2146.1 L888.7 2143.6 L890.4 2141.1 L892.1 2138.5 L893.9 2136.0 L895.6 2133.5 L897.4 2131.1 L899.2 2128.6 L901.0 2126.2 L902.9 2123.8 L904.7 2121.4 L906.6 2119.1 L908.6 2116.8 L910.5 2114.5 L912.5 2112.3 L914.5 2110.1 L916.5 2107.9 L918.6 2105.8 L920.7 2103.7 L922.8 2101.7 L925.0 2099.7 L927.2 2097.8 L929.5 2096.0 L931.8 2094.1 L934.1 2092.4 L936.5 2090.7 L938.9 2089.0 L941.4 2087.5 L943.9 2086.0 L946.4 2084.5 L949.0 2083.2 L951.7 2081.9 L954.4 2080.6 L957.1 2079.5 L959.9 2078.5 L962.7 2077.5 L965.6 2076.7 L968.4 2076.0 L971.3 2075.5 L974.2 2075.1 L977.1 2074.9 L979.9 2074.8 L982.8 2075.0 L985.6 2075.3 L988.4 2075.8 L991.2 2076.5 L993.9 2077.4 L996.7 2078.4 L999.4 2079.6 L1002.1 2080.9 L1004.8 2082.3 L1007.4 2083.8 L1010.0 2085.4 L1012.6 2087.1 L1015.2 2088.9 L1017.8 2090.7 L1020.3 2092.5 L1022.9 2094.4 L1025.4 2096.3 L1027.9 2098.2 L1030.4 2100.1 L1032.8 2102.0 L1035.3 2103.9 L1037.7 2105.8 L1040.2 2107.7 L1042.6 2109.6 L1045.0 2111.5 L1047.4 2113.4 L1049.8 2115.2 L1052.2 2117.1 L1054.5 2119.0 L1056.9 2120.8 L1059.2 2122.6 L1061.5 2124.4 L1063.9 2126.2 L1066.1 2128.1 L1068.4 2129.9 L1070.7 2131.7 L1072.9 2133.6 L1075.2 2135.4 L1077.4 2137.3 L1079.5 2139.2 L1081.7 2141.1 L1083.8 2143.1 L1085.9 2145.1 L1088.0 2147.1 L1090.0 2149.2 L1092.0 2151.3 L1094.0 2153.5 L1095.9 2155.7 L1097.8 2158.0 L1099.7 2160.3 L1101.5 2162.7 L1103.3 2165.1 L1105.1 2167.6 L1106.8 2170.1 L1108.6 2172.6 L1110.3 2175.2 L1112.0 2177.8 L1113.7 2180.3 L1115.3 2182.9 L1117.0 2185.4 L1118.7 2188.0 L1120.3 2190.5 L1122.0 2193.0 L1123.7 2195.5 L1125.3 2198.0 L1127.0 2200.5 L1128.6 2203.0 L1130.3 2205.5 L1132.0 2208.0 L1133.6 2210.5 L1135.3 2212.9 L1137.0 2215.4 L1138.6 2217.8 L1140.3 2220.3 L1142.0 2222.7 L1143.7 2225.1 L1145.3 2227.6 L1147.0 2230.0 L1148.7 2232.4 L1150.4 2234.8 L1152.2 2237.3 L1153.9 2239.7 L1155.6 2242.1 L1157.4 2244.5 L1159.1 2246.9 L1160.9 2249.3 L1162.7 2251.7 L1164.4 2254.1 L1166.2 2256.5 L1168.1 2259.0 L1169.9 2261.4 L1171.7 2263.8 L1173.6 2266.2 L1175.4 2268.6 L1177.3 2271.0 L1179.2 2273.4 L1181.1 2275.9 L1183.0 2278.3 L1184.9 2280.7 L1186.8 2283.1 L1188.7 2285.5 L1190.5 2288.0 L1192.4 2290.4 L1194.3 2292.8 L1196.2 2295.2 L1198.0 2297.6 L1199.9 2300.1 L1201.7 2302.5 L1203.5 2304.9 L1205.3 2307.3 L1207.1 2309.7 L1208.8 2312.2 L1210.6 2314.6 L1212.3 2317.0 L1213.9 2319.4 L1215.6 2321.8 L1217.2 2324.2 L1218.9 2326.6 L1220.5 2329.1 L1222.1 2331.5 L1223.7 2333.9 L1225.3 2336.3 L1226.9 2338.7 L1228.6 2341.1 L1230.2 2343.5 L1231.9 2345.9 L1233.6 2348.3 L1235.3 2350.7 L1237.0 2353.1 L1238.8 2355.5 L1240.5 2357.9 L1242.3 2360.2 L1244.1 2362.6 L1245.9 2365.0 L1247.7 2367.4 L1249.6 2369.8 L1251.4 2372.1 L1253.3 2374.5 L1255.2 2376.9 L1257.1 2379.2 L1259.0 2381.6 L1260.9 2383.9 L1262.8 2386.3 L1264.7 2388.6 L1266.7 2391.0 L1268.7 2393.3 L1270.6 2395.7 L1272.6 2398.0 L1274.6 2400.3 L1276.6 2402.6 L1278.6 2405.0 L1280.6 2407.3 L1282.6 2409.6 L1284.6 2411.9 L1286.6 2414.2 L1288.7 2416.5 L1290.7 2418.8 L1292.7 2421.1 L1294.8 2423.3 L1296.8 2425.6 L1298.8 2427.9 L1300.9 2430.1 L1302.9 2432.4 L1305.0 2434.7 L1307.0 2436.9 L1309.1 2439.1 L1311.1 2441.4 L1313.1 2443.6 L1315.2 2445.8 L1317.2 2448.1 L1319.2 2450.3 L1321.3 2452.5 L1323.3 2454.7 L1325.3 2456.9 L1327.3 2459.0 L1329.4 2461.2 L1331.4 2463.4 L1333.4 2465.6 L1335.5 2467.7 L1337.5 2469.9 L1339.5 2472.0 L1341.6 2474.2 L1343.6 2476.3 L1345.7 2478.5 L1347.7 2480.6 L1349.8 2482.7 L1351.8 2484.8 L1353.9 2486.9 L1356.0 2489.0 L1358.0 2491.1 L1360.1 2493.2 L1362.2 2495.3 L1364.3 2497.4 L1366.4 2499.5 L1368.5 2501.5 L1370.7 2503.6 L1372.8 2505.7 L1374.9 2507.7 L1377.1 2509.8 L1379.2 2511.8 L1381.4 2513.8 L1383.6 2515.9 L1385.8 2517.9 L1388.0 2519.9 L1390.2 2521.9 L1392.4 2523.9 L1394.7 2525.9 L1396.9 2527.9 L1399.2 2529.9 L1401.5 2531.9 L1403.8 2533.9 L1406.1 2535.9 L1408.4 2537.8 L1410.7 2539.8 L1413.1 2541.7 L1415.4 2543.7 L1417.8 2545.6 L1420.2 2547.5 L1422.6 2549.4 L1425.0 2551.3 L1427.4 2553.2 L1429.9 2555.1 L1432.3 2556.9 L1434.8 2558.7 L1437.2 2560.6 L1439.7 2562.4 L1442.2 2564.2 L1444.7 2565.9 L1447.2 2567.7 L1449.8 2569.4 L1452.3 2571.1 L1454.8 2572.8 L1457.4 2574.5 L1459.9 2576.1 L1462.5 2577.8 L1465.1 2579.4 L1467.7 2580.9 L1470.3 2582.5 L1472.9 2584.0 L1475.5 2585.5 L1478.1 2587.0 L1480.8 2588.4 L1483.4 2589.9 L1486.1 2591.2 L1488.7 2592.6 L1491.4 2593.9 L1494.0 2595.3 L1496.7 2596.6 L1499.4 2597.8 L1502.1 2599.1 L1504.8 2600.3 L1507.5 2601.5 L1510.2 2602.7 L1512.9 2603.9 L1515.6 2605.1 L1518.4 2606.2 L1521.1 2607.3 L1523.8 2608.5 L1526.6 2609.6 L1529.3 2610.7 L1532.1 2611.8 L1534.8 2612.9 L1537.6 2614.0 L1540.3 2615.0 L1543.1 2616.1 L1545.9 2617.2 L1548.6 2618.3 L1551.4 2619.3 L1554.2 2620.4 L1557.0 2621.4 L1559.8 2622.5 L1562.6 2623.5 L1565.3 2624.5 L1568.1 2625.6 L1570.9 2626.6 L1573.8 2627.6 L1576.6 2628.6 L1579.4 2629.6 L1582.2 2630.6 L1585.0 2631.6 L1587.8 2632.6 L1590.6 2633.6 L1593.5 2634.6 L1596.3 2635.6 L1599.1 2636.6 L1602.0 2637.6 L1604.8 2638.6 L1607.6 2639.5 L1610.5 2640.5 L1613.3 2641.4 L1616.2 2642.4 L1619.0 2643.4 L1621.9 2644.3 L1624.7 2645.3 L1627.6 2646.2 L1630.4 2647.1 L1633.3 2648.1 L1636.2 2649.0 L1639.0 2649.9 L1641.9 2650.8 L1644.8 2651.8 L1647.6 2652.7 L1650.5 2653.6 L1653.4 2654.5 L1656.3 2655.4 L1659.1 2656.3 L1662.0 2657.2 L1664.9 2658.1 L1667.8 2659.0 L1670.7 2659.9 L1673.6 2660.8 L1676.4 2661.7 L1679.3 2662.5 L1682.2 2663.4 L1685.1 2664.3 L1688.0 2665.1 L1690.9 2666.0 L1693.8 2666.9 L1696.7 2667.7 L1699.6 2668.6 L1702.5 2669.5 L1705.4 2670.3 L1708.3 2671.2 L1711.2 2672.0 L1714.1 2672.8 L1717.0 2673.7 L1719.9 2674.5 L1722.8 2675.4 L1725.7 2676.2 L1728.6 2677.0 L1731.5 2677.9 L1734.4 2678.7 L1737.4 2679.5 L1740.3 2680.3 L1743.2 2681.1 L1746.1 2682.0 L1749.0 2682.8 L1751.9 2683.6 L1754.8 2684.4 L1757.7 2685.2 L1760.6 2686.0 L1763.5 2686.8 L1766.4 2687.6 L1769.4 2688.4 L1772.3 2689.2 L1775.2 2690.0 L1778.1 2690.8 L1781.0 2691.6 L1783.9 2692.4 L1786.8 2693.2 L1789.7 2694.0 L1792.6 2694.7 L1795.5 2695.5 L1798.4 2696.3 L1801.4 2697.1 L1804.3 2697.9 L1807.2 2698.7 L1810.1 2699.4 L1813.0 2700.2 L1815.9 2701.0 L1818.8 2701.7 L1821.7 2702.5 L1824.6 2703.3 L1827.5 2704.1 L1830.4 2704.8 L1833.3 2705.6 L1836.2 2706.4 L1839.0 2707.1 L1841.9 2707.9 L1844.8 2708.6 L1847.7 2709.4 L1850.6 2710.2 L1853.5 2710.9 L1856.4 2711.7 L1859.3 2712.4 L1862.1 2713.2 L1865.0 2713.9 L1867.9 2714.7 L1870.8 2715.5 L1873.7 2716.2 L1876.5 2717.0 L1879.4 2717.7 L1882.3 2718.5 L1885.1 2719.2 L1888.0 2720.0 L1890.9 2720.7"/>
<path d="M309.0 2776.9 L311.7 2776.4 L314.7 2775.9 L317.7 2775.4 L320.7 2774.8 L323.6 2774.2 L326.6 2773.7 L329.6 2773.1 L332.5 2772.4 L335.5 2771.8 L338.4 2771.1 L341.4 2770.5 L344.3 2769.8 L347.3 2769.1 L350.2 2768.3 L353.1 2767.6 L356.0 2766.8 L358.9 2766.1 L361.9 2765.3 L364.8 2764.5 L367.7 2763.6 L370.5 2762.8 L373.4 2761.9 L376.3 2761.0 L379.2 2760.2 L382.1 2759.2 L384.9 2758.3 L387.8 2757.4 L390.6 2756.4 L393.5 2755.4 L396.3 2754.4 L399.1 2753.4 L402.0 2752.4 L404.8 2751.3 L407.6 2750.3 L410.4 2749.2 L413.2 2748.1 L416.0 2747.0 L418.8 2745.9 L421.6 2744.7 L424.3 2743.6 L427.1 2742.4 L429.9 2741.2 L432.6 2740.0 L435.4 2738.8 L438.1 2737.5 L440.8 2736.3 L443.5 2735.0 L446.3 2733.7 L449.0 2732.4 L451.7 2731.1 L454.4 2729.8 L457.0 2728.5 L459.7 2727.1 L462.4 2725.7 L465.1 2724.3 L467.7 2722.9 L470.4 2721.5 L473.0 2720.1 L475.6 2718.6 L478.2 2717.2 L480.9 2715.7 L483.5 2714.2 L486.1 2712.7 L488.7 2711.2 L491.2 2709.6 L493.8 2708.1 L496.4 2706.5 L498.9 2704.9 L501.5 2703.4 L504.0 2701.7 L506.5 2700.1 L509.0 2698.5 L511.6 2696.8 L514.1 2695.2 L516.5 2693.5 L519.0 2691.8 L521.5 2690.1 L524.0 2688.4 L526.4 2686.7 L528.9 2684.9 L531.3 2683.2 L533.7 2681.4 L536.1 2679.6 L538.5 2677.8 L540.9 2676.0 L543.3 2674.2 L545.7 2672.4 L548.1 2670.5 L550.4 2668.7 L552.8 2666.8 L555.1 2664.9 L557.4 2663.0 L559.7 2661.1 L562.1 2659.2 L564.3 2657.2 L566.6 2655.3 L568.9 2653.3 L571.2 2651.3 L573.4 2649.3 L575.7 2647.3 L577.9 2645.3 L580.1 2643.3 L582.3 2641.3 L584.5 2639.2 L586.7 2637.2 L588.9 2635.1 L591.0 2633.0 L593.2 2630.9 L595.3 2628.8 L597.5 2626.7 L599.6 2624.6 L601.7 2622.4 L603.8 2620.3 L605.9 2618.1 L607.9 2615.9 L610.0 2613.8 L612.0 2611.6 L614.1 2609.4 L616.1 2607.1 L618.1 2604.9 L620.1 2602.7 L622.1 2600.4 L624.1 2598.2 L626.1 2595.9 L628.0 2593.6 L630.0 2591.3 L631.9 2589.0 L633.8 2586.7 L635.8 2584.4 L637.7 2582.1 L639.6 2579.8 L641.4 2577.4 L643.3 2575.1 L645.2 2572.7 L647.0 2570.3 L648.9 2567.9 L650.7 2565.6 L652.5 2563.2 L654.3 2560.8 L656.1 2558.3 L657.9 2555.9 L659.7 2553.5 L661.5 2551.1 L663.2 2548.6 L665.0 2546.2 L666.7 2543.7 L668.4 2541.2 L670.1 2538.8 L671.9 2536.3 L673.5 2533.8 L675.2 2531.3 L676.9 2528.8 L678.6 2526.3 L680.2 2523.8 L681.9 2521.3 L683.5 2518.8 L685.2 2516.2 L686.8 2513.7 L688.4 2511.2 L690.0 2508.6 L691.6 2506.1 L693.2 2503.5 L694.8 2500.9 L696.3 2498.4 L697.9 2495.8 L699.5 2493.2 L701.0 2490.6 L702.5 2488.1 L704.1 2485.5 L705.6 2482.9 L707.1 2480.3 L708.6 2477.7 L710.1 2475.1 L711.6 2472.4 L713.0 2469.8 L714.5 2467.2 L716.0 2464.6 L717.4 2462.0 L718.9 2459.3 L720.3 2456.7 L721.7 2454.1 L723.2 2451.4 L724.6 2448.8 L726.0 2446.2 L727.4 2443.5 L728.8 2440.9 L730.2 2438.2 L731.5 2435.6 L732.9 2432.9 L734.3 2430.2 L735.6 2427.6 L737.0 2424.9 L738.3 2422.3 L739.7 2419.6 L741.0 2416.9 L742.3 2414.3 L743.6 2411.6 L745.0 2408.9 L746.3 2406.3 L747.6 2403.6 L748.9 2400.9 L750.2 2398.3 L751.5 2395.6 L752.8 2392.9 L754.1 2390.2 L755.4 2387.6 L756.7 2384.9 L758.0 2382.2 L759.4 2379.5 L760.7 2376.8 L762.0 2374.2 L763.3 2371.5 L764.6 2368.8 L765.9 2366.1 L767.2 2363.4 L768.6 2360.7 L769.9 2358.0 L771.2 2355.4 L772.6 2352.7 L773.9 2350.0 L775.3 2347.3 L776.6 2344.6 L778.0 2341.9 L779.4 2339.2 L780.8 2336.5 L782.1 2333.8 L783.5 2331.2 L784.9 2328.5 L786.3 2325.8 L787.7 2323.1 L789.1 2320.4 L790.5 2317.7 L791.9 2315.0 L793.3 2312.3 L794.7 2309.6 L796.2 2306.9 L797.6 2304.2 L799.0 2301.6 L800.4 2298.9 L801.8 2296.2 L803.2 2293.5 L804.7 2290.8 L806.1 2288.1 L807.5 2285.4 L808.9 2282.7 L810.3 2280.1 L811.7 2277.4 L813.2 2274.7 L814.6 2272.0 L816.0 2269.3 L817.4 2266.7 L818.8 2264.0 L820.2 2261.3 L821.6 2258.6 L823.0 2255.9 L824.4 2253.3 L825.8 2250.6 L827.2 2247.9 L828.5 2245.2 L829.9 2242.6 L831.3 2239.9 L832.7 2237.2 L834.0 2234.6 L835.4 2231.9 L836.7 2229.2 L838.1 2226.6 L839.4 2223.9 L840.7 2221.3 L842.0 2218.6 L843.4 2215.9 L844.7 2213.3 L846.0 2210.6 L847.3 2208.0 L848.6 2205.4 L850.0 2202.7 L851.3 2200.1 L852.6 2197.5 L854.0 2194.9 L855.3 2192.2 L856.7 2189.6 L858.1 2187.0 L859.5 2184.4 L860.9 2181.9 L862.4 2179.3 L863.9 2176.7 L865.4 2174.2 L866.9 2171.6 L868.4 2169.1 L870.0 2166.5 L871.6 2164.0 L873.2 2161.5 L874.9 2159.0 L876.6 2156.5 L878.3 2154.1 L880.1 2151.6 L881.9 2149.2 L883.8 2146.7 L885.6 2144.3 L887.6 2141.9 L889.5 2139.5 L891.4 2137.1 L893.4 2134.7 L895.3 2132.3 L897.2 2129.8 L899.1 2127.4 L901.0 2125.0 L902.8 2122.5 L904.6 2120.0 L906.3 2117.5 L908.0 2115.0 L909.7 2112.5 L911.3 2110.0 L913.0 2107.5 L914.6 2105.0 L916.3 2102.5 L917.9 2100.1 L919.6 2097.7 L921.3 2095.3 L923.1 2093.0 L924.9 2090.7 L926.7 2088.5 L928.7 2086.3 L930.6 2084.2 L932.7 2082.2 L934.8 2080.2 L937.1 2078.4 L939.4 2076.6 L941.9 2074.9 L944.4 2073.3 L947.1 2071.8 L949.9 2070.4 L952.7 2069.2 L955.6 2068.0 L958.5 2067.0 L961.5 2066.1 L964.5 2065.4 L967.5 2064.8 L970.5 2064.4 L973.5 2064.1 L976.5 2063.9 L979.5 2063.9 L982.4 2064.0 L985.4 2064.2 L988.4 2064.6 L991.3 2065.1 L994.2 2065.6 L997.1 2066.3 L1000.0 2067.2 L1002.9 2068.1 L1005.7 2069.1 L1008.5 2070.1 L1011.3 2071.3 L1014.1 2072.6 L1016.9 2073.9 L1019.6 2075.3 L1022.3 2076.8 L1024.9 2078.4 L1027.5 2080.0 L1030.1 2081.6 L1032.7 2083.3 L1035.2 2085.1 L1037.6 2086.9 L1040.1 2088.7 L1042.5 2090.6 L1044.8 2092.5 L1047.1 2094.4 L1049.4 2096.4 L1051.6 2098.4 L1053.8 2100.4 L1056.0 2102.4 L1058.1 2104.5 L1060.2 2106.6 L1062.3 2108.7 L1064.3 2110.8 L1066.3 2113.0 L1068.3 2115.1 L1070.3 2117.3 L1072.2 2119.6 L1074.1 2121.8 L1076.0 2124.0 L1077.9 2126.3 L1079.7 2128.6 L1081.6 2130.9 L1083.4 2133.2 L1085.2 2135.5 L1087.0 2137.9 L1088.8 2140.2 L1090.6 2142.6 L1092.4 2145.0 L1094.2 2147.3 L1095.9 2149.7 L1097.7 2152.1 L1099.5 2154.5 L1101.2 2157.0 L1103.0 2159.4 L1104.8 2161.8 L1106.6 2164.2 L1108.4 2166.6 L1110.2 2169.1 L1112.0 2171.5 L1113.8 2173.9 L1115.6 2176.3 L1117.5 2178.8 L1119.3 2181.2 L1121.2 2183.6 L1123.0 2186.0 L1124.9 2188.5 L1126.8 2190.9 L1128.7 2193.3 L1130.6 2195.7 L1132.5 2198.1 L1134.4 2200.6 L1136.3 2203.0 L1138.2 2205.4 L1140.1 2207.8 L1142.0 2210.3 L1143.9 2212.7 L1145.8 2215.1 L1147.6 2217.5 L1149.5 2220.0 L1151.4 2222.4 L1153.2 2224.8 L1155.1 2227.2 L1156.9 2229.7 L1158.7 2232.1 L1160.5 2234.5 L1162.3 2237.0 L1164.1 2239.4 L1165.9 2241.9 L1167.6 2244.3 L1169.3 2246.8 L1171.0 2249.2 L1172.7 2251.7 L1174.4 2254.1 L1176.0 2256.6 L1177.7 2259.0 L1179.3 2261.5 L1180.9 2263.9 L1182.5 2266.4 L1184.0 2268.9 L1185.6 2271.3 L1187.1 2273.8 L1188.7 2276.3 L1190.2 2278.8 L1191.7 2281.2 L1193.2 2283.7 L1194.8 2286.2 L1196.3 2288.7 L1197.8 2291.1 L1199.3 2293.6 L1200.8 2296.1 L1202.3 2298.6 L1203.9 2301.0 L1205.4 2303.5 L1206.9 2306.0 L1208.5 2308.5 L1210.1 2310.9 L1211.6 2313.4 L1213.2 2315.9 L1214.8 2318.4 L1216.4 2320.8 L1218.0 2323.3 L1219.7 2325.8 L1221.3 2328.2 L1223.0 2330.7 L1224.6 2333.1 L1226.3 2335.6 L1228.0 2338.1 L1229.8 2340.5 L1231.5 2343.0 L1233.3 2345.4 L1235.0 2347.9 L1236.8 2350.3 L1238.6 2352.8 L1240.4 2355.2 L1242.2 2357.6 L1244.1 2360.1 L1245.9 2362.5 L1247.8 2364.9 L1249.7 2367.3 L1251.5 2369.7 L1253.4 2372.2 L1255.4 2374.6 L1257.3 2377.0 L1259.2 2379.4 L1261.1 2381.8 L1263.1 2384.2 L1265.0 2386.5 L1267.0 2388.9 L1269.0 2391.3 L1270.9 2393.7 L1272.9 2396.0 L1274.9 2398.4 L1276.9 2400.7 L1278.9 2403.1 L1280.9 2405.4 L1282.9 2407.7 L1284.9 2410.1 L1287.0 2412.4 L1289.0 2414.7 L1291.0 2417.0 L1293.0 2419.3 L1295.1 2421.6 L1297.1 2423.9 L1299.1 2426.1 L1301.2 2428.4 L1303.2 2430.7 L1305.2 2432.9 L1307.3 2435.2 L1309.3 2437.4 L1311.3 2439.6 L1313.4 2441.9 L1315.4 2444.1 L1317.4 2446.3 L1319.4 2448.5 L1321.5 2450.7 L1323.5 2452.8 L1325.5 2455.0 L1327.5 2457.2 L1329.5 2459.3 L1331.6 2461.5 L1333.6 2463.6 L1335.6 2465.8 L1337.7 2467.9 L1339.7 2470.0 L1341.7 2472.1 L1343.8 2474.2 L1345.8 2476.3 L1347.9 2478.4 L1349.9 2480.5 L1352.0 2482.6 L1354.0 2484.7 L1356.1 2486.8 L1358.2 2488.8 L1360.3 2490.9 L1362.4 2492.9 L1364.5 2495.0 L1366.6 2497.0 L1368.7 2499.1 L1370.8 2501.1 L1372.9 2503.2 L1375.1 2505.2 L1377.2 2507.2 L1379.4 2509.2 L1381.6 2511.3 L1383.7 2513.3 L1385.9 2515.3 L1388.1 2517.3 L1390.3 2519.3 L1392.6 2521.3 L1394.8 2523.3 L1397.1 2525.3 L1399.3 2527.3 L1401.6 2529.3 L1403.9 2531.2 L1406.2 2533.2 L1408.5 2535.2 L1410.9 2537.2 L1413.2 2539.1 L1415.6 2541.1 L1418.0 2543.0 L1420.4 2545.0 L1422.8 2546.9 L1425.2 2548.8 L1427.6 2550.7 L1430.0 2552.6 L1432.5 2554.5 L1434.9 2556.4 L1437.4 2558.2 L1439.9 2560.0 L1442.4 2561.9 L1444.9 2563.7 L1447.4 2565.4 L1449.9 2567.2 L1452.4 2568.9 L1455.0 2570.7 L1457.5 2572.4 L1460.1 2574.0 L1462.7 2575.7 L1465.2 2577.3 L1467.8 2578.9 L1470.4 2580.5 L1473.0 2582.0 L1475.6 2583.5 L1478.3 2585.0 L1480.9 2586.5 L1483.5 2587.9 L1486.2 2589.3 L1488.8 2590.7 L1491.5 2592.0 L1494.2 2593.4 L1496.8 2594.7 L1499.5 2595.9 L1502.2 2597.2 L1504.9 2598.4 L1507.6 2599.6 L1510.3 2600.8 L1513.0 2602.0 L1515.7 2603.1 L1518.4 2604.3 L1521.2 2605.4 L1523.9 2606.5 L1526.6 2607.7 L1529.4 2608.7 L1532.1 2609.8 L1534.9 2610.9 L1537.6 2612.0 L1540.4 2613.1 L1543.2 2614.1 L1545.9 2615.2 L1548.7 2616.3 L1551.5 2617.3 L1554.3 2618.4 L1557.0 2619.4 L1559.8 2620.5 L1562.6 2621.5 L1565.4 2622.5 L1568.2 2623.6 L1571.0 2624.6 L1573.8 2625.6 L1576.6 2626.6 L1579.4 2627.6 L1582.2 2628.6 L1585.0 2629.6 L1587.9 2630.6 L1590.7 2631.6 L1593.5 2632.6 L1596.3 2633.6 L1599.2 2634.6 L1602.0 2635.6 L1604.8 2636.6 L1607.7 2637.5 L1610.5 2638.5 L1613.4 2639.5 L1616.2 2640.4 L1619.1 2641.4 L1621.9 2642.3 L1624.8 2643.3 L1627.6 2644.2 L1630.5 2645.2 L1633.3 2646.1 L1636.2 2647.0 L1639.1 2648.0 L1641.9 2648.9 L1644.8 2649.8 L1647.7 2650.7 L1650.5 2651.7 L1653.4 2652.6 L1656.3 2653.5 L1659.2 2654.4 L1662.0 2655.3 L1664.9 2656.2 L1667.8 2657.1 L1670.7 2658.0 L1673.6 2658.9 L1676.5 2659.8 L1679.4 2660.7 L1682.3 2661.5 L1685.1 2662.4 L1688.0 2663.3 L1690.9 2664.2 L1693.8 2665.1 L1696.7 2665.9 L1699.6 2666.8 L1702.5 2667.7 L1705.4 2668.5 L1708.3 2669.4 L1711.2 2670.2 L1714.1 2671.1 L1717.0 2671.9 L1719.9 2672.8 L1722.9 2673.6 L1725.8 2674.5 L1728.7 2675.3 L1731.6 2676.1 L1734.5 2677.0 L1737.4 2677.8 L1740.3 2678.6 L1743.2 2679.5 L1746.1 2680.3 L1749.0 2681.1 L1751.9 2681.9 L1754.8 2682.7 L1757.8 2683.6 L1760.7 2684.4 L1763.6 2685.2 L1766.5 2686.0 L1769.4 2686.8 L1772.3 2687.6 L1775.2 2688.4 L1778.1 2689.2 L1781.0 2690.0 L1783.9 2690.8 L1786.8 2691.6 L1789.8 2692.4 L1792.7 2693.2 L1795.6 2694.0 L1798.5 2694.8 L1801.4 2695.6 L1804.3 2696.4 L1807.2 2697.1 L1810.1 2697.9 L1813.0 2698.7 L1815.9 2699.5 L1818.8 2700.3 L1821.7 2701.0 L1824.6 2701.8 L1827.5 2702.6 L1830.4 2703.4 L1833.3 2704.1 L1836.2 2704.9 L1839.1 2705.7 L1842.0 2706.4 L1844.8 2707.2 L1847.7 2708.0 L1850.6 2708.7 L1853.5 2709.5 L1856.4 2710.2 L1859.3 2711.0 L1862.2 2711.8 L1865.0 2712.5 L1867.9 2713.3 L1870.8 2714.0 L1873.7 2714.8 L1876.5 2715.5 L1879.4 2716.3 L1882.3 2717.1 L1885.1 2717.8 L1888.0 2718.6 L1890.8 2719.3"/>
<path d="M309.0 2797.1 L311.8 2796.8 L314.8 2796.4 L317.8 2796.1 L320.8 2795.7 L323.8 2795.4 L326.8 2795.0 L329.9 2794.6 L332.9 2794.2 L335.9 2793.8 L338.9 2793.4 L341.9 2793.0 L344.8 2792.6 L347.8 2792.1 L350.8 2791.7 L353.8 2791.2 L356.8 2790.7 L359.8 2790.3 L362.8 2789.8 L365.8 2789.3 L368.7 2788.7 L371.7 2788.2 L374.7 2787.7 L377.6 2787.1 L380.6 2786.6 L383.6 2786.0 L386.5 2785.4 L389.5 2784.8 L392.4 2784.2 L395.4 2783.5 L398.3 2782.9 L401.2 2782.2 L404.2 2781.5 L407.1 2780.8 L410.0 2780.1 L412.9 2779.4 L415.8 2778.7 L418.7 2777.9 L421.6 2777.1 L424.5 2776.3 L427.4 2775.5 L430.3 2774.7 L433.2 2773.9 L436.0 2773.0 L438.9 2772.1 L441.8 2771.3 L444.6 2770.3 L447.4 2769.4 L450.3 2768.5 L453.1 2767.5 L455.9 2766.5 L458.7 2765.5 L461.5 2764.5 L464.3 2763.4 L467.1 2762.3 L469.9 2761.3 L472.6 2760.1 L475.4 2759.0 L478.2 2757.9 L480.9 2756.7 L483.6 2755.5 L486.3 2754.3 L489.1 2753.0 L491.8 2751.8 L494.5 2750.5 L497.1 2749.2 L499.8 2747.8 L502.5 2746.5 L505.1 2745.1 L507.8 2743.7 L510.4 2742.3 L513.0 2740.8 L515.6 2739.3 L518.2 2737.8 L520.8 2736.3 L523.4 2734.8 L526.0 2733.2 L528.5 2731.6 L531.1 2730.0 L533.6 2728.4 L536.1 2726.8 L538.6 2725.1 L541.1 2723.4 L543.6 2721.7 L546.0 2720.0 L548.5 2718.2 L550.9 2716.5 L553.4 2714.7 L555.8 2712.9 L558.2 2711.0 L560.5 2709.2 L562.9 2707.3 L565.3 2705.5 L567.6 2703.6 L569.9 2701.7 L572.3 2699.7 L574.6 2697.8 L576.8 2695.8 L579.1 2693.8 L581.4 2691.8 L583.6 2689.8 L585.8 2687.8 L588.0 2685.7 L590.2 2683.7 L592.4 2681.6 L594.5 2679.5 L596.7 2677.4 L598.8 2675.3 L600.9 2673.2 L603.0 2671.0 L605.1 2668.8 L607.2 2666.7 L609.2 2664.5 L611.2 2662.3 L613.2 2660.0 L615.3 2657.8 L617.2 2655.6 L619.2 2653.3 L621.2 2651.0 L623.2 2648.8 L625.1 2646.5 L627.1 2644.2 L629.0 2641.8 L630.9 2639.5 L632.8 2637.2 L634.8 2634.8 L636.7 2632.5 L638.6 2630.1 L640.5 2627.7 L642.4 2625.3 L644.3 2622.9 L646.2 2620.5 L648.1 2618.1 L650.0 2615.6 L651.9 2613.2 L653.7 2610.7 L655.6 2608.3 L657.5 2605.8 L659.3 2603.3 L661.2 2600.8 L663.0 2598.3 L664.7 2595.8 L666.5 2593.3 L668.2 2590.8 L669.8 2588.3 L671.5 2585.7 L673.0 2583.2 L674.6 2580.6 L676.1 2578.1 L677.5 2575.5 L679.0 2572.9 L680.4 2570.3 L681.8 2567.8 L683.1 2565.2 L684.4 2562.6 L685.8 2560.0 L687.0 2557.4 L688.3 2554.7 L689.6 2552.1 L690.8 2549.5 L692.1 2546.9 L693.3 2544.2 L694.5 2541.6 L695.8 2539.0 L697.0 2536.3 L698.2 2533.7 L699.4 2531.0 L700.7 2528.4 L701.9 2525.7 L703.2 2523.0 L704.4 2520.4 L705.7 2517.7 L707.0 2515.0 L708.2 2512.4 L709.5 2509.7 L710.8 2507.0 L712.1 2504.3 L713.4 2501.6 L714.7 2498.9 L716.0 2496.2 L717.3 2493.5 L718.6 2490.8 L720.0 2488.1 L721.3 2485.4 L722.6 2482.7 L723.9 2480.0 L725.2 2477.3 L726.6 2474.6 L727.9 2471.9 L729.2 2469.2 L730.5 2466.4 L731.8 2463.7 L733.2 2461.0 L734.5 2458.2 L735.8 2455.5 L737.1 2452.8 L738.4 2450.0 L739.7 2447.3 L741.0 2444.5 L742.3 2441.8 L743.6 2439.0 L744.9 2436.3 L746.2 2433.5 L747.5 2430.8 L748.7 2428.0 L750.0 2425.3 L751.2 2422.5 L752.5 2419.7 L753.7 2417.0 L755.0 2414.2 L756.2 2411.4 L757.4 2408.6 L758.6 2405.9 L759.8 2403.1 L761.0 2400.3 L762.1 2397.5 L763.3 2394.7 L764.5 2391.9 L765.6 2389.1 L766.7 2386.4 L767.9 2383.6 L769.0 2380.8 L770.1 2378.0 L771.2 2375.2 L772.3 2372.4 L773.4 2369.6 L774.5 2366.8 L775.6 2364.0 L776.7 2361.2 L777.7 2358.4 L778.8 2355.5 L779.8 2352.7 L780.9 2349.9 L782.0 2347.1 L783.0 2344.3 L784.1 2341.5 L785.1 2338.7 L786.1 2335.9 L787.2 2333.1 L788.2 2330.2 L789.2 2327.4 L790.3 2324.6 L791.3 2321.8 L792.3 2319.0 L793.4 2316.2 L794.4 2313.3 L795.4 2310.5 L796.5 2307.7 L797.5 2304.9 L798.5 2302.1 L799.6 2299.2 L800.6 2296.4 L801.6 2293.6 L802.7 2290.8 L803.7 2288.0 L804.8 2285.1 L805.8 2282.3 L806.9 2279.5 L807.9 2276.7 L809.0 2273.9 L810.0 2271.1 L811.1 2268.3 L812.2 2265.4 L813.3 2262.6 L814.3 2259.8 L815.4 2257.0 L816.5 2254.2 L817.6 2251.4 L818.7 2248.6 L819.8 2245.8 L820.8 2243.0 L821.9 2240.1 L823.0 2237.3 L824.1 2234.5 L825.3 2231.7 L826.4 2228.9 L827.5 2226.1 L828.6 2223.3 L829.7 2220.5 L830.8 2217.8 L831.9 2215.0 L833.1 2212.2 L834.2 2209.4 L835.3 2206.6 L836.5 2203.8 L837.6 2201.0 L838.7 2198.2 L839.9 2195.5 L841.0 2192.7 L842.1 2189.9 L843.3 2187.1 L844.4 2184.4 L845.6 2181.6 L846.7 2178.8 L847.9 2176.1 L849.0 2173.3 L850.2 2170.6 L851.4 2167.8 L852.5 2165.0 L853.7 2162.3 L854.9 2159.6 L856.0 2156.8 L857.2 2154.1 L858.4 2151.3 L859.5 2148.6 L860.7 2145.9 L861.9 2143.1 L863.0 2140.4 L864.2 2137.7 L865.4 2135.0 L866.6 2132.3 L867.8 2129.5 L869.0 2126.8 L870.2 2124.1 L871.4 2121.4 L872.7 2118.7 L873.9 2116.0 L875.2 2113.4 L876.4 2110.7 L877.7 2108.0 L879.0 2105.3 L880.3 2102.6 L881.6 2100.0 L883.0 2097.3 L884.4 2094.6 L885.8 2092.0 L887.2 2089.3 L888.6 2086.7 L890.1 2084.0 L891.6 2081.4 L893.1 2078.8 L894.6 2076.1 L896.2 2073.5 L897.7 2070.9 L899.3 2068.3 L900.9 2065.7 L902.5 2063.1 L904.1 2060.5 L905.8 2057.9 L907.4 2055.3 L909.0 2052.7 L910.6 2050.1 L912.2 2047.5 L913.8 2045.0 L915.4 2042.4 L917.0 2039.9 L918.6 2037.4 L920.2 2034.8 L921.8 2032.3 L923.4 2029.8 L925.1 2027.4 L926.7 2024.9 L928.4 2022.5 L930.1 2020.1 L931.8 2017.7 L933.5 2015.4 L935.2 2013.0 L937.0 2010.7 L938.8 2008.5 L940.6 2006.2 L942.5 2004.0 L944.3 2001.8 L946.3 1999.6 L948.2 1997.4 L950.2 1995.2 L952.2 1992.9 L954.3 1990.6 L956.3 1988.3 L958.5 1986.0 L960.6 1983.5 L962.8 1981.1 L965.0 1978.6 L967.3 1976.1 L969.6 1973.7 L972.0 1971.5 L974.4 1969.3 L976.8 1967.4 L979.3 1965.6 L981.8 1964.2 L984.4 1963.0 L987.0 1962.1 L989.6 1961.4 L992.3 1961.0 L995.0 1960.9 L997.7 1960.9 L1000.5 1961.2 L1003.2 1961.7 L1006.0 1962.3 L1008.7 1963.2 L1011.4 1964.2 L1014.2 1965.3 L1016.9 1966.6 L1019.6 1968.0 L1022.3 1969.5 L1024.9 1971.1 L1027.5 1972.8 L1030.1 1974.5 L1032.6 1976.3 L1035.1 1978.2 L1037.5 1980.1 L1039.9 1982.0 L1042.2 1983.9 L1044.5 1985.9 L1046.8 1987.9 L1049.0 1990.0 L1051.1 1992.0 L1053.3 1994.1 L1055.4 1996.3 L1057.4 1998.4 L1059.5 2000.6 L1061.5 2002.8 L1063.4 2005.0 L1065.4 2007.2 L1067.3 2009.5 L1069.3 2011.8 L1071.2 2014.1 L1073.0 2016.4 L1074.9 2018.7 L1076.8 2021.1 L1078.6 2023.4 L1080.5 2025.8 L1082.3 2028.2 L1084.1 2030.6 L1086.0 2033.1 L1087.8 2035.5 L1089.6 2037.9 L1091.4 2040.4 L1093.2 2042.8 L1095.0 2045.3 L1096.7 2047.8 L1098.5 2050.3 L1100.3 2052.7 L1102.0 2055.2 L1103.7 2057.7 L1105.5 2060.2 L1107.2 2062.7 L1108.9 2065.2 L1110.7 2067.7 L1112.4 2070.2 L1114.1 2072.7 L1115.8 2075.2 L1117.4 2077.7 L1119.1 2080.1 L1120.8 2082.6 L1122.5 2085.1 L1124.1 2087.6 L1125.8 2090.0 L1127.4 2092.5 L1129.1 2095.0 L1130.7 2097.5 L1132.4 2099.9 L1134.0 2102.4 L1135.6 2104.9 L1137.2 2107.3 L1138.9 2109.8 L1140.5 2112.2 L1142.1 2114.7 L1143.7 2117.2 L1145.3 2119.6 L1146.9 2122.1 L1148.5 2124.6 L1150.1 2127.1 L1151.7 2129.5 L1153.3 2132.0 L1154.9 2134.5 L1156.5 2137.0 L1158.1 2139.4 L1159.7 2141.9 L1161.3 2144.4 L1162.9 2146.9 L1164.5 2149.4 L1166.1 2151.9 L1167.7 2154.4 L1169.3 2156.9 L1170.9 2159.4 L1172.5 2161.9 L1174.1 2164.5 L1175.8 2167.0 L1177.4 2169.5 L1179.0 2172.0 L1180.6 2174.6 L1182.2 2177.1 L1183.8 2179.6 L1185.4 2182.2 L1187.0 2184.7 L1188.6 2187.3 L1190.3 2189.8 L1191.9 2192.3 L1193.5 2194.9 L1195.1 2197.4 L1196.7 2200.0 L1198.4 2202.6 L1200.0 2205.1 L1201.6 2207.7 L1203.2 2210.2 L1204.8 2212.8 L1206.5 2215.3 L1208.1 2217.9 L1209.7 2220.5 L1211.4 2223.0 L1213.0 2225.6 L1214.6 2228.2 L1216.2 2230.7 L1217.9 2233.3 L1219.5 2235.8 L1221.1 2238.4 L1222.8 2241.0 L1224.4 2243.5 L1226.0 2246.1 L1227.7 2248.7 L1229.3 2251.2 L1231.0 2253.8 L1232.6 2256.4 L1234.2 2258.9 L1235.9 2261.5 L1237.5 2264.0 L1239.2 2266.6 L1240.8 2269.2 L1242.5 2271.7 L1244.1 2274.3 L1245.8 2276.8 L1247.4 2279.4 L1249.1 2281.9 L1250.7 2284.5 L1252.4 2287.0 L1254.0 2289.5 L1255.7 2292.1 L1257.3 2294.6 L1259.0 2297.2 L1260.6 2299.7 L1262.3 2302.2 L1263.9 2304.7 L1265.6 2307.3 L1267.3 2309.8 L1268.9 2312.3 L1270.6 2314.8 L1272.2 2317.3 L1273.9 2319.8 L1275.6 2322.3 L1277.2 2324.8 L1278.9 2327.3 L1280.5 2329.8 L1282.2 2332.3 L1283.9 2334.8 L1285.5 2337.3 L1287.2 2339.8 L1288.8 2342.2 L1290.5 2344.7 L1292.2 2347.1 L1293.8 2349.6 L1295.5 2352.1 L1297.2 2354.5 L1298.8 2356.9 L1300.5 2359.4 L1302.2 2361.8 L1303.9 2364.2 L1305.6 2366.6 L1307.3 2369.1 L1309.0 2371.5 L1310.7 2373.9 L1312.4 2376.3 L1314.2 2378.6 L1315.9 2381.0 L1317.7 2383.4 L1319.4 2385.8 L1321.2 2388.1 L1323.0 2390.5 L1324.8 2392.8 L1326.6 2395.2 L1328.5 2397.5 L1330.3 2399.8 L1332.2 2402.2 L1334.0 2404.5 L1335.9 2406.8 L1337.8 2409.1 L1339.7 2411.4 L1341.6 2413.7 L1343.5 2415.9 L1345.5 2418.2 L1347.4 2420.5 L1349.3 2422.7 L1351.3 2425.0 L1353.3 2427.2 L1355.3 2429.5 L1357.3 2431.7 L1359.3 2433.9 L1361.3 2436.1 L1363.3 2438.3 L1365.3 2440.5 L1367.4 2442.7 L1369.4 2444.9 L1371.5 2447.0 L1373.6 2449.2 L1375.7 2451.4 L1377.8 2453.5 L1379.9 2455.7 L1382.0 2457.8 L1384.1 2459.9 L1386.3 2462.0 L1388.4 2464.1 L1390.6 2466.2 L1392.7 2468.3 L1394.9 2470.4 L1397.1 2472.5 L1399.3 2474.5 L1401.5 2476.6 L1403.7 2478.6 L1405.9 2480.6 L1408.1 2482.7 L1410.4 2484.7 L1412.6 2486.7 L1414.9 2488.7 L1417.1 2490.7 L1419.4 2492.7 L1421.7 2494.6 L1424.0 2496.6 L1426.3 2498.5 L1428.6 2500.5 L1430.9 2502.4 L1433.2 2504.3 L1435.6 2506.3 L1437.9 2508.2 L1440.2 2510.1 L1442.6 2511.9 L1445.0 2513.8 L1447.3 2515.7 L1449.7 2517.5 L1452.1 2519.4 L1454.5 2521.2 L1456.9 2523.0 L1459.3 2524.8 L1461.7 2526.6 L1464.2 2528.4 L1466.6 2530.2 L1469.0 2532.0 L1471.5 2533.7 L1473.9 2535.5 L1476.4 2537.2 L1478.9 2539.0 L1481.4 2540.7 L1483.8 2542.4 L1486.3 2544.1 L1488.8 2545.8 L1491.3 2547.4 L1493.9 2549.1 L1496.4 2550.8 L1498.9 2552.4 L1501.4 2554.0 L1504.0 2555.6 L1506.5 2557.2 L1509.1 2558.8 L1511.6 2560.4 L1514.2 2562.0 L1516.8 2563.6 L1519.4 2565.1 L1521.9 2566.6 L1524.5 2568.2 L1527.1 2569.7 L1529.7 2571.2 L1532.3 2572.7 L1535.0 2574.1 L1537.6 2575.6 L1540.2 2577.1 L1542.8 2578.5 L1545.5 2579.9 L1548.1 2581.4 L1550.8 2582.8 L1553.4 2584.2 L1556.1 2585.6 L1558.7 2586.9 L1561.4 2588.3 L1564.1 2589.7 L1566.8 2591.0 L1569.5 2592.4 L1572.1 2593.7 L1574.8 2595.0 L1577.5 2596.3 L1580.2 2597.6 L1583.0 2598.9 L1585.7 2600.2 L1588.4 2601.4 L1591.1 2602.7 L1593.8 2603.9 L1596.6 2605.2 L1599.3 2606.4 L1602.1 2607.6 L1604.8 2608.8 L1607.6 2610.0 L1610.3 2611.2 L1613.1 2612.4 L1615.8 2613.6 L1618.6 2614.8 L1621.4 2615.9 L1624.1 2617.1 L1626.9 2618.2 L1629.7 2619.4 L1632.5 2620.5 L1635.3 2621.6 L1638.1 2622.7 L1640.9 2623.8 L1643.7 2624.9 L1646.5 2626.0 L1649.3 2627.1 L1652.1 2628.1 L1654.9 2629.2 L1657.7 2630.3 L1660.5 2631.3 L1663.4 2632.3 L1666.2 2633.4 L1669.0 2634.4 L1671.8 2635.4 L1674.7 2636.4 L1677.5 2637.5 L1680.4 2638.5 L1683.2 2639.4 L1686.0 2640.4 L1688.9 2641.4 L1691.7 2642.4 L1694.6 2643.4 L1697.4 2644.3 L1700.3 2645.3 L1703.2 2646.2 L1706.0 2647.2 L1708.9 2648.1 L1711.7 2649.1 L1714.6 2650.0 L1717.5 2650.9 L1720.3 2651.8 L1723.2 2652.7 L1726.1 2653.6 L1729.0 2654.5 L1731.8 2655.4 L1734.7 2656.3 L1737.6 2657.2 L1740.5 2658.1 L1743.4 2659.0 L1746.2 2659.9 L1749.1 2660.7 L1752.0 2661.6 L1754.9 2662.4 L1757.8 2663.3 L1760.7 2664.2 L1763.6 2665.0 L1766.5 2665.9 L1769.3 2666.7 L1772.2 2667.5 L1775.1 2668.4 L1778.0 2669.2 L1780.9 2670.0 L1783.8 2670.8 L1786.7 2671.7 L1789.6 2672.5 L1792.5 2673.3 L1795.4 2674.1 L1798.3 2674.9 L1801.2 2675.7 L1804.1 2676.5 L1807.0 2677.3 L1809.9 2678.1 L1812.8 2678.9 L1815.7 2679.7 L1818.6 2680.5 L1821.5 2681.3 L1824.3 2682.1 L1827.2 2682.9 L1830.1 2683.6 L1833.0 2684.4 L1835.9 2685.2 L1838.8 2686.0 L1841.7 2686.8 L1844.6 2687.5 L1847.5 2688.3 L1850.4 2689.1 L1853.3 2689.9 L1856.1 2690.6 L1859.0 2691.4 L1861.9 2692.2 L1864.8 2692.9 L1867.7 2693.7 L1870.5 2694.5 L1873.4 2695.2 L1876.3 2696.0 L1879.2 2696.8 L1882.1 2697.5 L1884.9 2698.3 L1887.8 2699.1 L1890.7 2699.8"/>
<path d="M309.0 2795.2 L311.5 2794.8 L314.6 2794.5 L317.7 2794.1 L320.7 2793.7 L323.8 2793.4 L326.8 2793.0 L329.9 2792.6 L332.9 2792.2 L336.0 2791.8 L339.0 2791.3 L342.0 2790.9 L345.1 2790.5 L348.1 2790.0 L351.1 2789.5 L354.1 2789.1 L357.1 2788.6 L360.1 2788.1 L363.1 2787.6 L366.1 2787.1 L369.1 2786.5 L372.1 2786.0 L375.1 2785.4 L378.0 2784.9 L381.0 2784.3 L384.0 2783.7 L386.9 2783.1 L389.9 2782.4 L392.8 2781.8 L395.7 2781.1 L398.7 2780.5 L401.6 2779.8 L404.5 2779.1 L407.4 2778.4 L410.3 2777.7 L413.2 2776.9 L416.1 2776.2 L419.0 2775.4 L421.8 2774.6 L424.7 2773.8 L427.6 2773.0 L430.4 2772.1 L433.3 2771.3 L436.1 2770.4 L438.9 2769.5 L441.8 2768.6 L444.6 2767.6 L447.4 2766.7 L450.2 2765.7 L453.0 2764.7 L455.8 2763.7 L458.6 2762.7 L461.3 2761.6 L464.1 2760.6 L466.8 2759.5 L469.6 2758.4 L472.3 2757.2 L475.0 2756.1 L477.7 2754.9 L480.5 2753.7 L483.2 2752.5 L485.8 2751.2 L488.5 2750.0 L491.2 2748.7 L493.9 2747.4 L496.5 2746.0 L499.1 2744.7 L501.8 2743.3 L504.4 2741.9 L507.0 2740.5 L509.6 2739.0 L512.2 2737.6 L514.8 2736.1 L517.4 2734.6 L519.9 2733.0 L522.5 2731.5 L525.0 2729.9 L527.5 2728.3 L530.1 2726.7 L532.6 2725.0 L535.1 2723.3 L537.6 2721.7 L540.0 2720.0 L542.5 2718.2 L544.9 2716.5 L547.4 2714.7 L549.8 2712.9 L552.2 2711.1 L554.6 2709.3 L557.0 2707.5 L559.4 2705.6 L561.8 2703.7 L564.2 2701.8 L566.5 2699.9 L568.8 2698.0 L571.2 2696.0 L573.5 2694.1 L575.8 2692.1 L578.0 2690.1 L580.3 2688.1 L582.6 2686.1 L584.8 2684.0 L587.1 2682.0 L589.3 2679.9 L591.5 2677.8 L593.7 2675.7 L595.9 2673.6 L598.0 2671.4 L600.2 2669.3 L602.3 2667.1 L604.4 2664.9 L606.6 2662.7 L608.6 2660.5 L610.7 2658.3 L612.8 2656.1 L614.9 2653.8 L616.9 2651.6 L618.9 2649.3 L620.9 2647.0 L622.9 2644.8 L624.9 2642.5 L626.9 2640.1 L628.8 2637.8 L630.8 2635.5 L632.7 2633.1 L634.6 2630.8 L636.5 2628.4 L638.4 2626.0 L640.2 2623.7 L642.1 2621.3 L643.9 2618.9 L645.7 2616.4 L647.5 2614.0 L649.3 2611.6 L651.0 2609.1 L652.8 2606.7 L654.5 2604.2 L656.2 2601.7 L657.9 2599.3 L659.5 2596.8 L661.2 2594.3 L662.8 2591.8 L664.4 2589.3 L666.0 2586.7 L667.6 2584.2 L669.1 2581.7 L670.6 2579.1 L672.1 2576.6 L673.6 2574.0 L675.1 2571.5 L676.6 2568.9 L678.0 2566.3 L679.4 2563.7 L680.8 2561.1 L682.2 2558.6 L683.6 2555.9 L685.0 2553.3 L686.4 2550.7 L687.7 2548.1 L689.1 2545.5 L690.4 2542.8 L691.7 2540.2 L693.0 2537.6 L694.3 2534.9 L695.6 2532.3 L696.9 2529.6 L698.2 2526.9 L699.5 2524.3 L700.8 2521.6 L702.1 2518.9 L703.4 2516.3 L704.7 2513.6 L705.9 2510.9 L707.2 2508.2 L708.5 2505.5 L709.8 2502.8 L711.1 2500.1 L712.4 2497.4 L713.7 2494.7 L714.9 2492.0 L716.2 2489.3 L717.6 2486.6 L718.9 2483.9 L720.2 2481.2 L721.5 2478.4 L722.8 2475.7 L724.2 2473.0 L725.5 2470.3 L726.9 2467.5 L728.2 2464.8 L729.6 2462.1 L730.9 2459.4 L732.3 2456.6 L733.6 2453.9 L735.0 2451.2 L736.3 2448.4 L737.7 2445.7 L739.0 2442.9 L740.3 2440.2 L741.7 2437.4 L743.0 2434.7 L744.3 2431.9 L745.7 2429.2 L747.0 2426.4 L748.3 2423.7 L749.6 2420.9 L750.9 2418.2 L752.1 2415.4 L753.4 2412.6 L754.7 2409.9 L755.9 2407.1 L757.1 2404.4 L758.4 2401.6 L759.6 2398.8 L760.7 2396.0 L761.9 2393.3 L763.1 2390.5 L764.2 2387.7 L765.3 2384.9 L766.4 2382.1 L767.5 2379.4 L768.6 2376.6 L769.7 2373.8 L770.7 2371.0 L771.8 2368.2 L772.8 2365.4 L773.8 2362.6 L774.8 2359.8 L775.9 2357.0 L776.8 2354.2 L777.8 2351.4 L778.8 2348.6 L779.8 2345.8 L780.7 2343.0 L781.7 2340.2 L782.6 2337.4 L783.6 2334.6 L784.5 2331.8 L785.5 2329.0 L786.4 2326.1 L787.3 2323.3 L788.2 2320.5 L789.2 2317.7 L790.1 2314.8 L791.0 2312.0 L791.9 2309.2 L792.8 2306.4 L793.7 2303.5 L794.6 2300.7 L795.5 2297.9 L796.5 2295.0 L797.4 2292.2 L798.3 2289.4 L799.2 2286.5 L800.1 2283.7 L801.0 2280.8 L802.0 2278.0 L802.9 2275.1 L803.8 2272.3 L804.8 2269.4 L805.7 2266.6 L806.7 2263.7 L807.6 2260.9 L808.6 2258.0 L809.6 2255.2 L810.6 2252.3 L811.6 2249.4 L812.6 2246.6 L813.6 2243.7 L814.6 2240.8 L815.6 2238.0 L816.6 2235.1 L817.6 2232.2 L818.6 2229.4 L819.7 2226.5 L820.7 2223.6 L821.7 2220.7 L822.7 2217.9 L823.7 2215.0 L824.8 2212.1 L825.8 2209.2 L826.8 2206.3 L827.8 2203.5 L828.7 2200.6 L829.7 2197.7 L830.7 2194.8 L831.6 2191.9 L832.6 2189.0 L833.5 2186.1 L834.4 2183.2 L835.3 2180.4 L836.2 2177.5 L837.1 2174.6 L837.9 2171.7 L838.8 2168.8 L839.6 2165.9 L840.4 2163.0 L841.1 2160.1 L841.9 2157.2 L842.6 2154.3 L843.3 2151.4 L844.0 2148.5 L844.7 2145.6 L845.3 2142.7 L846.0 2139.8 L846.6 2136.9 L847.3 2134.0 L847.9 2131.1 L848.5 2128.2 L849.2 2125.3 L849.8 2122.4 L850.4 2119.5 L851.1 2116.6 L851.7 2113.7 L852.4 2110.9 L853.1 2108.0 L853.7 2105.1 L854.4 2102.2 L855.1 2099.3 L855.8 2096.4 L856.5 2093.5 L857.3 2090.6 L858.0 2087.7 L858.8 2084.8 L859.5 2081.9 L860.3 2079.0 L861.1 2076.1 L861.9 2073.2 L862.7 2070.3 L863.5 2067.4 L864.3 2064.5 L865.1 2061.6 L866.0 2058.7 L866.8 2055.9 L867.7 2053.0 L868.5 2050.1 L869.4 2047.2 L870.2 2044.3 L871.1 2041.4 L872.0 2038.5 L872.9 2035.7 L873.8 2032.8 L874.7 2029.9 L875.6 2027.0 L876.5 2024.1 L877.4 2021.3 L878.3 2018.4 L879.2 2015.5 L880.2 2012.6 L881.1 2009.8 L882.0 2006.9 L883.0 2004.0 L883.9 2001.2 L884.9 1998.3 L885.8 1995.4 L886.7 1992.6 L887.7 1989.7 L888.6 1986.8 L889.6 1984.0 L890.6 1981.1 L891.5 1978.3 L892.5 1975.4 L893.5 1972.6 L894.5 1969.7 L895.4 1966.9 L896.4 1964.1 L897.4 1961.2 L898.5 1958.4 L899.5 1955.6 L900.5 1952.8 L901.6 1949.9 L902.6 1947.1 L903.7 1944.3 L904.7 1941.5 L905.8 1938.7 L906.9 1935.9 L908.0 1933.2 L909.1 1930.4 L910.3 1927.6 L911.4 1924.9 L912.6 1922.1 L913.8 1919.3 L915.0 1916.6 L916.2 1913.9 L917.4 1911.1 L918.7 1908.4 L919.9 1905.7 L921.2 1903.0 L922.5 1900.3 L923.8 1897.6 L925.2 1894.9 L926.5 1892.3 L927.9 1889.6 L929.3 1887.0 L930.7 1884.3 L932.2 1881.7 L933.6 1879.1 L935.1 1876.5 L936.7 1873.9 L938.2 1871.3 L939.8 1868.7 L941.3 1866.1 L943.0 1863.6 L944.6 1861.0 L946.3 1858.5 L948.0 1856.0 L949.7 1853.5 L951.5 1851.0 L953.2 1848.5 L955.0 1846.0 L956.9 1843.5 L958.8 1841.1 L960.7 1838.7 L962.6 1836.3 L964.6 1833.9 L966.6 1831.5 L968.6 1829.2 L970.7 1826.9 L972.8 1824.7 L975.0 1822.6 L977.2 1820.5 L979.4 1818.5 L981.7 1816.6 L984.1 1814.8 L986.5 1813.1 L988.9 1811.5 L991.4 1810.1 L994.0 1808.7 L996.5 1807.5 L999.2 1806.5 L1001.8 1805.6 L1004.5 1804.9 L1007.2 1804.3 L1010.0 1804.0 L1012.7 1803.8 L1015.5 1803.8 L1018.2 1803.9 L1021.0 1804.3 L1023.8 1804.8 L1026.5 1805.4 L1029.2 1806.2 L1031.9 1807.2 L1034.6 1808.2 L1037.2 1809.4 L1039.8 1810.8 L1042.4 1812.2 L1044.9 1813.8 L1047.3 1815.5 L1049.7 1817.2 L1052.1 1819.1 L1054.4 1821.0 L1056.7 1823.0 L1059.0 1825.1 L1061.2 1827.3 L1063.4 1829.5 L1065.5 1831.8 L1067.7 1834.1 L1069.7 1836.5 L1071.8 1838.9 L1073.8 1841.3 L1075.8 1843.7 L1077.7 1846.2 L1079.6 1848.6 L1081.5 1851.1 L1083.4 1853.6 L1085.2 1856.1 L1087.0 1858.6 L1088.8 1861.1 L1090.5 1863.7 L1092.3 1866.2 L1094.0 1868.8 L1095.6 1871.3 L1097.3 1873.9 L1098.9 1876.4 L1100.6 1879.0 L1102.2 1881.6 L1103.7 1884.1 L1105.3 1886.7 L1106.9 1889.3 L1108.4 1891.9 L1109.9 1894.5 L1111.4 1897.0 L1112.9 1899.6 L1114.3 1902.2 L1115.8 1904.8 L1117.2 1907.4 L1118.6 1910.0 L1120.1 1912.6 L1121.5 1915.3 L1122.8 1917.9 L1124.2 1920.5 L1125.6 1923.1 L1126.9 1925.7 L1128.3 1928.3 L1129.6 1931.0 L1131.0 1933.6 L1132.3 1936.2 L1133.6 1938.9 L1134.9 1941.5 L1136.2 1944.1 L1137.5 1946.8 L1138.8 1949.4 L1140.1 1952.1 L1141.4 1954.7 L1142.7 1957.4 L1144.0 1960.0 L1145.3 1962.7 L1146.5 1965.3 L1147.8 1968.0 L1149.1 1970.6 L1150.4 1973.3 L1151.7 1976.0 L1153.0 1978.6 L1154.2 1981.3 L1155.5 1984.0 L1156.8 1986.6 L1158.1 1989.3 L1159.4 1992.0 L1160.7 1994.7 L1162.1 1997.3 L1163.4 2000.0 L1164.7 2002.7 L1166.1 2005.4 L1167.4 2008.1 L1168.7 2010.7 L1170.1 2013.4 L1171.5 2016.1 L1172.8 2018.8 L1174.2 2021.5 L1175.6 2024.2 L1176.9 2026.9 L1178.3 2029.6 L1179.7 2032.3 L1181.1 2034.9 L1182.5 2037.6 L1183.9 2040.3 L1185.4 2043.0 L1186.8 2045.7 L1188.2 2048.4 L1189.6 2051.1 L1191.1 2053.8 L1192.5 2056.5 L1193.9 2059.2 L1195.4 2061.9 L1196.8 2064.6 L1198.3 2067.3 L1199.7 2070.0 L1201.1 2072.7 L1202.6 2075.4 L1204.0 2078.1 L1205.4 2080.8 L1206.9 2083.5 L1208.3 2086.2 L1209.7 2088.9 L1211.1 2091.6 L1212.5 2094.4 L1213.9 2097.1 L1215.2 2099.8 L1216.6 2102.5 L1218.0 2105.2 L1219.3 2107.9 L1220.6 2110.6 L1222.0 2113.3 L1223.3 2116.0 L1224.6 2118.7 L1225.9 2121.4 L1227.2 2124.1 L1228.4 2126.8 L1229.7 2129.5 L1231.0 2132.2 L1232.2 2134.9 L1233.5 2137.6 L1234.7 2140.3 L1236.0 2142.9 L1237.2 2145.6 L1238.5 2148.3 L1239.7 2151.0 L1240.9 2153.7 L1242.1 2156.4 L1243.3 2159.1 L1244.6 2161.8 L1245.8 2164.5 L1247.0 2167.1 L1248.2 2169.8 L1249.4 2172.5 L1250.6 2175.2 L1251.8 2177.9 L1253.1 2180.5 L1254.3 2183.2 L1255.5 2185.9 L1256.8 2188.6 L1258.0 2191.2 L1259.3 2193.9 L1260.6 2196.6 L1261.8 2199.2 L1263.1 2201.9 L1264.5 2204.5 L1265.8 2207.2 L1267.1 2209.9 L1268.5 2212.5 L1269.9 2215.2 L1271.2 2217.8 L1272.7 2220.5 L1274.1 2223.1 L1275.5 2225.7 L1277.0 2228.4 L1278.5 2231.0 L1280.0 2233.6 L1281.6 2236.3 L1283.1 2238.9 L1284.7 2241.5 L1286.2 2244.2 L1287.8 2246.8 L1289.4 2249.4 L1291.0 2252.0 L1292.7 2254.6 L1294.3 2257.2 L1295.9 2259.8 L1297.5 2262.4 L1299.2 2265.0 L1300.8 2267.6 L1302.4 2270.2 L1304.1 2272.8 L1305.7 2275.4 L1307.3 2278.0 L1309.0 2280.5 L1310.6 2283.1 L1312.2 2285.7 L1313.8 2288.3 L1315.4 2290.8 L1317.0 2293.4 L1318.5 2295.9 L1320.1 2298.5 L1321.7 2301.0 L1323.2 2303.6 L1324.8 2306.1 L1326.4 2308.7 L1327.9 2311.2 L1329.5 2313.7 L1331.0 2316.2 L1332.6 2318.8 L1334.2 2321.3 L1335.7 2323.8 L1337.3 2326.3 L1338.9 2328.8 L1340.5 2331.3 L1342.0 2333.8 L1343.6 2336.3 L1345.2 2338.7 L1346.9 2341.2 L1348.5 2343.7 L1350.1 2346.2 L1351.8 2348.6 L1353.5 2351.1 L1355.2 2353.5 L1356.9 2356.0 L1358.6 2358.4 L1360.3 2360.9 L1362.0 2363.3 L1363.8 2365.7 L1365.6 2368.2 L1367.4 2370.6 L1369.2 2373.0 L1371.0 2375.4 L1372.9 2377.8 L1374.7 2380.1 L1376.6 2382.5 L1378.5 2384.9 L1380.4 2387.2 L1382.3 2389.6 L1384.2 2391.9 L1386.2 2394.2 L1388.2 2396.5 L1390.1 2398.8 L1392.1 2401.1 L1394.1 2403.4 L1396.2 2405.6 L1398.2 2407.9 L1400.2 2410.1 L1402.3 2412.3 L1404.4 2414.5 L1406.5 2416.7 L1408.6 2418.9 L1410.7 2421.0 L1412.9 2423.2 L1415.0 2425.3 L1417.2 2427.4 L1419.3 2429.5 L1421.5 2431.6 L1423.7 2433.7 L1426.0 2435.7 L1428.2 2437.7 L1430.4 2439.7 L1432.7 2441.7 L1435.0 2443.7 L1437.2 2445.6 L1439.5 2447.6 L1441.8 2449.5 L1444.2 2451.3 L1446.5 2453.2 L1448.8 2455.1 L1451.2 2456.9 L1453.6 2458.7 L1455.9 2460.4 L1458.3 2462.2 L1460.7 2464.0 L1463.1 2465.7 L1465.6 2467.4 L1468.0 2469.1 L1470.4 2470.8 L1472.9 2472.5 L1475.3 2474.2 L1477.7 2475.9 L1480.2 2477.6 L1482.6 2479.3 L1485.1 2481.0 L1487.5 2482.7 L1490.0 2484.4 L1492.4 2486.2 L1494.8 2487.9 L1497.3 2489.7 L1499.7 2491.4 L1502.1 2493.2 L1504.6 2495.0 L1507.0 2496.8 L1509.4 2498.7 L1511.8 2500.5 L1514.2 2502.4 L1516.6 2504.2 L1519.0 2506.1 L1521.4 2508.0 L1523.8 2509.8 L1526.2 2511.7 L1528.6 2513.6 L1531.0 2515.5 L1533.5 2517.4 L1535.9 2519.2 L1538.3 2521.1 L1540.7 2523.0 L1543.1 2524.8 L1545.6 2526.7 L1548.0 2528.5 L1550.4 2530.3 L1552.9 2532.1 L1555.3 2533.9 L1557.8 2535.7 L1560.3 2537.4 L1562.7 2539.2 L1565.2 2540.9 L1567.7 2542.6 L1570.2 2544.2 L1572.7 2545.8 L1575.3 2547.5 L1577.8 2549.0 L1580.4 2550.6 L1582.9 2552.1 L1585.5 2553.7 L1588.1 2555.1 L1590.7 2556.6 L1593.3 2558.1 L1595.9 2559.5 L1598.5 2560.9 L1601.1 2562.3 L1603.8 2563.6 L1606.4 2565.0 L1609.1 2566.3 L1611.7 2567.6 L1614.4 2568.9 L1617.1 2570.2 L1619.8 2571.4 L1622.5 2572.7 L1625.2 2573.9 L1627.9 2575.1 L1630.6 2576.3 L1633.3 2577.5 L1636.0 2578.7 L1638.8 2579.8 L1641.5 2581.0 L1644.3 2582.1 L1647.0 2583.2 L1649.8 2584.3 L1652.5 2585.4 L1655.3 2586.5 L1658.1 2587.6 L1660.9 2588.6 L1663.7 2589.7 L1666.4 2590.7 L1669.2 2591.8 L1672.0 2592.8 L1674.8 2593.8 L1677.7 2594.8 L1680.5 2595.9 L1683.3 2596.9 L1686.1 2597.9 L1688.9 2598.9 L1691.8 2599.9 L1694.6 2600.8 L1697.4 2601.8 L1700.3 2602.8 L1703.1 2603.8 L1705.9 2604.8 L1708.8 2605.7 L1711.6 2606.7 L1714.5 2607.7 L1717.3 2608.7 L1720.2 2609.7 L1723.0 2610.6 L1725.9 2611.6 L1728.8 2612.6 L1731.6 2613.6 L1734.5 2614.6 L1737.3 2615.6 L1740.2 2616.6 L1743.0 2617.6 L1745.9 2618.6 L1748.8 2619.6 L1751.6 2620.6 L1754.5 2621.6 L1757.3 2622.7 L1760.2 2623.7 L1763.1 2624.7 L1765.9 2625.8 L1768.8 2626.8 L1771.6 2627.9 L1774.5 2628.9 L1777.3 2630.0 L1780.2 2631.1 L1783.0 2632.1 L1785.9 2633.2 L1788.7 2634.3 L1791.5 2635.4 L1794.4 2636.4 L1797.2 2637.5 L1800.0 2638.6 L1802.9 2639.7 L1805.7 2640.8 L1808.5 2642.0 L1811.3 2643.1 L1814.1 2644.2 L1816.9 2645.3 L1819.7 2646.4 L1822.5 2647.6 L1825.3 2648.7 L1828.1 2649.8 L1830.9 2651.0 L1833.7 2652.1 L1836.5 2653.3 L1839.2 2654.4 L1842.0 2655.6 L1844.8 2656.7 L1847.5 2657.9 L1850.3 2659.1 L1853.0 2660.2 L1855.7 2661.4 L1858.4 2662.6 L1861.2 2663.8 L1863.9 2664.9 L1866.6 2666.1 L1869.3 2667.3 L1872.0 2668.5 L1874.7 2669.7 L1877.3 2670.9 L1880.0 2672.1 L1882.7 2673.3 L1885.3 2674.5 L1887.9 2675.7 L1890.6 2677.0"/>
<path d="M309.4 2799.9 L312.3 2800.4 L315.2 2800.8 L318.1 2801.1 L320.9 2801.3 L323.8 2801.4 L326.7 2801.4 L329.6 2801.3 L332.6 2801.2 L335.5 2800.9 L338.4 2800.6 L341.4 2800.3 L344.3 2799.8 L347.2 2799.3 L350.2 2798.8 L353.1 2798.2 L356.1 2797.5 L359.1 2796.9 L362.0 2796.1 L365.0 2795.4 L368.0 2794.6 L370.9 2793.8 L373.9 2793.0 L376.9 2792.1 L379.9 2791.3 L382.8 2790.4 L385.8 2789.6 L388.8 2788.7 L391.8 2787.8 L394.7 2787.0 L397.7 2786.2 L400.7 2785.4 L403.6 2784.6 L406.6 2783.8 L409.6 2783.1 L412.5 2782.3 L415.5 2781.6 L418.5 2780.9 L421.4 2780.2 L424.4 2779.6 L427.3 2778.9 L430.2 2778.2 L433.2 2777.5 L436.1 2776.9 L439.0 2776.2 L441.9 2775.5 L444.9 2774.9 L447.8 2774.2 L450.6 2773.5 L453.5 2772.8 L456.4 2772.1 L459.3 2771.3 L462.1 2770.6 L465.0 2769.8 L467.8 2769.0 L470.7 2768.2 L473.5 2767.4 L476.3 2766.5 L479.1 2765.6 L481.9 2764.7 L484.7 2763.7 L487.4 2762.7 L490.2 2761.7 L492.9 2760.6 L495.6 2759.5 L498.4 2758.3 L501.1 2757.1 L503.7 2755.9 L506.4 2754.6 L509.1 2753.3 L511.7 2751.9 L514.4 2750.5 L517.0 2749.1 L519.6 2747.6 L522.2 2746.1 L524.7 2744.6 L527.3 2743.0 L529.9 2741.4 L532.4 2739.8 L534.9 2738.2 L537.4 2736.5 L539.9 2734.8 L542.4 2733.1 L544.9 2731.3 L547.4 2729.6 L549.8 2727.8 L552.3 2726.0 L554.7 2724.1 L557.1 2722.3 L559.5 2720.4 L561.9 2718.5 L564.2 2716.6 L566.6 2714.7 L568.9 2712.8 L571.3 2710.9 L573.6 2708.9 L575.9 2706.9 L578.2 2705.0 L580.5 2703.0 L582.7 2701.0 L585.0 2699.0 L587.2 2697.0 L589.4 2695.0 L591.6 2692.9 L593.9 2690.9 L596.0 2688.8 L598.2 2686.8 L600.4 2684.7 L602.5 2682.6 L604.7 2680.5 L606.8 2678.4 L608.9 2676.3 L611.0 2674.1 L613.1 2672.0 L615.2 2669.8 L617.2 2667.6 L619.3 2665.4 L621.3 2663.2 L623.3 2660.9 L625.3 2658.7 L627.3 2656.4 L629.3 2654.1 L631.3 2651.8 L633.2 2649.5 L635.2 2647.2 L637.1 2644.8 L639.0 2642.5 L640.9 2640.1 L642.8 2637.7 L644.6 2635.3 L646.4 2632.9 L648.2 2630.4 L650.0 2628.0 L651.8 2625.5 L653.5 2623.1 L655.3 2620.6 L656.9 2618.1 L658.6 2615.6 L660.3 2613.1 L661.9 2610.5 L663.5 2608.0 L665.0 2605.4 L666.5 2602.9 L668.0 2600.3 L669.5 2597.7 L670.9 2595.1 L672.4 2592.5 L673.7 2589.9 L675.1 2587.3 L676.4 2584.7 L677.7 2582.0 L678.9 2579.4 L680.1 2576.7 L681.3 2574.0 L682.5 2571.4 L683.7 2568.7 L684.8 2566.0 L685.9 2563.3 L687.1 2560.6 L688.2 2557.9 L689.3 2555.2 L690.4 2552.5 L691.5 2549.8 L692.5 2547.0 L693.6 2544.3 L694.7 2541.6 L695.8 2538.8 L696.9 2536.1 L698.0 2533.3 L699.1 2530.6 L700.3 2527.8 L701.4 2525.1 L702.6 2522.3 L703.7 2519.5 L704.9 2516.8 L706.1 2514.0 L707.4 2511.2 L708.6 2508.5 L709.8 2505.7 L711.1 2502.9 L712.4 2500.1 L713.6 2497.4 L714.9 2494.6 L716.2 2491.8 L717.5 2489.1 L718.8 2486.3 L720.1 2483.5 L721.4 2480.7 L722.8 2478.0 L724.1 2475.2 L725.4 2472.4 L726.8 2469.7 L728.1 2466.9 L729.5 2464.1 L730.8 2461.4 L732.2 2458.6 L733.5 2455.8 L734.9 2453.1 L736.2 2450.3 L737.6 2447.5 L738.9 2444.8 L740.2 2442.0 L741.6 2439.3 L742.9 2436.5 L744.2 2433.7 L745.6 2431.0 L746.9 2428.2 L748.2 2425.5 L749.5 2422.7 L750.8 2419.9 L752.1 2417.2 L753.4 2414.4 L754.6 2411.7 L755.9 2408.9 L757.1 2406.1 L758.4 2403.4 L759.6 2400.6 L760.8 2397.9 L762.0 2395.1 L763.2 2392.3 L764.3 2389.6 L765.5 2386.8 L766.6 2384.0 L767.8 2381.3 L768.9 2378.5 L770.0 2375.7 L771.1 2373.0 L772.2 2370.2 L773.2 2367.4 L774.3 2364.7 L775.4 2361.9 L776.4 2359.1 L777.5 2356.3 L778.5 2353.6 L779.5 2350.8 L780.5 2348.0 L781.5 2345.2 L782.5 2342.4 L783.5 2339.7 L784.5 2336.9 L785.4 2334.1 L786.4 2331.3 L787.4 2328.5 L788.3 2325.7 L789.3 2322.9 L790.2 2320.1 L791.1 2317.3 L792.1 2314.5 L793.0 2311.7 L793.9 2308.9 L794.8 2306.1 L795.7 2303.3 L796.6 2300.4 L797.5 2297.6 L798.4 2294.8 L799.3 2292.0 L800.2 2289.2 L801.1 2286.3 L802.0 2283.5 L802.9 2280.7 L803.8 2277.8 L804.7 2275.0 L805.6 2272.1 L806.4 2269.3 L807.3 2266.5 L808.2 2263.6 L809.1 2260.7 L810.0 2257.9 L810.9 2255.0 L811.7 2252.2 L812.6 2249.3 L813.5 2246.4 L814.4 2243.5 L815.3 2240.7 L816.2 2237.8 L817.1 2234.9 L817.9 2232.0 L818.8 2229.1 L819.7 2226.2 L820.6 2223.3 L821.5 2220.4 L822.3 2217.5 L823.2 2214.6 L824.1 2211.7 L824.9 2208.8 L825.8 2205.9 L826.6 2203.0 L827.5 2200.1 L828.3 2197.2 L829.2 2194.2 L830.0 2191.3 L830.8 2188.4 L831.7 2185.5 L832.5 2182.6 L833.3 2179.6 L834.1 2176.7 L834.9 2173.8 L835.7 2170.8 L836.4 2167.9 L837.2 2165.0 L838.0 2162.0 L838.7 2159.1 L839.5 2156.1 L840.2 2153.2 L840.9 2150.3 L841.7 2147.3 L842.4 2144.4 L843.1 2141.4 L843.7 2138.5 L844.4 2135.5 L845.1 2132.6 L845.7 2129.7 L846.4 2126.7 L847.0 2123.8 L847.6 2120.8 L848.2 2117.9 L848.8 2114.9 L849.4 2112.0 L849.9 2109.0 L850.5 2106.1 L851.0 2103.1 L851.5 2100.2 L852.1 2097.2 L852.6 2094.3 L853.1 2091.3 L853.6 2088.4 L854.1 2085.4 L854.6 2082.5 L855.1 2079.5 L855.6 2076.6 L856.1 2073.6 L856.6 2070.7 L857.1 2067.8 L857.7 2064.8 L858.2 2061.9 L858.8 2058.9 L859.4 2056.0 L860.0 2053.1 L860.6 2050.1 L861.2 2047.2 L861.9 2044.3 L862.5 2041.3 L863.2 2038.4 L863.9 2035.5 L864.7 2032.5 L865.4 2029.6 L866.2 2026.7 L866.9 2023.8 L867.7 2020.8 L868.5 2017.9 L869.3 2015.0 L870.1 2012.1 L871.0 2009.2 L871.8 2006.3 L872.6 2003.4 L873.5 2000.5 L874.4 1997.6 L875.2 1994.7 L876.1 1991.8 L877.0 1988.9 L877.9 1986.0 L878.8 1983.1 L879.7 1980.2 L880.6 1977.3 L881.6 1974.4 L882.5 1971.6 L883.4 1968.7 L884.3 1965.8 L885.2 1963.0 L886.2 1960.1 L887.1 1957.2 L888.0 1954.4 L889.0 1951.5 L889.9 1948.7 L890.8 1945.8 L891.8 1943.0 L892.7 1940.1 L893.7 1937.3 L894.6 1934.5 L895.6 1931.6 L896.5 1928.8 L897.5 1926.0 L898.5 1923.2 L899.4 1920.3 L900.4 1917.5 L901.4 1914.7 L902.4 1911.9 L903.4 1909.1 L904.4 1906.3 L905.4 1903.5 L906.4 1900.7 L907.5 1897.9 L908.5 1895.1 L909.6 1892.4 L910.6 1889.6 L911.7 1886.8 L912.8 1884.0 L913.9 1881.3 L915.0 1878.5 L916.1 1875.7 L917.2 1873.0 L918.4 1870.2 L919.5 1867.4 L920.7 1864.7 L921.9 1861.9 L923.1 1859.2 L924.3 1856.5 L925.5 1853.7 L926.7 1851.0 L928.0 1848.2 L929.3 1845.5 L930.5 1842.8 L931.9 1840.1 L933.2 1837.3 L934.5 1834.6 L935.9 1831.9 L937.2 1829.2 L938.6 1826.5 L940.0 1823.8 L941.5 1821.1 L942.9 1818.4 L944.4 1815.7 L945.9 1813.0 L947.4 1810.3 L948.9 1807.6 L950.5 1804.9 L952.1 1802.3 L953.7 1799.7 L955.4 1797.1 L957.1 1794.5 L958.8 1792.0 L960.6 1789.5 L962.4 1787.1 L964.3 1784.7 L966.2 1782.3 L968.2 1780.0 L970.2 1777.8 L972.3 1775.7 L974.4 1773.6 L976.6 1771.6 L978.9 1769.6 L981.3 1767.8 L983.7 1766.0 L986.1 1764.3 L988.7 1762.8 L991.3 1761.3 L994.0 1759.9 L996.7 1758.8 L999.5 1757.7 L1002.3 1756.8 L1005.2 1756.1 L1008.0 1755.6 L1010.9 1755.3 L1013.8 1755.2 L1016.7 1755.1 L1019.6 1755.2 L1022.5 1755.3 L1025.4 1755.5 L1028.3 1755.7 L1031.1 1755.9 L1033.9 1756.1 L1036.7 1756.4 L1039.4 1756.8 L1042.1 1757.4 L1044.8 1758.1 L1047.5 1758.9 L1050.1 1759.9 L1052.7 1761.0 L1055.2 1762.3 L1057.7 1763.7 L1060.2 1765.2 L1062.7 1766.9 L1065.1 1768.7 L1067.4 1770.5 L1069.8 1772.5 L1072.1 1774.6 L1074.3 1776.7 L1076.6 1779.0 L1078.7 1781.3 L1080.9 1783.7 L1083.0 1786.1 L1085.0 1788.6 L1087.0 1791.1 L1089.0 1793.6 L1090.9 1796.2 L1092.8 1798.8 L1094.6 1801.5 L1096.4 1804.1 L1098.2 1806.7 L1099.9 1809.4 L1101.5 1812.0 L1103.1 1814.6 L1104.7 1817.2 L1106.2 1819.8 L1107.7 1822.4 L1109.2 1825.0 L1110.7 1827.6 L1112.1 1830.2 L1113.5 1832.8 L1114.8 1835.4 L1116.2 1838.0 L1117.5 1840.6 L1118.8 1843.2 L1120.2 1845.8 L1121.5 1848.3 L1122.8 1850.9 L1124.0 1853.5 L1125.3 1856.1 L1126.6 1858.7 L1127.9 1861.2 L1129.2 1863.8 L1130.5 1866.4 L1131.9 1869.0 L1133.2 1871.5 L1134.5 1874.1 L1135.9 1876.7 L1137.3 1879.3 L1138.7 1881.9 L1140.2 1884.4 L1141.6 1887.0 L1143.1 1889.6 L1144.6 1892.2 L1146.2 1894.8 L1147.7 1897.4 L1149.3 1900.0 L1150.9 1902.6 L1152.5 1905.2 L1154.1 1907.8 L1155.7 1910.5 L1157.3 1913.1 L1158.9 1915.7 L1160.4 1918.3 L1162.0 1921.0 L1163.6 1923.6 L1165.1 1926.3 L1166.7 1928.9 L1168.2 1931.6 L1169.7 1934.2 L1171.1 1936.9 L1172.6 1939.6 L1174.0 1942.3 L1175.4 1945.0 L1176.8 1947.7 L1178.2 1950.4 L1179.5 1953.1 L1180.8 1955.8 L1182.1 1958.5 L1183.4 1961.2 L1184.7 1964.0 L1185.9 1966.7 L1187.2 1969.4 L1188.4 1972.2 L1189.6 1974.9 L1190.8 1977.7 L1192.0 1980.4 L1193.1 1983.2 L1194.3 1985.9 L1195.4 1988.7 L1196.6 1991.5 L1197.7 1994.2 L1198.8 1997.0 L1200.0 1999.8 L1201.1 2002.5 L1202.2 2005.3 L1203.3 2008.1 L1204.4 2010.9 L1205.5 2013.7 L1206.6 2016.4 L1207.6 2019.2 L1208.7 2022.0 L1209.8 2024.8 L1210.9 2027.6 L1212.0 2030.3 L1213.1 2033.1 L1214.2 2035.9 L1215.3 2038.7 L1216.4 2041.5 L1217.5 2044.3 L1218.6 2047.0 L1219.7 2049.8 L1220.8 2052.6 L1221.9 2055.4 L1223.1 2058.1 L1224.2 2060.9 L1225.3 2063.7 L1226.5 2066.4 L1227.7 2069.2 L1228.8 2072.0 L1230.0 2074.7 L1231.2 2077.5 L1232.3 2080.3 L1233.5 2083.0 L1234.7 2085.8 L1235.9 2088.5 L1237.1 2091.3 L1238.4 2094.1 L1239.6 2096.8 L1240.8 2099.6 L1242.0 2102.3 L1243.3 2105.0 L1244.5 2107.8 L1245.8 2110.5 L1247.0 2113.3 L1248.3 2116.0 L1249.5 2118.7 L1250.8 2121.5 L1252.1 2124.2 L1253.4 2126.9 L1254.7 2129.6 L1256.0 2132.4 L1257.3 2135.1 L1258.6 2137.8 L1259.9 2140.5 L1261.2 2143.2 L1262.5 2145.9 L1263.8 2148.6 L1265.2 2151.3 L1266.5 2154.0 L1267.9 2156.7 L1269.2 2159.4 L1270.6 2162.1 L1271.9 2164.8 L1273.3 2167.5 L1274.7 2170.2 L1276.1 2172.9 L1277.4 2175.5 L1278.8 2178.2 L1280.2 2180.9 L1281.6 2183.5 L1283.0 2186.2 L1284.4 2188.9 L1285.9 2191.5 L1287.3 2194.2 L1288.7 2196.8 L1290.1 2199.5 L1291.6 2202.1 L1293.0 2204.8 L1294.5 2207.4 L1295.9 2210.0 L1297.4 2212.7 L1298.8 2215.3 L1300.3 2217.9 L1301.8 2220.5 L1303.3 2223.1 L1304.7 2225.7 L1306.2 2228.4 L1307.7 2231.0 L1309.2 2233.6 L1310.7 2236.1 L1312.2 2238.7 L1313.8 2241.3 L1315.3 2243.9 L1316.8 2246.5 L1318.3 2249.1 L1319.9 2251.6 L1321.4 2254.2 L1322.9 2256.8 L1324.5 2259.3 L1326.0 2261.9 L1327.6 2264.4 L1329.2 2267.0 L1330.7 2269.5 L1332.3 2272.0 L1333.9 2274.6 L1335.5 2277.1 L1337.1 2279.6 L1338.6 2282.1 L1340.2 2284.6 L1341.8 2287.1 L1343.4 2289.6 L1345.1 2292.1 L1346.7 2294.6 L1348.3 2297.1 L1350.0 2299.6 L1351.6 2302.1 L1353.3 2304.5 L1355.0 2307.0 L1356.6 2309.5 L1358.3 2311.9 L1360.1 2314.4 L1361.8 2316.8 L1363.5 2319.3 L1365.3 2321.7 L1367.1 2324.1 L1368.9 2326.6 L1370.7 2329.0 L1372.5 2331.4 L1374.4 2333.8 L1376.2 2336.2 L1378.1 2338.6 L1380.0 2341.0 L1381.9 2343.4 L1383.8 2345.7 L1385.7 2348.1 L1387.6 2350.5 L1389.5 2352.9 L1391.4 2355.2 L1393.4 2357.6 L1395.3 2359.9 L1397.3 2362.2 L1399.2 2364.6 L1401.1 2366.9 L1403.1 2369.2 L1405.1 2371.5 L1407.0 2373.8 L1409.0 2376.1 L1410.9 2378.4 L1412.9 2380.7 L1414.8 2383.0 L1416.7 2385.3 L1418.7 2387.6 L1420.6 2389.8 L1422.6 2392.1 L1424.5 2394.3 L1426.4 2396.6 L1428.4 2398.8 L1430.3 2401.0 L1432.2 2403.3 L1434.2 2405.5 L1436.1 2407.7 L1438.1 2409.9 L1440.0 2412.1 L1442.0 2414.2 L1444.0 2416.4 L1446.0 2418.6 L1448.0 2420.7 L1450.0 2422.9 L1452.0 2425.0 L1454.0 2427.1 L1456.1 2429.2 L1458.2 2431.3 L1460.2 2433.4 L1462.3 2435.5 L1464.5 2437.6 L1466.6 2439.7 L1468.7 2441.7 L1470.9 2443.8 L1473.1 2445.8 L1475.3 2447.8 L1477.6 2449.8 L1479.8 2451.8 L1482.1 2453.8 L1484.4 2455.8 L1486.7 2457.8 L1489.0 2459.7 L1491.3 2461.7 L1493.7 2463.6 L1496.1 2465.5 L1498.5 2467.4 L1500.8 2469.3 L1503.3 2471.2 L1505.7 2473.0 L1508.1 2474.9 L1510.6 2476.7 L1513.0 2478.5 L1515.5 2480.3 L1518.0 2482.1 L1520.4 2483.9 L1522.9 2485.7 L1525.4 2487.4 L1527.9 2489.2 L1530.4 2490.9 L1533.0 2492.6 L1535.5 2494.3 L1538.0 2496.0 L1540.5 2497.6 L1543.1 2499.3 L1545.6 2500.9 L1548.2 2502.5 L1550.7 2504.1 L1553.3 2505.7 L1555.8 2507.3 L1558.4 2508.9 L1561.0 2510.5 L1563.6 2512.0 L1566.1 2513.5 L1568.7 2515.1 L1571.3 2516.6 L1573.9 2518.1 L1576.5 2519.6 L1579.1 2521.0 L1581.7 2522.5 L1584.4 2524.0 L1587.0 2525.4 L1589.6 2526.8 L1592.2 2528.3 L1594.9 2529.7 L1597.5 2531.1 L1600.1 2532.5 L1602.8 2533.9 L1605.4 2535.3 L1608.1 2536.6 L1610.7 2538.0 L1613.4 2539.3 L1616.0 2540.7 L1618.7 2542.0 L1621.4 2543.4 L1624.0 2544.7 L1626.7 2546.0 L1629.4 2547.3 L1632.1 2548.6 L1634.8 2549.9 L1637.5 2551.2 L1640.2 2552.5 L1642.8 2553.8 L1645.5 2555.1 L1648.2 2556.4 L1650.9 2557.6 L1653.7 2558.9 L1656.4 2560.1 L1659.1 2561.4 L1661.8 2562.6 L1664.5 2563.9 L1667.2 2565.1 L1670.0 2566.4 L1672.7 2567.6 L1675.4 2568.8 L1678.1 2570.1 L1680.9 2571.3 L1683.6 2572.5 L1686.3 2573.8 L1689.1 2575.0 L1691.8 2576.2 L1694.5 2577.4 L1697.3 2578.6 L1700.0 2579.9 L1702.8 2581.1 L1705.5 2582.3 L1708.3 2583.5 L1711.0 2584.7 L1713.8 2585.9 L1716.5 2587.2 L1719.3 2588.4 L1722.1 2589.6 L1724.8 2590.8 L1727.6 2592.0 L1730.3 2593.3 L1733.1 2594.5 L1735.9 2595.7 L1738.6 2596.9 L1741.4 2598.2 L1744.2 2599.4 L1746.9 2600.6 L1749.7 2601.8 L1752.5 2603.1 L1755.2 2604.3 L1758.0 2605.5 L1760.8 2606.8 L1763.5 2608.0 L1766.3 2609.2 L1769.1 2610.5 L1771.8 2611.7 L1774.6 2612.9 L1777.4 2614.1 L1780.2 2615.4 L1782.9 2616.6 L1785.7 2617.8 L1788.5 2619.0 L1791.2 2620.3 L1794.0 2621.5 L1796.8 2622.7 L1799.6 2623.9 L1802.3 2625.1 L1805.1 2626.3 L1807.9 2627.5 L1810.6 2628.7 L1813.4 2629.9 L1816.2 2631.1 L1818.9 2632.3 L1821.7 2633.5 L1824.5 2634.7 L1827.2 2635.9 L1830.0 2637.1 L1832.7 2638.2 L1835.5 2639.4 L1838.3 2640.6 L1841.0 2641.7 L1843.8 2642.9 L1846.5 2644.1 L1849.3 2645.2 L1852.0 2646.3 L1854.8 2647.5 L1857.5 2648.6 L1860.3 2649.7 L1863.0 2650.9 L1865.8 2652.0 L1868.5 2653.1 L1871.3 2654.2 L1874.0 2655.3 L1876.7 2656.4 L1879.5 2657.4 L1882.2 2658.5 L1884.9 2659.6 L1887.7 2660.6 L1890.4 2661.7"/>
</g>
<g stroke="#000" fill="none">
<path d="M307 1676.5 H1893.5 V2825.3 H307 Z" stroke-width="5" stroke-linejoin="miter"/>
<line x1="290" y1="2825.2" x2="307" y2="2825.2" stroke-width="5"/>
<line x1="290" y1="2661.1" x2="307" y2="2661.1" stroke-width="5"/>
<line x1="290" y1="2497.0" x2="307" y2="2497.0" stroke-width="5"/>
<line x1="290" y1="2332.8" x2="307" y2="2332.8" stroke-width="5"/>
<line x1="290" y1="2168.7" x2="307" y2="2168.7" stroke-width="5"/>
<line x1="290" y1="2004.6" x2="307" y2="2004.6" stroke-width="5"/>
<line x1="290" y1="1840.4" x2="307" y2="1840.4" stroke-width="5"/>
<line x1="290" y1="1676.3" x2="307" y2="1676.3" stroke-width="5"/>
<line x1="379.1" y1="2825.3" x2="379.1" y2="2842.5" stroke-width="5"/>
<line x1="667.7" y1="2825.3" x2="667.7" y2="2842.5" stroke-width="5"/>
<line x1="956.2" y1="2825.3" x2="956.2" y2="2842.5" stroke-width="5"/>
<line x1="1244.8" y1="2825.3" x2="1244.8" y2="2842.5" stroke-width="5"/>
<line x1="1533.3" y1="2825.3" x2="1533.3" y2="2842.5" stroke-width="5"/>
<line x1="1821.8" y1="2825.3" x2="1821.8" y2="2842.5" stroke-width="5"/>
</g>
<g font-family="'Liberation Sans', Arial, sans-serif" font-size="55" fill="#000" text-anchor="end">
<text x="264.5" y="2844.8">0</text>
<text x="264.5" y="2680.6">100</text>
<text x="264.5" y="2516.5">200</text>
<text x="264.5" y="2352.3">300</text>
<text x="264.5" y="2188.2">400</text>
<text x="264.5" y="2024.1">500</text>
<text x="264.5" y="1859.9">600</text>
<text x="264.5" y="1695.8">700</text>
</g>
<g font-family="'Liberation Sans', Arial, sans-serif" font-size="55" fill="#000" text-anchor="middle">
<text x="379.1" y="2919.5">540</text>
<text x="667.7" y="2919.5">560</text>
<text x="956.2" y="2919.5">580</text>
<text x="1244.8" y="2919.5">600</text>
<text x="1533.3" y="2919.5">620</text>
<text x="1821.8" y="2919.5">640</text>
</g>
<text x="1102.8" y="3035.5" font-family="'Liberation Sans', Arial, sans-serif" font-size="71.2" text-anchor="middle">Wavelength, nm</text>
<text transform="translate(118 2250) rotate(-90)" font-family="'Liberation Sans', Arial, sans-serif" font-size="72" text-anchor="middle">Intensity, a.u.</text>
<g stroke="#000" fill="none" stroke-width="3.5">
<line x1="535.2" y1="1894" x2="535.2" y2="2464"/>
<polyline points="514.2,2390.2 535.2,2465.5 556.2,2390.2" stroke-linejoin="miter" stroke-miterlimit="10"/>
</g>
<text x="486" y="1876" font-family="'Liberation Sans', Arial, sans-serif" font-size="55">55 <tspan dx="-3.5" font-family="'Noto Serif CJK SC', 'Liberation Serif', serif">μ</tspan><tspan dx="-3">M</tspan></text>
<text x="458" y="2521" font-family="'Liberation Sans', Arial, sans-serif" font-size="55">100 <tspan dx="-3.5" font-family="'Noto Serif CJK SC', 'Liberation Serif', serif">μ</tspan><tspan dx="-3">M</tspan></text>
<text x="1015" y="3193" font-family="'Liberation Serif', 'Times New Roman', serif" font-size="77" text-anchor="middle">(<tspan font-weight="bold">b</tspan>)</text>
</svg>
</body></html>
